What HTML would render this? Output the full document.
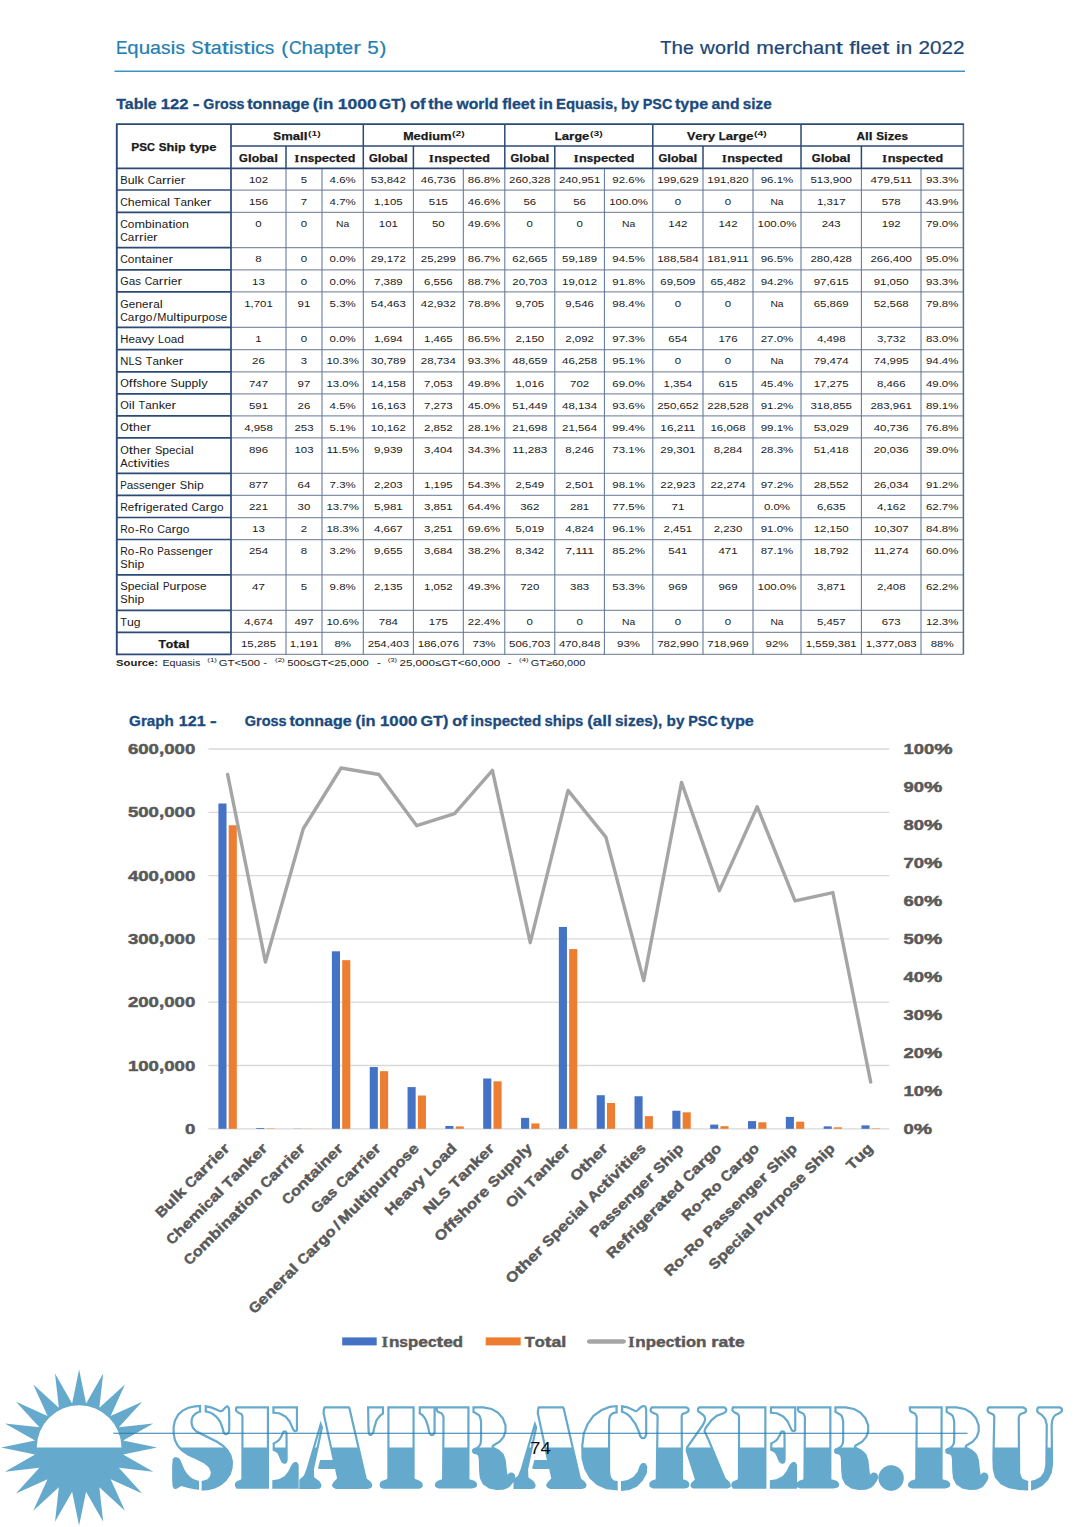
<!DOCTYPE html>
<html><head><meta charset="utf-8"><title>Equasis Statistics - Table 122 / Graph 121</title>
<style>
html,body{margin:0;padding:0;background:#fff;}
body{width:1080px;height:1527px;overflow:hidden;font-family:"Liberation Sans",sans-serif;}
svg{display:block;}
svg text{font-family:"Liberation Sans",sans-serif;}
</style></head>
<body>
<svg width="1080" height="1527" viewBox="0 0 1080 1527">
<rect width="1080" height="1527" fill="#fff"/>
<g font-size="18.0" fill="#2580b2" stroke="#2580b2" stroke-width="0.2"><text x="115.90" y="53.80" textLength="11.46" lengthAdjust="spacingAndGlyphs">E</text><text x="127.36" y="53.80" textLength="11.29" lengthAdjust="spacingAndGlyphs">q</text><text x="138.65" y="53.80" textLength="11.48" lengthAdjust="spacingAndGlyphs">u</text><text x="150.13" y="53.80" textLength="10.90" lengthAdjust="spacingAndGlyphs">a</text><text x="161.03" y="53.80" textLength="9.45" lengthAdjust="spacingAndGlyphs">s</text><text x="170.47" y="53.80" textLength="4.97" lengthAdjust="spacingAndGlyphs">i</text><text x="175.44" y="53.80" textLength="9.45" lengthAdjust="spacingAndGlyphs">s</text><text x="191.27" y="53.80" textLength="12.40" lengthAdjust="spacingAndGlyphs">S</text><text x="203.67" y="53.80" textLength="7.14" lengthAdjust="spacingAndGlyphs">t</text><text x="210.81" y="53.80" textLength="10.90" lengthAdjust="spacingAndGlyphs">a</text><text x="221.71" y="53.80" textLength="7.14" lengthAdjust="spacingAndGlyphs">t</text><text x="228.85" y="53.80" textLength="4.97" lengthAdjust="spacingAndGlyphs">i</text><text x="233.82" y="53.80" textLength="9.45" lengthAdjust="spacingAndGlyphs">s</text><text x="243.26" y="53.80" textLength="7.14" lengthAdjust="spacingAndGlyphs">t</text><text x="250.41" y="53.80" textLength="4.97" lengthAdjust="spacingAndGlyphs">i</text><text x="255.37" y="53.80" textLength="9.45" lengthAdjust="spacingAndGlyphs">c</text><text x="264.82" y="53.80" textLength="9.45" lengthAdjust="spacingAndGlyphs">s</text><text x="281.32" y="53.80" textLength="6.89" lengthAdjust="spacingAndGlyphs">(</text><text x="288.88" y="53.80" textLength="12.65" lengthAdjust="spacingAndGlyphs">C</text><text x="301.53" y="53.80" textLength="11.48" lengthAdjust="spacingAndGlyphs">h</text><text x="313.01" y="53.80" textLength="10.90" lengthAdjust="spacingAndGlyphs">a</text><text x="323.91" y="53.80" textLength="11.29" lengthAdjust="spacingAndGlyphs">p</text><text x="335.20" y="53.80" textLength="7.14" lengthAdjust="spacingAndGlyphs">t</text><text x="342.34" y="53.80" textLength="10.81" lengthAdjust="spacingAndGlyphs">e</text><text x="353.15" y="53.80" textLength="7.74" lengthAdjust="spacingAndGlyphs">r</text><text x="367.27" y="53.80" textLength="11.53" lengthAdjust="spacingAndGlyphs">5</text><text x="379.47" y="53.80" textLength="6.89" lengthAdjust="spacingAndGlyphs">)</text></g>
<g font-size="18.0" fill="#1c4677" stroke="#1c4677" stroke-width="0.2"><text x="660.27" y="53.80" textLength="11.16" lengthAdjust="spacingAndGlyphs">T</text><text x="671.44" y="53.80" textLength="11.47" lengthAdjust="spacingAndGlyphs">h</text><text x="682.91" y="53.80" textLength="10.80" lengthAdjust="spacingAndGlyphs">e</text><text x="700.08" y="53.80" textLength="14.82" lengthAdjust="spacingAndGlyphs">w</text><text x="714.91" y="53.80" textLength="11.00" lengthAdjust="spacingAndGlyphs">o</text><text x="725.91" y="53.80" textLength="7.74" lengthAdjust="spacingAndGlyphs">r</text><text x="733.64" y="53.80" textLength="4.96" lengthAdjust="spacingAndGlyphs">l</text><text x="738.61" y="53.80" textLength="11.29" lengthAdjust="spacingAndGlyphs">d</text><text x="756.27" y="53.80" textLength="17.63" lengthAdjust="spacingAndGlyphs">m</text><text x="773.91" y="53.80" textLength="10.80" lengthAdjust="spacingAndGlyphs">e</text><text x="784.70" y="53.80" textLength="7.74" lengthAdjust="spacingAndGlyphs">r</text><text x="792.44" y="53.80" textLength="9.44" lengthAdjust="spacingAndGlyphs">c</text><text x="801.88" y="53.80" textLength="11.47" lengthAdjust="spacingAndGlyphs">h</text><text x="813.35" y="53.80" textLength="10.89" lengthAdjust="spacingAndGlyphs">a</text><text x="824.24" y="53.80" textLength="11.47" lengthAdjust="spacingAndGlyphs">n</text><text x="835.71" y="53.80" textLength="7.14" lengthAdjust="spacingAndGlyphs">t</text><text x="849.23" y="53.80" textLength="6.38" lengthAdjust="spacingAndGlyphs">f</text><text x="855.61" y="53.80" textLength="4.96" lengthAdjust="spacingAndGlyphs">l</text><text x="860.57" y="53.80" textLength="10.80" lengthAdjust="spacingAndGlyphs">e</text><text x="871.37" y="53.80" textLength="10.80" lengthAdjust="spacingAndGlyphs">e</text><text x="882.17" y="53.80" textLength="7.14" lengthAdjust="spacingAndGlyphs">t</text><text x="895.69" y="53.80" textLength="4.96" lengthAdjust="spacingAndGlyphs">i</text><text x="900.65" y="53.80" textLength="11.47" lengthAdjust="spacingAndGlyphs">n</text><text x="918.50" y="53.80" textLength="11.52" lengthAdjust="spacingAndGlyphs">2</text><text x="930.03" y="53.80" textLength="11.52" lengthAdjust="spacingAndGlyphs">0</text><text x="941.55" y="53.80" textLength="11.52" lengthAdjust="spacingAndGlyphs">2</text><text x="953.08" y="53.80" textLength="11.52" lengthAdjust="spacingAndGlyphs">2</text></g>
<line x1="114.50" y1="71.20" x2="965.00" y2="71.20" stroke="#3b93c4" stroke-width="1.6"/>
<text x="116.30" y="108.70" font-size="15.1" font-weight="bold" fill="#1b4a7e" textLength="40.40" lengthAdjust="spacingAndGlyphs" stroke="#1b4a7e" stroke-width="0.3">Table</text>
<text x="160.70" y="108.70" font-size="15.1" font-weight="bold" fill="#1b4a7e" textLength="27.70" lengthAdjust="spacingAndGlyphs" stroke="#1b4a7e" stroke-width="0.3">122</text>
<text x="192.70" y="108.70" font-size="15.1" font-weight="bold" fill="#1b4a7e" textLength="6.80" lengthAdjust="spacingAndGlyphs" stroke="#1b4a7e" stroke-width="0.3">-</text>
<text x="203.30" y="108.70" font-size="15.1" font-weight="bold" fill="#1b4a7e" textLength="41.20" lengthAdjust="spacingAndGlyphs" stroke="#1b4a7e" stroke-width="0.3">Gross</text>
<text x="247.20" y="108.70" font-size="15.1" font-weight="bold" fill="#1b4a7e" textLength="62.30" lengthAdjust="spacingAndGlyphs" stroke="#1b4a7e" stroke-width="0.3">tonnage</text>
<text x="312.70" y="108.70" font-size="15.1" font-weight="bold" fill="#1b4a7e" textLength="20.70" lengthAdjust="spacingAndGlyphs" stroke="#1b4a7e" stroke-width="0.3">(in</text>
<text x="337.70" y="108.70" font-size="15.1" font-weight="bold" fill="#1b4a7e" textLength="39.00" lengthAdjust="spacingAndGlyphs" stroke="#1b4a7e" stroke-width="0.3">1000</text>
<text x="379.00" y="108.70" font-size="15.1" font-weight="bold" fill="#1b4a7e" textLength="26.90" lengthAdjust="spacingAndGlyphs" stroke="#1b4a7e" stroke-width="0.3">GT)</text>
<text x="410.00" y="108.70" font-size="15.1" font-weight="bold" fill="#1b4a7e" textLength="15.60" lengthAdjust="spacingAndGlyphs" stroke="#1b4a7e" stroke-width="0.3">of</text>
<text x="428.30" y="108.70" font-size="15.1" font-weight="bold" fill="#1b4a7e" textLength="24.50" lengthAdjust="spacingAndGlyphs" stroke="#1b4a7e" stroke-width="0.3">the</text>
<text x="456.60" y="108.70" font-size="15.1" font-weight="bold" fill="#1b4a7e" textLength="41.80" lengthAdjust="spacingAndGlyphs" stroke="#1b4a7e" stroke-width="0.3">world</text>
<text x="502.20" y="108.70" font-size="15.1" font-weight="bold" fill="#1b4a7e" textLength="32.80" lengthAdjust="spacingAndGlyphs" stroke="#1b4a7e" stroke-width="0.3">fleet</text>
<text x="538.80" y="108.70" font-size="15.1" font-weight="bold" fill="#1b4a7e" textLength="14.00" lengthAdjust="spacingAndGlyphs" stroke="#1b4a7e" stroke-width="0.3">in</text>
<text x="556.10" y="108.70" font-size="15.1" font-weight="bold" fill="#1b4a7e" textLength="61.20" lengthAdjust="spacingAndGlyphs" stroke="#1b4a7e" stroke-width="0.3">Equasis,</text>
<text x="621.10" y="108.70" font-size="15.1" font-weight="bold" fill="#1b4a7e" textLength="17.80" lengthAdjust="spacingAndGlyphs" stroke="#1b4a7e" stroke-width="0.3">by</text>
<text x="642.70" y="108.70" font-size="15.1" font-weight="bold" fill="#1b4a7e" textLength="29.60" lengthAdjust="spacingAndGlyphs" stroke="#1b4a7e" stroke-width="0.3">PSC</text>
<text x="675.00" y="108.70" font-size="15.1" font-weight="bold" fill="#1b4a7e" textLength="33.10" lengthAdjust="spacingAndGlyphs" stroke="#1b4a7e" stroke-width="0.3">type</text>
<text x="711.60" y="108.70" font-size="15.1" font-weight="bold" fill="#1b4a7e" textLength="27.90" lengthAdjust="spacingAndGlyphs" stroke="#1b4a7e" stroke-width="0.3">and</text>
<text x="742.70" y="108.70" font-size="15.1" font-weight="bold" fill="#1b4a7e" textLength="29.00" lengthAdjust="spacingAndGlyphs" stroke="#1b4a7e" stroke-width="0.3">size</text>
<line x1="231.00" y1="190.00" x2="963.40" y2="190.00" stroke="#8592a8" stroke-width="1.25"/>
<line x1="231.00" y1="212.30" x2="963.40" y2="212.30" stroke="#8592a8" stroke-width="1.25"/>
<line x1="231.00" y1="247.60" x2="963.40" y2="247.60" stroke="#8592a8" stroke-width="1.25"/>
<line x1="231.00" y1="269.80" x2="963.40" y2="269.80" stroke="#8592a8" stroke-width="1.25"/>
<line x1="231.00" y1="291.90" x2="963.40" y2="291.90" stroke="#8592a8" stroke-width="1.25"/>
<line x1="231.00" y1="327.30" x2="963.40" y2="327.30" stroke="#8592a8" stroke-width="1.25"/>
<line x1="231.00" y1="349.70" x2="963.40" y2="349.70" stroke="#8592a8" stroke-width="1.25"/>
<line x1="231.00" y1="371.80" x2="963.40" y2="371.80" stroke="#8592a8" stroke-width="1.25"/>
<line x1="231.00" y1="393.80" x2="963.40" y2="393.80" stroke="#8592a8" stroke-width="1.25"/>
<line x1="231.00" y1="415.80" x2="963.40" y2="415.80" stroke="#8592a8" stroke-width="1.25"/>
<line x1="231.00" y1="437.90" x2="963.40" y2="437.90" stroke="#8592a8" stroke-width="1.25"/>
<line x1="231.00" y1="473.30" x2="963.40" y2="473.30" stroke="#8592a8" stroke-width="1.25"/>
<line x1="231.00" y1="495.30" x2="963.40" y2="495.30" stroke="#8592a8" stroke-width="1.25"/>
<line x1="231.00" y1="517.50" x2="963.40" y2="517.50" stroke="#8592a8" stroke-width="1.25"/>
<line x1="231.00" y1="539.50" x2="963.40" y2="539.50" stroke="#8592a8" stroke-width="1.25"/>
<line x1="231.00" y1="574.80" x2="963.40" y2="574.80" stroke="#8592a8" stroke-width="1.25"/>
<line x1="231.00" y1="610.30" x2="963.40" y2="610.30" stroke="#8592a8" stroke-width="1.25"/>
<line x1="231.00" y1="632.40" x2="963.40" y2="632.40" stroke="#8592a8" stroke-width="1.25"/>
<line x1="231.00" y1="654.40" x2="963.40" y2="654.40" stroke="#8592a8" stroke-width="1.4"/>
<line x1="286.00" y1="168.30" x2="286.00" y2="654.40" stroke="#5f789b" stroke-width="1.05"/>
<line x1="322.00" y1="168.30" x2="322.00" y2="654.40" stroke="#5f789b" stroke-width="1.05"/>
<line x1="363.30" y1="168.30" x2="363.30" y2="654.40" stroke="#5f789b" stroke-width="1.05"/>
<line x1="413.40" y1="168.30" x2="413.40" y2="654.40" stroke="#5f789b" stroke-width="1.05"/>
<line x1="463.30" y1="168.30" x2="463.30" y2="654.40" stroke="#5f789b" stroke-width="1.05"/>
<line x1="504.80" y1="168.30" x2="504.80" y2="654.40" stroke="#5f789b" stroke-width="1.05"/>
<line x1="554.80" y1="168.30" x2="554.80" y2="654.40" stroke="#5f789b" stroke-width="1.05"/>
<line x1="604.40" y1="168.30" x2="604.40" y2="654.40" stroke="#5f789b" stroke-width="1.05"/>
<line x1="652.80" y1="168.30" x2="652.80" y2="654.40" stroke="#5f789b" stroke-width="1.05"/>
<line x1="703.00" y1="168.30" x2="703.00" y2="654.40" stroke="#5f789b" stroke-width="1.05"/>
<line x1="753.00" y1="168.30" x2="753.00" y2="654.40" stroke="#5f789b" stroke-width="1.05"/>
<line x1="801.00" y1="168.30" x2="801.00" y2="654.40" stroke="#5f789b" stroke-width="1.05"/>
<line x1="861.40" y1="168.30" x2="861.40" y2="654.40" stroke="#5f789b" stroke-width="1.05"/>
<line x1="921.00" y1="168.30" x2="921.00" y2="654.40" stroke="#5f789b" stroke-width="1.05"/>
<line x1="363.30" y1="124.20" x2="363.30" y2="168.30" stroke="#2c4a76" stroke-width="1.5"/>
<line x1="504.80" y1="124.20" x2="504.80" y2="168.30" stroke="#2c4a76" stroke-width="1.5"/>
<line x1="652.80" y1="124.20" x2="652.80" y2="168.30" stroke="#2c4a76" stroke-width="1.5"/>
<line x1="801.00" y1="124.20" x2="801.00" y2="168.30" stroke="#2c4a76" stroke-width="1.5"/>
<line x1="286.00" y1="146.00" x2="286.00" y2="168.30" stroke="#2c4a76" stroke-width="1.5"/>
<line x1="413.40" y1="146.00" x2="413.40" y2="168.30" stroke="#2c4a76" stroke-width="1.5"/>
<line x1="554.80" y1="146.00" x2="554.80" y2="168.30" stroke="#2c4a76" stroke-width="1.5"/>
<line x1="703.00" y1="146.00" x2="703.00" y2="168.30" stroke="#2c4a76" stroke-width="1.5"/>
<line x1="861.40" y1="146.00" x2="861.40" y2="168.30" stroke="#2c4a76" stroke-width="1.5"/>
<line x1="231.00" y1="146.00" x2="963.40" y2="146.00" stroke="#2c4a76" stroke-width="1.6"/>
<line x1="116.80" y1="168.30" x2="963.40" y2="168.30" stroke="#2c4a76" stroke-width="1.8"/>
<line x1="116.80" y1="190.00" x2="231.00" y2="190.00" stroke="#2c4a76" stroke-width="1.7"/>
<line x1="116.80" y1="212.30" x2="231.00" y2="212.30" stroke="#2c4a76" stroke-width="1.7"/>
<line x1="116.80" y1="247.60" x2="231.00" y2="247.60" stroke="#2c4a76" stroke-width="1.7"/>
<line x1="116.80" y1="269.80" x2="231.00" y2="269.80" stroke="#2c4a76" stroke-width="1.7"/>
<line x1="116.80" y1="291.90" x2="231.00" y2="291.90" stroke="#2c4a76" stroke-width="1.7"/>
<line x1="116.80" y1="327.30" x2="231.00" y2="327.30" stroke="#2c4a76" stroke-width="1.7"/>
<line x1="116.80" y1="349.70" x2="231.00" y2="349.70" stroke="#2c4a76" stroke-width="1.7"/>
<line x1="116.80" y1="371.80" x2="231.00" y2="371.80" stroke="#2c4a76" stroke-width="1.7"/>
<line x1="116.80" y1="393.80" x2="231.00" y2="393.80" stroke="#2c4a76" stroke-width="1.7"/>
<line x1="116.80" y1="415.80" x2="231.00" y2="415.80" stroke="#2c4a76" stroke-width="1.7"/>
<line x1="116.80" y1="437.90" x2="231.00" y2="437.90" stroke="#2c4a76" stroke-width="1.7"/>
<line x1="116.80" y1="473.30" x2="231.00" y2="473.30" stroke="#2c4a76" stroke-width="1.7"/>
<line x1="116.80" y1="495.30" x2="231.00" y2="495.30" stroke="#2c4a76" stroke-width="1.7"/>
<line x1="116.80" y1="517.50" x2="231.00" y2="517.50" stroke="#2c4a76" stroke-width="1.7"/>
<line x1="116.80" y1="539.50" x2="231.00" y2="539.50" stroke="#2c4a76" stroke-width="1.7"/>
<line x1="116.80" y1="574.80" x2="231.00" y2="574.80" stroke="#2c4a76" stroke-width="1.7"/>
<line x1="116.80" y1="610.30" x2="231.00" y2="610.30" stroke="#2c4a76" stroke-width="1.7"/>
<line x1="116.80" y1="632.40" x2="231.00" y2="632.40" stroke="#2c4a76" stroke-width="1.7"/>
<line x1="116.80" y1="654.40" x2="231.00" y2="654.40" stroke="#2c4a76" stroke-width="1.7"/>
<line x1="963.40" y1="124.20" x2="963.40" y2="654.40" stroke="#4d6a92" stroke-width="1.5"/>
<line x1="231.00" y1="124.20" x2="231.00" y2="654.40" stroke="#2c4a76" stroke-width="1.7"/>
<line x1="116.00" y1="124.20" x2="964.10" y2="124.20" stroke="#2c4a76" stroke-width="1.8"/>
<line x1="116.80" y1="124.20" x2="116.80" y2="655.30" stroke="#2c4a76" stroke-width="1.9"/>
<g font-size="10.9" fill="#1a1a1a" font-weight="bold" stroke="#1a1a1a" stroke-width="0.25"><text x="131.36" y="150.90" textLength="8.01" lengthAdjust="spacingAndGlyphs">P</text><text x="139.37" y="150.90" textLength="7.76" lengthAdjust="spacingAndGlyphs">S</text><text x="147.13" y="150.90" textLength="7.91" lengthAdjust="spacingAndGlyphs">C</text><text x="158.78" y="150.90" textLength="7.76" lengthAdjust="spacingAndGlyphs">S</text><text x="166.54" y="150.90" textLength="7.78" lengthAdjust="spacingAndGlyphs">h</text><text x="174.33" y="150.90" textLength="3.74" lengthAdjust="spacingAndGlyphs">i</text><text x="178.06" y="150.90" textLength="7.64" lengthAdjust="spacingAndGlyphs">p</text><text x="189.44" y="150.90" textLength="4.98" lengthAdjust="spacingAndGlyphs">t</text><text x="194.43" y="150.90" textLength="7.12" lengthAdjust="spacingAndGlyphs">y</text><text x="201.54" y="150.90" textLength="7.64" lengthAdjust="spacingAndGlyphs">p</text><text x="209.18" y="150.90" textLength="7.26" lengthAdjust="spacingAndGlyphs">e</text></g>
<g font-size="10.9" fill="#1a1a1a" font-weight="bold" stroke="#1a1a1a" stroke-width="0.25"><text x="273.39" y="139.80" textLength="7.76" lengthAdjust="spacingAndGlyphs">S</text><text x="281.15" y="139.80" textLength="11.56" lengthAdjust="spacingAndGlyphs">m</text><text x="292.71" y="139.80" textLength="7.30" lengthAdjust="spacingAndGlyphs">a</text><text x="300.01" y="139.80" textLength="3.74" lengthAdjust="spacingAndGlyphs">l</text><text x="303.75" y="139.80" textLength="3.74" lengthAdjust="spacingAndGlyphs">l</text></g>
<text x="308.09" y="136.00" font-size="6.5" font-weight="bold" fill="#1a1a1a" textLength="12.59" lengthAdjust="spacingAndGlyphs">(1)</text>
<g font-size="10.9" fill="#1a1a1a" font-weight="bold" stroke="#1a1a1a" stroke-width="0.25"><text x="239.10" y="161.60" textLength="8.86" lengthAdjust="spacingAndGlyphs">G</text><text x="247.97" y="161.60" textLength="3.74" lengthAdjust="spacingAndGlyphs">l</text><text x="251.71" y="161.60" textLength="7.51" lengthAdjust="spacingAndGlyphs">o</text><text x="259.22" y="161.60" textLength="7.64" lengthAdjust="spacingAndGlyphs">b</text><text x="266.86" y="161.60" textLength="7.30" lengthAdjust="spacingAndGlyphs">a</text><text x="274.16" y="161.60" textLength="3.74" lengthAdjust="spacingAndGlyphs">l</text></g>
<g font-size="10.9" fill="#1a1a1a" font-weight="bold" stroke="#1a1a1a" stroke-width="0.25"><text x="294.59" y="161.60" style="font-family:&quot;Liberation Serif&quot;,serif" textLength="4.65" lengthAdjust="spacingAndGlyphs">I</text><text x="299.90" y="161.60" textLength="7.78" lengthAdjust="spacingAndGlyphs">n</text><text x="307.68" y="161.60" textLength="6.48" lengthAdjust="spacingAndGlyphs">s</text><text x="314.16" y="161.60" textLength="7.64" lengthAdjust="spacingAndGlyphs">p</text><text x="321.80" y="161.60" textLength="7.26" lengthAdjust="spacingAndGlyphs">e</text><text x="329.06" y="161.60" textLength="6.43" lengthAdjust="spacingAndGlyphs">c</text><text x="335.49" y="161.60" textLength="4.98" lengthAdjust="spacingAndGlyphs">t</text><text x="340.47" y="161.60" textLength="7.26" lengthAdjust="spacingAndGlyphs">e</text><text x="347.73" y="161.60" textLength="7.64" lengthAdjust="spacingAndGlyphs">d</text></g>
<g font-size="10.9" fill="#1a1a1a" font-weight="bold" stroke="#1a1a1a" stroke-width="0.25"><text x="403.17" y="139.80" textLength="10.36" lengthAdjust="spacingAndGlyphs">M</text><text x="413.53" y="139.80" textLength="7.26" lengthAdjust="spacingAndGlyphs">e</text><text x="420.79" y="139.80" textLength="7.64" lengthAdjust="spacingAndGlyphs">d</text><text x="428.43" y="139.80" textLength="3.74" lengthAdjust="spacingAndGlyphs">i</text><text x="432.16" y="139.80" textLength="7.78" lengthAdjust="spacingAndGlyphs">u</text><text x="439.95" y="139.80" textLength="11.56" lengthAdjust="spacingAndGlyphs">m</text></g>
<text x="452.11" y="136.00" font-size="6.5" font-weight="bold" fill="#1a1a1a" textLength="12.59" lengthAdjust="spacingAndGlyphs">(2)</text>
<g font-size="10.9" fill="#1a1a1a" font-weight="bold" stroke="#1a1a1a" stroke-width="0.25"><text x="368.95" y="161.60" textLength="8.86" lengthAdjust="spacingAndGlyphs">G</text><text x="377.82" y="161.60" textLength="3.74" lengthAdjust="spacingAndGlyphs">l</text><text x="381.56" y="161.60" textLength="7.51" lengthAdjust="spacingAndGlyphs">o</text><text x="389.07" y="161.60" textLength="7.64" lengthAdjust="spacingAndGlyphs">b</text><text x="396.71" y="161.60" textLength="7.30" lengthAdjust="spacingAndGlyphs">a</text><text x="404.01" y="161.60" textLength="3.74" lengthAdjust="spacingAndGlyphs">l</text></g>
<g font-size="10.9" fill="#1a1a1a" font-weight="bold" stroke="#1a1a1a" stroke-width="0.25"><text x="429.04" y="161.60" style="font-family:&quot;Liberation Serif&quot;,serif" textLength="4.65" lengthAdjust="spacingAndGlyphs">I</text><text x="434.35" y="161.60" textLength="7.78" lengthAdjust="spacingAndGlyphs">n</text><text x="442.13" y="161.60" textLength="6.48" lengthAdjust="spacingAndGlyphs">s</text><text x="448.61" y="161.60" textLength="7.64" lengthAdjust="spacingAndGlyphs">p</text><text x="456.25" y="161.60" textLength="7.26" lengthAdjust="spacingAndGlyphs">e</text><text x="463.51" y="161.60" textLength="6.43" lengthAdjust="spacingAndGlyphs">c</text><text x="469.94" y="161.60" textLength="4.98" lengthAdjust="spacingAndGlyphs">t</text><text x="474.92" y="161.60" textLength="7.26" lengthAdjust="spacingAndGlyphs">e</text><text x="482.18" y="161.60" textLength="7.64" lengthAdjust="spacingAndGlyphs">d</text></g>
<g font-size="10.9" fill="#1a1a1a" font-weight="bold" stroke="#1a1a1a" stroke-width="0.25"><text x="554.79" y="139.80" textLength="6.96" lengthAdjust="spacingAndGlyphs">L</text><text x="561.75" y="139.80" textLength="7.30" lengthAdjust="spacingAndGlyphs">a</text><text x="569.06" y="139.80" textLength="5.43" lengthAdjust="spacingAndGlyphs">r</text><text x="574.49" y="139.80" textLength="7.64" lengthAdjust="spacingAndGlyphs">g</text><text x="582.13" y="139.80" textLength="7.26" lengthAdjust="spacingAndGlyphs">e</text></g>
<text x="589.99" y="136.00" font-size="6.5" font-weight="bold" fill="#1a1a1a" textLength="12.59" lengthAdjust="spacingAndGlyphs">(3)</text>
<g font-size="10.9" fill="#1a1a1a" font-weight="bold" stroke="#1a1a1a" stroke-width="0.25"><text x="510.40" y="161.60" textLength="8.86" lengthAdjust="spacingAndGlyphs">G</text><text x="519.27" y="161.60" textLength="3.74" lengthAdjust="spacingAndGlyphs">l</text><text x="523.01" y="161.60" textLength="7.51" lengthAdjust="spacingAndGlyphs">o</text><text x="530.52" y="161.60" textLength="7.64" lengthAdjust="spacingAndGlyphs">b</text><text x="538.16" y="161.60" textLength="7.30" lengthAdjust="spacingAndGlyphs">a</text><text x="545.46" y="161.60" textLength="3.74" lengthAdjust="spacingAndGlyphs">l</text></g>
<g font-size="10.9" fill="#1a1a1a" font-weight="bold" stroke="#1a1a1a" stroke-width="0.25"><text x="573.74" y="161.60" style="font-family:&quot;Liberation Serif&quot;,serif" textLength="4.65" lengthAdjust="spacingAndGlyphs">I</text><text x="579.05" y="161.60" textLength="7.78" lengthAdjust="spacingAndGlyphs">n</text><text x="586.83" y="161.60" textLength="6.48" lengthAdjust="spacingAndGlyphs">s</text><text x="593.31" y="161.60" textLength="7.64" lengthAdjust="spacingAndGlyphs">p</text><text x="600.95" y="161.60" textLength="7.26" lengthAdjust="spacingAndGlyphs">e</text><text x="608.21" y="161.60" textLength="6.43" lengthAdjust="spacingAndGlyphs">c</text><text x="614.64" y="161.60" textLength="4.98" lengthAdjust="spacingAndGlyphs">t</text><text x="619.62" y="161.60" textLength="7.26" lengthAdjust="spacingAndGlyphs">e</text><text x="626.88" y="161.60" textLength="7.64" lengthAdjust="spacingAndGlyphs">d</text></g>
<g font-size="10.9" fill="#1a1a1a" font-weight="bold" stroke="#1a1a1a" stroke-width="0.25"><text x="686.95" y="139.80" textLength="8.35" lengthAdjust="spacingAndGlyphs">V</text><text x="695.30" y="139.80" textLength="7.26" lengthAdjust="spacingAndGlyphs">e</text><text x="702.55" y="139.80" textLength="5.43" lengthAdjust="spacingAndGlyphs">r</text><text x="707.99" y="139.80" textLength="7.12" lengthAdjust="spacingAndGlyphs">y</text><text x="718.84" y="139.80" textLength="6.96" lengthAdjust="spacingAndGlyphs">L</text><text x="725.80" y="139.80" textLength="7.30" lengthAdjust="spacingAndGlyphs">a</text><text x="733.10" y="139.80" textLength="5.43" lengthAdjust="spacingAndGlyphs">r</text><text x="738.54" y="139.80" textLength="7.64" lengthAdjust="spacingAndGlyphs">g</text><text x="746.18" y="139.80" textLength="7.26" lengthAdjust="spacingAndGlyphs">e</text></g>
<text x="754.03" y="136.00" font-size="6.5" font-weight="bold" fill="#1a1a1a" textLength="12.59" lengthAdjust="spacingAndGlyphs">(4)</text>
<g font-size="10.9" fill="#1a1a1a" font-weight="bold" stroke="#1a1a1a" stroke-width="0.25"><text x="658.50" y="161.60" textLength="8.86" lengthAdjust="spacingAndGlyphs">G</text><text x="667.37" y="161.60" textLength="3.74" lengthAdjust="spacingAndGlyphs">l</text><text x="671.11" y="161.60" textLength="7.51" lengthAdjust="spacingAndGlyphs">o</text><text x="678.62" y="161.60" textLength="7.64" lengthAdjust="spacingAndGlyphs">b</text><text x="686.26" y="161.60" textLength="7.30" lengthAdjust="spacingAndGlyphs">a</text><text x="693.56" y="161.60" textLength="3.74" lengthAdjust="spacingAndGlyphs">l</text></g>
<g font-size="10.9" fill="#1a1a1a" font-weight="bold" stroke="#1a1a1a" stroke-width="0.25"><text x="721.94" y="161.60" style="font-family:&quot;Liberation Serif&quot;,serif" textLength="4.65" lengthAdjust="spacingAndGlyphs">I</text><text x="727.25" y="161.60" textLength="7.78" lengthAdjust="spacingAndGlyphs">n</text><text x="735.03" y="161.60" textLength="6.48" lengthAdjust="spacingAndGlyphs">s</text><text x="741.51" y="161.60" textLength="7.64" lengthAdjust="spacingAndGlyphs">p</text><text x="749.15" y="161.60" textLength="7.26" lengthAdjust="spacingAndGlyphs">e</text><text x="756.41" y="161.60" textLength="6.43" lengthAdjust="spacingAndGlyphs">c</text><text x="762.84" y="161.60" textLength="4.98" lengthAdjust="spacingAndGlyphs">t</text><text x="767.82" y="161.60" textLength="7.26" lengthAdjust="spacingAndGlyphs">e</text><text x="775.08" y="161.60" textLength="7.64" lengthAdjust="spacingAndGlyphs">d</text></g>
<g font-size="10.9" fill="#1a1a1a" font-weight="bold" stroke="#1a1a1a" stroke-width="0.25"><text x="856.47" y="139.80" textLength="8.48" lengthAdjust="spacingAndGlyphs">A</text><text x="864.95" y="139.80" textLength="3.74" lengthAdjust="spacingAndGlyphs">l</text><text x="868.69" y="139.80" textLength="3.74" lengthAdjust="spacingAndGlyphs">l</text><text x="876.17" y="139.80" textLength="7.76" lengthAdjust="spacingAndGlyphs">S</text><text x="883.93" y="139.80" textLength="3.74" lengthAdjust="spacingAndGlyphs">i</text><text x="887.67" y="139.80" textLength="6.53" lengthAdjust="spacingAndGlyphs">z</text><text x="894.19" y="139.80" textLength="7.26" lengthAdjust="spacingAndGlyphs">e</text><text x="901.45" y="139.80" textLength="6.48" lengthAdjust="spacingAndGlyphs">s</text></g>
<g font-size="10.9" fill="#1a1a1a" font-weight="bold" stroke="#1a1a1a" stroke-width="0.25"><text x="811.80" y="161.60" textLength="8.86" lengthAdjust="spacingAndGlyphs">G</text><text x="820.67" y="161.60" textLength="3.74" lengthAdjust="spacingAndGlyphs">l</text><text x="824.41" y="161.60" textLength="7.51" lengthAdjust="spacingAndGlyphs">o</text><text x="831.92" y="161.60" textLength="7.64" lengthAdjust="spacingAndGlyphs">b</text><text x="839.56" y="161.60" textLength="7.30" lengthAdjust="spacingAndGlyphs">a</text><text x="846.86" y="161.60" textLength="3.74" lengthAdjust="spacingAndGlyphs">l</text></g>
<g font-size="10.9" fill="#1a1a1a" font-weight="bold" stroke="#1a1a1a" stroke-width="0.25"><text x="882.34" y="161.60" style="font-family:&quot;Liberation Serif&quot;,serif" textLength="4.65" lengthAdjust="spacingAndGlyphs">I</text><text x="887.65" y="161.60" textLength="7.78" lengthAdjust="spacingAndGlyphs">n</text><text x="895.43" y="161.60" textLength="6.48" lengthAdjust="spacingAndGlyphs">s</text><text x="901.91" y="161.60" textLength="7.64" lengthAdjust="spacingAndGlyphs">p</text><text x="909.55" y="161.60" textLength="7.26" lengthAdjust="spacingAndGlyphs">e</text><text x="916.81" y="161.60" textLength="6.43" lengthAdjust="spacingAndGlyphs">c</text><text x="923.24" y="161.60" textLength="4.98" lengthAdjust="spacingAndGlyphs">t</text><text x="928.22" y="161.60" textLength="7.26" lengthAdjust="spacingAndGlyphs">e</text><text x="935.48" y="161.60" textLength="7.64" lengthAdjust="spacingAndGlyphs">d</text></g>
<g font-size="10.45" fill="#1a1a1a"><text x="120.30" y="183.90" textLength="7.45" lengthAdjust="spacingAndGlyphs">B</text><text x="127.75" y="183.90" textLength="6.87" lengthAdjust="spacingAndGlyphs">u</text><text x="134.62" y="183.90" textLength="2.98" lengthAdjust="spacingAndGlyphs">l</text><text x="137.60" y="183.90" textLength="6.43" lengthAdjust="spacingAndGlyphs">k</text><text x="147.85" y="183.90" textLength="7.58" lengthAdjust="spacingAndGlyphs">C</text><text x="155.43" y="183.90" textLength="6.53" lengthAdjust="spacingAndGlyphs">a</text><text x="161.96" y="183.90" textLength="4.64" lengthAdjust="spacingAndGlyphs">r</text><text x="166.60" y="183.90" textLength="4.64" lengthAdjust="spacingAndGlyphs">r</text><text x="171.23" y="183.90" textLength="2.98" lengthAdjust="spacingAndGlyphs">i</text><text x="174.21" y="183.90" textLength="6.47" lengthAdjust="spacingAndGlyphs">e</text><text x="180.68" y="183.90" textLength="4.64" lengthAdjust="spacingAndGlyphs">r</text></g>
<text x="258.50" y="183.00" font-size="9.85" text-anchor="middle" fill="#1a1a1a" textLength="19.10" lengthAdjust="spacingAndGlyphs">102</text>
<text x="304.00" y="183.00" font-size="9.85" text-anchor="middle" fill="#1a1a1a" textLength="6.37" lengthAdjust="spacingAndGlyphs">5</text>
<text x="342.65" y="183.00" font-size="9.85" text-anchor="middle" fill="#1a1a1a" textLength="26.10" lengthAdjust="spacingAndGlyphs">4.6%</text>
<text x="388.35" y="183.00" font-size="9.85" text-anchor="middle" fill="#1a1a1a" textLength="35.02" lengthAdjust="spacingAndGlyphs">53,842</text>
<text x="438.35" y="183.00" font-size="9.85" text-anchor="middle" fill="#1a1a1a" textLength="35.02" lengthAdjust="spacingAndGlyphs">46,736</text>
<text x="484.05" y="183.00" font-size="9.85" text-anchor="middle" fill="#1a1a1a" textLength="32.47" lengthAdjust="spacingAndGlyphs">86.8%</text>
<text x="529.80" y="183.00" font-size="9.85" text-anchor="middle" fill="#1a1a1a" textLength="41.39" lengthAdjust="spacingAndGlyphs">260,328</text>
<text x="579.60" y="183.00" font-size="9.85" text-anchor="middle" fill="#1a1a1a" textLength="41.39" lengthAdjust="spacingAndGlyphs">240,951</text>
<text x="628.60" y="183.00" font-size="9.85" text-anchor="middle" fill="#1a1a1a" textLength="32.47" lengthAdjust="spacingAndGlyphs">92.6%</text>
<text x="677.90" y="183.00" font-size="9.85" text-anchor="middle" fill="#1a1a1a" textLength="41.39" lengthAdjust="spacingAndGlyphs">199,629</text>
<text x="728.00" y="183.00" font-size="9.85" text-anchor="middle" fill="#1a1a1a" textLength="41.39" lengthAdjust="spacingAndGlyphs">191,820</text>
<text x="777.00" y="183.00" font-size="9.85" text-anchor="middle" fill="#1a1a1a" textLength="32.47" lengthAdjust="spacingAndGlyphs">96.1%</text>
<text x="831.20" y="183.00" font-size="9.85" text-anchor="middle" fill="#1a1a1a" textLength="41.39" lengthAdjust="spacingAndGlyphs">513,900</text>
<text x="891.20" y="183.00" font-size="9.85" text-anchor="middle" fill="#1a1a1a" textLength="41.39" lengthAdjust="spacingAndGlyphs">479,511</text>
<text x="942.20" y="183.00" font-size="9.85" text-anchor="middle" fill="#1a1a1a" textLength="32.47" lengthAdjust="spacingAndGlyphs">93.3%</text>
<g font-size="10.45" fill="#1a1a1a"><text x="120.30" y="205.60" textLength="7.58" lengthAdjust="spacingAndGlyphs">C</text><text x="127.88" y="205.60" textLength="6.87" lengthAdjust="spacingAndGlyphs">h</text><text x="134.75" y="205.60" textLength="6.47" lengthAdjust="spacingAndGlyphs">e</text><text x="141.23" y="205.60" textLength="10.57" lengthAdjust="spacingAndGlyphs">m</text><text x="151.79" y="205.60" textLength="2.98" lengthAdjust="spacingAndGlyphs">i</text><text x="154.77" y="205.60" textLength="5.66" lengthAdjust="spacingAndGlyphs">c</text><text x="160.43" y="205.60" textLength="6.53" lengthAdjust="spacingAndGlyphs">a</text><text x="166.95" y="205.60" textLength="2.98" lengthAdjust="spacingAndGlyphs">l</text><text x="173.75" y="205.60" textLength="6.69" lengthAdjust="spacingAndGlyphs">T</text><text x="180.44" y="205.60" textLength="6.53" lengthAdjust="spacingAndGlyphs">a</text><text x="186.97" y="205.60" textLength="6.87" lengthAdjust="spacingAndGlyphs">n</text><text x="193.84" y="205.60" textLength="6.43" lengthAdjust="spacingAndGlyphs">k</text><text x="200.27" y="205.60" textLength="6.47" lengthAdjust="spacingAndGlyphs">e</text><text x="206.75" y="205.60" textLength="4.64" lengthAdjust="spacingAndGlyphs">r</text></g>
<text x="258.50" y="204.70" font-size="9.85" text-anchor="middle" fill="#1a1a1a" textLength="19.10" lengthAdjust="spacingAndGlyphs">156</text>
<text x="304.00" y="204.70" font-size="9.85" text-anchor="middle" fill="#1a1a1a" textLength="6.37" lengthAdjust="spacingAndGlyphs">7</text>
<text x="342.65" y="204.70" font-size="9.85" text-anchor="middle" fill="#1a1a1a" textLength="26.10" lengthAdjust="spacingAndGlyphs">4.7%</text>
<text x="388.35" y="204.70" font-size="9.85" text-anchor="middle" fill="#1a1a1a" textLength="28.65" lengthAdjust="spacingAndGlyphs">1,105</text>
<text x="438.35" y="204.70" font-size="9.85" text-anchor="middle" fill="#1a1a1a" textLength="19.10" lengthAdjust="spacingAndGlyphs">515</text>
<text x="484.05" y="204.70" font-size="9.85" text-anchor="middle" fill="#1a1a1a" textLength="32.47" lengthAdjust="spacingAndGlyphs">46.6%</text>
<text x="529.80" y="204.70" font-size="9.85" text-anchor="middle" fill="#1a1a1a" textLength="12.74" lengthAdjust="spacingAndGlyphs">56</text>
<text x="579.60" y="204.70" font-size="9.85" text-anchor="middle" fill="#1a1a1a" textLength="12.74" lengthAdjust="spacingAndGlyphs">56</text>
<text x="628.60" y="204.70" font-size="9.85" text-anchor="middle" fill="#1a1a1a" textLength="38.83" lengthAdjust="spacingAndGlyphs">100.0%</text>
<text x="677.90" y="204.70" font-size="9.85" text-anchor="middle" fill="#1a1a1a" textLength="6.37" lengthAdjust="spacingAndGlyphs">0</text>
<text x="728.00" y="204.70" font-size="9.85" text-anchor="middle" fill="#1a1a1a" textLength="6.37" lengthAdjust="spacingAndGlyphs">0</text>
<text x="777.00" y="204.70" font-size="9.85" text-anchor="middle" fill="#1a1a1a" textLength="13.20" lengthAdjust="spacingAndGlyphs">Na</text>
<text x="831.20" y="204.70" font-size="9.85" text-anchor="middle" fill="#1a1a1a" textLength="28.65" lengthAdjust="spacingAndGlyphs">1,317</text>
<text x="891.20" y="204.70" font-size="9.85" text-anchor="middle" fill="#1a1a1a" textLength="19.10" lengthAdjust="spacingAndGlyphs">578</text>
<text x="942.20" y="204.70" font-size="9.85" text-anchor="middle" fill="#1a1a1a" textLength="32.47" lengthAdjust="spacingAndGlyphs">43.9%</text>
<g font-size="10.45" fill="#1a1a1a"><text x="120.30" y="227.90" textLength="7.58" lengthAdjust="spacingAndGlyphs">C</text><text x="127.88" y="227.90" textLength="6.59" lengthAdjust="spacingAndGlyphs">o</text><text x="134.47" y="227.90" textLength="10.57" lengthAdjust="spacingAndGlyphs">m</text><text x="145.04" y="227.90" textLength="6.77" lengthAdjust="spacingAndGlyphs">b</text><text x="151.80" y="227.90" textLength="2.98" lengthAdjust="spacingAndGlyphs">i</text><text x="154.78" y="227.90" textLength="6.87" lengthAdjust="spacingAndGlyphs">n</text><text x="161.65" y="227.90" textLength="6.53" lengthAdjust="spacingAndGlyphs">a</text><text x="168.18" y="227.90" textLength="4.28" lengthAdjust="spacingAndGlyphs">t</text><text x="172.46" y="227.90" textLength="2.98" lengthAdjust="spacingAndGlyphs">i</text><text x="175.44" y="227.90" textLength="6.59" lengthAdjust="spacingAndGlyphs">o</text><text x="182.03" y="227.90" textLength="6.87" lengthAdjust="spacingAndGlyphs">n</text></g>
<g font-size="10.45" fill="#1a1a1a"><text x="120.30" y="240.90" textLength="7.58" lengthAdjust="spacingAndGlyphs">C</text><text x="127.88" y="240.90" textLength="6.53" lengthAdjust="spacingAndGlyphs">a</text><text x="134.41" y="240.90" textLength="4.64" lengthAdjust="spacingAndGlyphs">r</text><text x="139.04" y="240.90" textLength="4.64" lengthAdjust="spacingAndGlyphs">r</text><text x="143.68" y="240.90" textLength="2.98" lengthAdjust="spacingAndGlyphs">i</text><text x="146.66" y="240.90" textLength="6.47" lengthAdjust="spacingAndGlyphs">e</text><text x="153.13" y="240.90" textLength="4.64" lengthAdjust="spacingAndGlyphs">r</text></g>
<text x="258.50" y="227.00" font-size="9.85" text-anchor="middle" fill="#1a1a1a" textLength="6.37" lengthAdjust="spacingAndGlyphs">0</text>
<text x="304.00" y="227.00" font-size="9.85" text-anchor="middle" fill="#1a1a1a" textLength="6.37" lengthAdjust="spacingAndGlyphs">0</text>
<text x="342.65" y="227.00" font-size="9.85" text-anchor="middle" fill="#1a1a1a" textLength="13.20" lengthAdjust="spacingAndGlyphs">Na</text>
<text x="388.35" y="227.00" font-size="9.85" text-anchor="middle" fill="#1a1a1a" textLength="19.10" lengthAdjust="spacingAndGlyphs">101</text>
<text x="438.35" y="227.00" font-size="9.85" text-anchor="middle" fill="#1a1a1a" textLength="12.74" lengthAdjust="spacingAndGlyphs">50</text>
<text x="484.05" y="227.00" font-size="9.85" text-anchor="middle" fill="#1a1a1a" textLength="32.47" lengthAdjust="spacingAndGlyphs">49.6%</text>
<text x="529.80" y="227.00" font-size="9.85" text-anchor="middle" fill="#1a1a1a" textLength="6.37" lengthAdjust="spacingAndGlyphs">0</text>
<text x="579.60" y="227.00" font-size="9.85" text-anchor="middle" fill="#1a1a1a" textLength="6.37" lengthAdjust="spacingAndGlyphs">0</text>
<text x="628.60" y="227.00" font-size="9.85" text-anchor="middle" fill="#1a1a1a" textLength="13.20" lengthAdjust="spacingAndGlyphs">Na</text>
<text x="677.90" y="227.00" font-size="9.85" text-anchor="middle" fill="#1a1a1a" textLength="19.10" lengthAdjust="spacingAndGlyphs">142</text>
<text x="728.00" y="227.00" font-size="9.85" text-anchor="middle" fill="#1a1a1a" textLength="19.10" lengthAdjust="spacingAndGlyphs">142</text>
<text x="777.00" y="227.00" font-size="9.85" text-anchor="middle" fill="#1a1a1a" textLength="38.83" lengthAdjust="spacingAndGlyphs">100.0%</text>
<text x="831.20" y="227.00" font-size="9.85" text-anchor="middle" fill="#1a1a1a" textLength="19.10" lengthAdjust="spacingAndGlyphs">243</text>
<text x="891.20" y="227.00" font-size="9.85" text-anchor="middle" fill="#1a1a1a" textLength="19.10" lengthAdjust="spacingAndGlyphs">192</text>
<text x="942.20" y="227.00" font-size="9.85" text-anchor="middle" fill="#1a1a1a" textLength="32.47" lengthAdjust="spacingAndGlyphs">79.0%</text>
<g font-size="10.45" fill="#1a1a1a"><text x="120.30" y="263.20" textLength="7.58" lengthAdjust="spacingAndGlyphs">C</text><text x="127.88" y="263.20" textLength="6.59" lengthAdjust="spacingAndGlyphs">o</text><text x="134.47" y="263.20" textLength="6.87" lengthAdjust="spacingAndGlyphs">n</text><text x="141.35" y="263.20" textLength="4.28" lengthAdjust="spacingAndGlyphs">t</text><text x="145.63" y="263.20" textLength="6.53" lengthAdjust="spacingAndGlyphs">a</text><text x="152.15" y="263.20" textLength="2.98" lengthAdjust="spacingAndGlyphs">i</text><text x="155.13" y="263.20" textLength="6.87" lengthAdjust="spacingAndGlyphs">n</text><text x="162.00" y="263.20" textLength="6.47" lengthAdjust="spacingAndGlyphs">e</text><text x="168.47" y="263.20" textLength="4.64" lengthAdjust="spacingAndGlyphs">r</text></g>
<text x="258.50" y="262.30" font-size="9.85" text-anchor="middle" fill="#1a1a1a" textLength="6.37" lengthAdjust="spacingAndGlyphs">8</text>
<text x="304.00" y="262.30" font-size="9.85" text-anchor="middle" fill="#1a1a1a" textLength="6.37" lengthAdjust="spacingAndGlyphs">0</text>
<text x="342.65" y="262.30" font-size="9.85" text-anchor="middle" fill="#1a1a1a" textLength="26.10" lengthAdjust="spacingAndGlyphs">0.0%</text>
<text x="388.35" y="262.30" font-size="9.85" text-anchor="middle" fill="#1a1a1a" textLength="35.02" lengthAdjust="spacingAndGlyphs">29,172</text>
<text x="438.35" y="262.30" font-size="9.85" text-anchor="middle" fill="#1a1a1a" textLength="35.02" lengthAdjust="spacingAndGlyphs">25,299</text>
<text x="484.05" y="262.30" font-size="9.85" text-anchor="middle" fill="#1a1a1a" textLength="32.47" lengthAdjust="spacingAndGlyphs">86.7%</text>
<text x="529.80" y="262.30" font-size="9.85" text-anchor="middle" fill="#1a1a1a" textLength="35.02" lengthAdjust="spacingAndGlyphs">62,665</text>
<text x="579.60" y="262.30" font-size="9.85" text-anchor="middle" fill="#1a1a1a" textLength="35.02" lengthAdjust="spacingAndGlyphs">59,189</text>
<text x="628.60" y="262.30" font-size="9.85" text-anchor="middle" fill="#1a1a1a" textLength="32.47" lengthAdjust="spacingAndGlyphs">94.5%</text>
<text x="677.90" y="262.30" font-size="9.85" text-anchor="middle" fill="#1a1a1a" textLength="41.39" lengthAdjust="spacingAndGlyphs">188,584</text>
<text x="728.00" y="262.30" font-size="9.85" text-anchor="middle" fill="#1a1a1a" textLength="41.39" lengthAdjust="spacingAndGlyphs">181,911</text>
<text x="777.00" y="262.30" font-size="9.85" text-anchor="middle" fill="#1a1a1a" textLength="32.47" lengthAdjust="spacingAndGlyphs">96.5%</text>
<text x="831.20" y="262.30" font-size="9.85" text-anchor="middle" fill="#1a1a1a" textLength="41.39" lengthAdjust="spacingAndGlyphs">280,428</text>
<text x="891.20" y="262.30" font-size="9.85" text-anchor="middle" fill="#1a1a1a" textLength="41.39" lengthAdjust="spacingAndGlyphs">266,400</text>
<text x="942.20" y="262.30" font-size="9.85" text-anchor="middle" fill="#1a1a1a" textLength="32.47" lengthAdjust="spacingAndGlyphs">95.0%</text>
<g font-size="10.45" fill="#1a1a1a"><text x="120.30" y="285.40" textLength="8.42" lengthAdjust="spacingAndGlyphs">G</text><text x="128.72" y="285.40" textLength="6.53" lengthAdjust="spacingAndGlyphs">a</text><text x="135.24" y="285.40" textLength="5.66" lengthAdjust="spacingAndGlyphs">s</text><text x="144.72" y="285.40" textLength="7.58" lengthAdjust="spacingAndGlyphs">C</text><text x="152.30" y="285.40" textLength="6.53" lengthAdjust="spacingAndGlyphs">a</text><text x="158.83" y="285.40" textLength="4.64" lengthAdjust="spacingAndGlyphs">r</text><text x="163.47" y="285.40" textLength="4.64" lengthAdjust="spacingAndGlyphs">r</text><text x="168.11" y="285.40" textLength="2.98" lengthAdjust="spacingAndGlyphs">i</text><text x="171.08" y="285.40" textLength="6.47" lengthAdjust="spacingAndGlyphs">e</text><text x="177.55" y="285.40" textLength="4.64" lengthAdjust="spacingAndGlyphs">r</text></g>
<text x="258.50" y="284.50" font-size="9.85" text-anchor="middle" fill="#1a1a1a" textLength="12.74" lengthAdjust="spacingAndGlyphs">13</text>
<text x="304.00" y="284.50" font-size="9.85" text-anchor="middle" fill="#1a1a1a" textLength="6.37" lengthAdjust="spacingAndGlyphs">0</text>
<text x="342.65" y="284.50" font-size="9.85" text-anchor="middle" fill="#1a1a1a" textLength="26.10" lengthAdjust="spacingAndGlyphs">0.0%</text>
<text x="388.35" y="284.50" font-size="9.85" text-anchor="middle" fill="#1a1a1a" textLength="28.65" lengthAdjust="spacingAndGlyphs">7,389</text>
<text x="438.35" y="284.50" font-size="9.85" text-anchor="middle" fill="#1a1a1a" textLength="28.65" lengthAdjust="spacingAndGlyphs">6,556</text>
<text x="484.05" y="284.50" font-size="9.85" text-anchor="middle" fill="#1a1a1a" textLength="32.47" lengthAdjust="spacingAndGlyphs">88.7%</text>
<text x="529.80" y="284.50" font-size="9.85" text-anchor="middle" fill="#1a1a1a" textLength="35.02" lengthAdjust="spacingAndGlyphs">20,703</text>
<text x="579.60" y="284.50" font-size="9.85" text-anchor="middle" fill="#1a1a1a" textLength="35.02" lengthAdjust="spacingAndGlyphs">19,012</text>
<text x="628.60" y="284.50" font-size="9.85" text-anchor="middle" fill="#1a1a1a" textLength="32.47" lengthAdjust="spacingAndGlyphs">91.8%</text>
<text x="677.90" y="284.50" font-size="9.85" text-anchor="middle" fill="#1a1a1a" textLength="35.02" lengthAdjust="spacingAndGlyphs">69,509</text>
<text x="728.00" y="284.50" font-size="9.85" text-anchor="middle" fill="#1a1a1a" textLength="35.02" lengthAdjust="spacingAndGlyphs">65,482</text>
<text x="777.00" y="284.50" font-size="9.85" text-anchor="middle" fill="#1a1a1a" textLength="32.47" lengthAdjust="spacingAndGlyphs">94.2%</text>
<text x="831.20" y="284.50" font-size="9.85" text-anchor="middle" fill="#1a1a1a" textLength="35.02" lengthAdjust="spacingAndGlyphs">97,615</text>
<text x="891.20" y="284.50" font-size="9.85" text-anchor="middle" fill="#1a1a1a" textLength="35.02" lengthAdjust="spacingAndGlyphs">91,050</text>
<text x="942.20" y="284.50" font-size="9.85" text-anchor="middle" fill="#1a1a1a" textLength="32.47" lengthAdjust="spacingAndGlyphs">93.3%</text>
<g font-size="10.45" fill="#1a1a1a"><text x="120.30" y="307.50" textLength="8.42" lengthAdjust="spacingAndGlyphs">G</text><text x="128.72" y="307.50" textLength="6.47" lengthAdjust="spacingAndGlyphs">e</text><text x="135.19" y="307.50" textLength="6.87" lengthAdjust="spacingAndGlyphs">n</text><text x="142.06" y="307.50" textLength="6.47" lengthAdjust="spacingAndGlyphs">e</text><text x="148.54" y="307.50" textLength="4.64" lengthAdjust="spacingAndGlyphs">r</text><text x="153.17" y="307.50" textLength="6.53" lengthAdjust="spacingAndGlyphs">a</text><text x="159.70" y="307.50" textLength="2.98" lengthAdjust="spacingAndGlyphs">l</text></g>
<g font-size="10.45" fill="#1a1a1a"><text x="120.30" y="320.50" textLength="7.58" lengthAdjust="spacingAndGlyphs">C</text><text x="127.88" y="320.50" textLength="6.53" lengthAdjust="spacingAndGlyphs">a</text><text x="134.41" y="320.50" textLength="4.64" lengthAdjust="spacingAndGlyphs">r</text><text x="139.04" y="320.50" textLength="6.77" lengthAdjust="spacingAndGlyphs">g</text><text x="145.81" y="320.50" textLength="6.59" lengthAdjust="spacingAndGlyphs">o</text><text x="153.20" y="320.50" textLength="3.34" lengthAdjust="spacingAndGlyphs">/</text><text x="157.33" y="320.50" textLength="9.15" lengthAdjust="spacingAndGlyphs">M</text><text x="166.49" y="320.50" textLength="6.87" lengthAdjust="spacingAndGlyphs">u</text><text x="173.36" y="320.50" textLength="2.98" lengthAdjust="spacingAndGlyphs">l</text><text x="176.34" y="320.50" textLength="4.28" lengthAdjust="spacingAndGlyphs">t</text><text x="180.62" y="320.50" textLength="2.98" lengthAdjust="spacingAndGlyphs">i</text><text x="183.59" y="320.50" textLength="6.77" lengthAdjust="spacingAndGlyphs">p</text><text x="190.36" y="320.50" textLength="6.87" lengthAdjust="spacingAndGlyphs">u</text><text x="197.23" y="320.50" textLength="4.64" lengthAdjust="spacingAndGlyphs">r</text><text x="201.87" y="320.50" textLength="6.77" lengthAdjust="spacingAndGlyphs">p</text><text x="208.64" y="320.50" textLength="6.59" lengthAdjust="spacingAndGlyphs">o</text><text x="215.23" y="320.50" textLength="5.66" lengthAdjust="spacingAndGlyphs">s</text><text x="220.89" y="320.50" textLength="6.47" lengthAdjust="spacingAndGlyphs">e</text></g>
<text x="258.50" y="306.60" font-size="9.85" text-anchor="middle" fill="#1a1a1a" textLength="28.65" lengthAdjust="spacingAndGlyphs">1,701</text>
<text x="304.00" y="306.60" font-size="9.85" text-anchor="middle" fill="#1a1a1a" textLength="12.74" lengthAdjust="spacingAndGlyphs">91</text>
<text x="342.65" y="306.60" font-size="9.85" text-anchor="middle" fill="#1a1a1a" textLength="26.10" lengthAdjust="spacingAndGlyphs">5.3%</text>
<text x="388.35" y="306.60" font-size="9.85" text-anchor="middle" fill="#1a1a1a" textLength="35.02" lengthAdjust="spacingAndGlyphs">54,463</text>
<text x="438.35" y="306.60" font-size="9.85" text-anchor="middle" fill="#1a1a1a" textLength="35.02" lengthAdjust="spacingAndGlyphs">42,932</text>
<text x="484.05" y="306.60" font-size="9.85" text-anchor="middle" fill="#1a1a1a" textLength="32.47" lengthAdjust="spacingAndGlyphs">78.8%</text>
<text x="529.80" y="306.60" font-size="9.85" text-anchor="middle" fill="#1a1a1a" textLength="28.65" lengthAdjust="spacingAndGlyphs">9,705</text>
<text x="579.60" y="306.60" font-size="9.85" text-anchor="middle" fill="#1a1a1a" textLength="28.65" lengthAdjust="spacingAndGlyphs">9,546</text>
<text x="628.60" y="306.60" font-size="9.85" text-anchor="middle" fill="#1a1a1a" textLength="32.47" lengthAdjust="spacingAndGlyphs">98.4%</text>
<text x="677.90" y="306.60" font-size="9.85" text-anchor="middle" fill="#1a1a1a" textLength="6.37" lengthAdjust="spacingAndGlyphs">0</text>
<text x="728.00" y="306.60" font-size="9.85" text-anchor="middle" fill="#1a1a1a" textLength="6.37" lengthAdjust="spacingAndGlyphs">0</text>
<text x="777.00" y="306.60" font-size="9.85" text-anchor="middle" fill="#1a1a1a" textLength="13.20" lengthAdjust="spacingAndGlyphs">Na</text>
<text x="831.20" y="306.60" font-size="9.85" text-anchor="middle" fill="#1a1a1a" textLength="35.02" lengthAdjust="spacingAndGlyphs">65,869</text>
<text x="891.20" y="306.60" font-size="9.85" text-anchor="middle" fill="#1a1a1a" textLength="35.02" lengthAdjust="spacingAndGlyphs">52,568</text>
<text x="942.20" y="306.60" font-size="9.85" text-anchor="middle" fill="#1a1a1a" textLength="32.47" lengthAdjust="spacingAndGlyphs">79.8%</text>
<g font-size="10.45" fill="#1a1a1a"><text x="120.30" y="342.90" textLength="8.16" lengthAdjust="spacingAndGlyphs">H</text><text x="128.46" y="342.90" textLength="6.47" lengthAdjust="spacingAndGlyphs">e</text><text x="134.93" y="342.90" textLength="6.53" lengthAdjust="spacingAndGlyphs">a</text><text x="141.46" y="342.90" textLength="6.43" lengthAdjust="spacingAndGlyphs">v</text><text x="147.88" y="342.90" textLength="6.43" lengthAdjust="spacingAndGlyphs">y</text><text x="158.14" y="342.90" textLength="6.05" lengthAdjust="spacingAndGlyphs">L</text><text x="164.19" y="342.90" textLength="6.59" lengthAdjust="spacingAndGlyphs">o</text><text x="170.78" y="342.90" textLength="6.53" lengthAdjust="spacingAndGlyphs">a</text><text x="177.30" y="342.90" textLength="6.77" lengthAdjust="spacingAndGlyphs">d</text></g>
<text x="258.50" y="342.00" font-size="9.85" text-anchor="middle" fill="#1a1a1a" textLength="6.37" lengthAdjust="spacingAndGlyphs">1</text>
<text x="304.00" y="342.00" font-size="9.85" text-anchor="middle" fill="#1a1a1a" textLength="6.37" lengthAdjust="spacingAndGlyphs">0</text>
<text x="342.65" y="342.00" font-size="9.85" text-anchor="middle" fill="#1a1a1a" textLength="26.10" lengthAdjust="spacingAndGlyphs">0.0%</text>
<text x="388.35" y="342.00" font-size="9.85" text-anchor="middle" fill="#1a1a1a" textLength="28.65" lengthAdjust="spacingAndGlyphs">1,694</text>
<text x="438.35" y="342.00" font-size="9.85" text-anchor="middle" fill="#1a1a1a" textLength="28.65" lengthAdjust="spacingAndGlyphs">1,465</text>
<text x="484.05" y="342.00" font-size="9.85" text-anchor="middle" fill="#1a1a1a" textLength="32.47" lengthAdjust="spacingAndGlyphs">86.5%</text>
<text x="529.80" y="342.00" font-size="9.85" text-anchor="middle" fill="#1a1a1a" textLength="28.65" lengthAdjust="spacingAndGlyphs">2,150</text>
<text x="579.60" y="342.00" font-size="9.85" text-anchor="middle" fill="#1a1a1a" textLength="28.65" lengthAdjust="spacingAndGlyphs">2,092</text>
<text x="628.60" y="342.00" font-size="9.85" text-anchor="middle" fill="#1a1a1a" textLength="32.47" lengthAdjust="spacingAndGlyphs">97.3%</text>
<text x="677.90" y="342.00" font-size="9.85" text-anchor="middle" fill="#1a1a1a" textLength="19.10" lengthAdjust="spacingAndGlyphs">654</text>
<text x="728.00" y="342.00" font-size="9.85" text-anchor="middle" fill="#1a1a1a" textLength="19.10" lengthAdjust="spacingAndGlyphs">176</text>
<text x="777.00" y="342.00" font-size="9.85" text-anchor="middle" fill="#1a1a1a" textLength="32.47" lengthAdjust="spacingAndGlyphs">27.0%</text>
<text x="831.20" y="342.00" font-size="9.85" text-anchor="middle" fill="#1a1a1a" textLength="28.65" lengthAdjust="spacingAndGlyphs">4,498</text>
<text x="891.20" y="342.00" font-size="9.85" text-anchor="middle" fill="#1a1a1a" textLength="28.65" lengthAdjust="spacingAndGlyphs">3,732</text>
<text x="942.20" y="342.00" font-size="9.85" text-anchor="middle" fill="#1a1a1a" textLength="32.47" lengthAdjust="spacingAndGlyphs">83.0%</text>
<g font-size="10.45" fill="#1a1a1a"><text x="120.30" y="365.30" textLength="8.12" lengthAdjust="spacingAndGlyphs">N</text><text x="128.42" y="365.30" textLength="6.05" lengthAdjust="spacingAndGlyphs">L</text><text x="134.47" y="365.30" textLength="7.43" lengthAdjust="spacingAndGlyphs">S</text><text x="145.72" y="365.30" textLength="6.69" lengthAdjust="spacingAndGlyphs">T</text><text x="152.41" y="365.30" textLength="6.53" lengthAdjust="spacingAndGlyphs">a</text><text x="158.94" y="365.30" textLength="6.87" lengthAdjust="spacingAndGlyphs">n</text><text x="165.81" y="365.30" textLength="6.43" lengthAdjust="spacingAndGlyphs">k</text><text x="172.24" y="365.30" textLength="6.47" lengthAdjust="spacingAndGlyphs">e</text><text x="178.72" y="365.30" textLength="4.64" lengthAdjust="spacingAndGlyphs">r</text></g>
<text x="258.50" y="364.40" font-size="9.85" text-anchor="middle" fill="#1a1a1a" textLength="12.74" lengthAdjust="spacingAndGlyphs">26</text>
<text x="304.00" y="364.40" font-size="9.85" text-anchor="middle" fill="#1a1a1a" textLength="6.37" lengthAdjust="spacingAndGlyphs">3</text>
<text x="342.65" y="364.40" font-size="9.85" text-anchor="middle" fill="#1a1a1a" textLength="32.47" lengthAdjust="spacingAndGlyphs">10.3%</text>
<text x="388.35" y="364.40" font-size="9.85" text-anchor="middle" fill="#1a1a1a" textLength="35.02" lengthAdjust="spacingAndGlyphs">30,789</text>
<text x="438.35" y="364.40" font-size="9.85" text-anchor="middle" fill="#1a1a1a" textLength="35.02" lengthAdjust="spacingAndGlyphs">28,734</text>
<text x="484.05" y="364.40" font-size="9.85" text-anchor="middle" fill="#1a1a1a" textLength="32.47" lengthAdjust="spacingAndGlyphs">93.3%</text>
<text x="529.80" y="364.40" font-size="9.85" text-anchor="middle" fill="#1a1a1a" textLength="35.02" lengthAdjust="spacingAndGlyphs">48,659</text>
<text x="579.60" y="364.40" font-size="9.85" text-anchor="middle" fill="#1a1a1a" textLength="35.02" lengthAdjust="spacingAndGlyphs">46,258</text>
<text x="628.60" y="364.40" font-size="9.85" text-anchor="middle" fill="#1a1a1a" textLength="32.47" lengthAdjust="spacingAndGlyphs">95.1%</text>
<text x="677.90" y="364.40" font-size="9.85" text-anchor="middle" fill="#1a1a1a" textLength="6.37" lengthAdjust="spacingAndGlyphs">0</text>
<text x="728.00" y="364.40" font-size="9.85" text-anchor="middle" fill="#1a1a1a" textLength="6.37" lengthAdjust="spacingAndGlyphs">0</text>
<text x="777.00" y="364.40" font-size="9.85" text-anchor="middle" fill="#1a1a1a" textLength="13.20" lengthAdjust="spacingAndGlyphs">Na</text>
<text x="831.20" y="364.40" font-size="9.85" text-anchor="middle" fill="#1a1a1a" textLength="35.02" lengthAdjust="spacingAndGlyphs">79,474</text>
<text x="891.20" y="364.40" font-size="9.85" text-anchor="middle" fill="#1a1a1a" textLength="35.02" lengthAdjust="spacingAndGlyphs">74,995</text>
<text x="942.20" y="364.40" font-size="9.85" text-anchor="middle" fill="#1a1a1a" textLength="32.47" lengthAdjust="spacingAndGlyphs">94.4%</text>
<g font-size="10.45" fill="#1a1a1a"><text x="120.30" y="387.40" textLength="8.55" lengthAdjust="spacingAndGlyphs">O</text><text x="128.85" y="387.40" textLength="3.82" lengthAdjust="spacingAndGlyphs">f</text><text x="132.67" y="387.40" textLength="3.82" lengthAdjust="spacingAndGlyphs">f</text><text x="136.49" y="387.40" textLength="5.66" lengthAdjust="spacingAndGlyphs">s</text><text x="142.15" y="387.40" textLength="6.87" lengthAdjust="spacingAndGlyphs">h</text><text x="149.02" y="387.40" textLength="6.59" lengthAdjust="spacingAndGlyphs">o</text><text x="155.62" y="387.40" textLength="4.64" lengthAdjust="spacingAndGlyphs">r</text><text x="160.25" y="387.40" textLength="6.47" lengthAdjust="spacingAndGlyphs">e</text><text x="170.55" y="387.40" textLength="7.43" lengthAdjust="spacingAndGlyphs">S</text><text x="177.98" y="387.40" textLength="6.87" lengthAdjust="spacingAndGlyphs">u</text><text x="184.85" y="387.40" textLength="6.77" lengthAdjust="spacingAndGlyphs">p</text><text x="191.62" y="387.40" textLength="6.77" lengthAdjust="spacingAndGlyphs">p</text><text x="198.38" y="387.40" textLength="2.98" lengthAdjust="spacingAndGlyphs">l</text><text x="201.36" y="387.40" textLength="6.43" lengthAdjust="spacingAndGlyphs">y</text></g>
<text x="258.50" y="386.50" font-size="9.85" text-anchor="middle" fill="#1a1a1a" textLength="19.10" lengthAdjust="spacingAndGlyphs">747</text>
<text x="304.00" y="386.50" font-size="9.85" text-anchor="middle" fill="#1a1a1a" textLength="12.74" lengthAdjust="spacingAndGlyphs">97</text>
<text x="342.65" y="386.50" font-size="9.85" text-anchor="middle" fill="#1a1a1a" textLength="32.47" lengthAdjust="spacingAndGlyphs">13.0%</text>
<text x="388.35" y="386.50" font-size="9.85" text-anchor="middle" fill="#1a1a1a" textLength="35.02" lengthAdjust="spacingAndGlyphs">14,158</text>
<text x="438.35" y="386.50" font-size="9.85" text-anchor="middle" fill="#1a1a1a" textLength="28.65" lengthAdjust="spacingAndGlyphs">7,053</text>
<text x="484.05" y="386.50" font-size="9.85" text-anchor="middle" fill="#1a1a1a" textLength="32.47" lengthAdjust="spacingAndGlyphs">49.8%</text>
<text x="529.80" y="386.50" font-size="9.85" text-anchor="middle" fill="#1a1a1a" textLength="28.65" lengthAdjust="spacingAndGlyphs">1,016</text>
<text x="579.60" y="386.50" font-size="9.85" text-anchor="middle" fill="#1a1a1a" textLength="19.10" lengthAdjust="spacingAndGlyphs">702</text>
<text x="628.60" y="386.50" font-size="9.85" text-anchor="middle" fill="#1a1a1a" textLength="32.47" lengthAdjust="spacingAndGlyphs">69.0%</text>
<text x="677.90" y="386.50" font-size="9.85" text-anchor="middle" fill="#1a1a1a" textLength="28.65" lengthAdjust="spacingAndGlyphs">1,354</text>
<text x="728.00" y="386.50" font-size="9.85" text-anchor="middle" fill="#1a1a1a" textLength="19.10" lengthAdjust="spacingAndGlyphs">615</text>
<text x="777.00" y="386.50" font-size="9.85" text-anchor="middle" fill="#1a1a1a" textLength="32.47" lengthAdjust="spacingAndGlyphs">45.4%</text>
<text x="831.20" y="386.50" font-size="9.85" text-anchor="middle" fill="#1a1a1a" textLength="35.02" lengthAdjust="spacingAndGlyphs">17,275</text>
<text x="891.20" y="386.50" font-size="9.85" text-anchor="middle" fill="#1a1a1a" textLength="28.65" lengthAdjust="spacingAndGlyphs">8,466</text>
<text x="942.20" y="386.50" font-size="9.85" text-anchor="middle" fill="#1a1a1a" textLength="32.47" lengthAdjust="spacingAndGlyphs">49.0%</text>
<g font-size="10.45" fill="#1a1a1a"><text x="120.30" y="409.40" textLength="8.55" lengthAdjust="spacingAndGlyphs">O</text><text x="128.85" y="409.40" textLength="2.98" lengthAdjust="spacingAndGlyphs">i</text><text x="131.82" y="409.40" textLength="2.98" lengthAdjust="spacingAndGlyphs">l</text><text x="138.62" y="409.40" textLength="6.69" lengthAdjust="spacingAndGlyphs">T</text><text x="145.31" y="409.40" textLength="6.53" lengthAdjust="spacingAndGlyphs">a</text><text x="151.84" y="409.40" textLength="6.87" lengthAdjust="spacingAndGlyphs">n</text><text x="158.71" y="409.40" textLength="6.43" lengthAdjust="spacingAndGlyphs">k</text><text x="165.14" y="409.40" textLength="6.47" lengthAdjust="spacingAndGlyphs">e</text><text x="171.61" y="409.40" textLength="4.64" lengthAdjust="spacingAndGlyphs">r</text></g>
<text x="258.50" y="408.50" font-size="9.85" text-anchor="middle" fill="#1a1a1a" textLength="19.10" lengthAdjust="spacingAndGlyphs">591</text>
<text x="304.00" y="408.50" font-size="9.85" text-anchor="middle" fill="#1a1a1a" textLength="12.74" lengthAdjust="spacingAndGlyphs">26</text>
<text x="342.65" y="408.50" font-size="9.85" text-anchor="middle" fill="#1a1a1a" textLength="26.10" lengthAdjust="spacingAndGlyphs">4.5%</text>
<text x="388.35" y="408.50" font-size="9.85" text-anchor="middle" fill="#1a1a1a" textLength="35.02" lengthAdjust="spacingAndGlyphs">16,163</text>
<text x="438.35" y="408.50" font-size="9.85" text-anchor="middle" fill="#1a1a1a" textLength="28.65" lengthAdjust="spacingAndGlyphs">7,273</text>
<text x="484.05" y="408.50" font-size="9.85" text-anchor="middle" fill="#1a1a1a" textLength="32.47" lengthAdjust="spacingAndGlyphs">45.0%</text>
<text x="529.80" y="408.50" font-size="9.85" text-anchor="middle" fill="#1a1a1a" textLength="35.02" lengthAdjust="spacingAndGlyphs">51,449</text>
<text x="579.60" y="408.50" font-size="9.85" text-anchor="middle" fill="#1a1a1a" textLength="35.02" lengthAdjust="spacingAndGlyphs">48,134</text>
<text x="628.60" y="408.50" font-size="9.85" text-anchor="middle" fill="#1a1a1a" textLength="32.47" lengthAdjust="spacingAndGlyphs">93.6%</text>
<text x="677.90" y="408.50" font-size="9.85" text-anchor="middle" fill="#1a1a1a" textLength="41.39" lengthAdjust="spacingAndGlyphs">250,652</text>
<text x="728.00" y="408.50" font-size="9.85" text-anchor="middle" fill="#1a1a1a" textLength="41.39" lengthAdjust="spacingAndGlyphs">228,528</text>
<text x="777.00" y="408.50" font-size="9.85" text-anchor="middle" fill="#1a1a1a" textLength="32.47" lengthAdjust="spacingAndGlyphs">91.2%</text>
<text x="831.20" y="408.50" font-size="9.85" text-anchor="middle" fill="#1a1a1a" textLength="41.39" lengthAdjust="spacingAndGlyphs">318,855</text>
<text x="891.20" y="408.50" font-size="9.85" text-anchor="middle" fill="#1a1a1a" textLength="41.39" lengthAdjust="spacingAndGlyphs">283,961</text>
<text x="942.20" y="408.50" font-size="9.85" text-anchor="middle" fill="#1a1a1a" textLength="32.47" lengthAdjust="spacingAndGlyphs">89.1%</text>
<g font-size="10.45" fill="#1a1a1a"><text x="120.30" y="431.40" textLength="8.55" lengthAdjust="spacingAndGlyphs">O</text><text x="128.85" y="431.40" textLength="4.28" lengthAdjust="spacingAndGlyphs">t</text><text x="133.13" y="431.40" textLength="6.87" lengthAdjust="spacingAndGlyphs">h</text><text x="140.00" y="431.40" textLength="6.47" lengthAdjust="spacingAndGlyphs">e</text><text x="146.47" y="431.40" textLength="4.64" lengthAdjust="spacingAndGlyphs">r</text></g>
<text x="258.50" y="430.50" font-size="9.85" text-anchor="middle" fill="#1a1a1a" textLength="28.65" lengthAdjust="spacingAndGlyphs">4,958</text>
<text x="304.00" y="430.50" font-size="9.85" text-anchor="middle" fill="#1a1a1a" textLength="19.10" lengthAdjust="spacingAndGlyphs">253</text>
<text x="342.65" y="430.50" font-size="9.85" text-anchor="middle" fill="#1a1a1a" textLength="26.10" lengthAdjust="spacingAndGlyphs">5.1%</text>
<text x="388.35" y="430.50" font-size="9.85" text-anchor="middle" fill="#1a1a1a" textLength="35.02" lengthAdjust="spacingAndGlyphs">10,162</text>
<text x="438.35" y="430.50" font-size="9.85" text-anchor="middle" fill="#1a1a1a" textLength="28.65" lengthAdjust="spacingAndGlyphs">2,852</text>
<text x="484.05" y="430.50" font-size="9.85" text-anchor="middle" fill="#1a1a1a" textLength="32.47" lengthAdjust="spacingAndGlyphs">28.1%</text>
<text x="529.80" y="430.50" font-size="9.85" text-anchor="middle" fill="#1a1a1a" textLength="35.02" lengthAdjust="spacingAndGlyphs">21,698</text>
<text x="579.60" y="430.50" font-size="9.85" text-anchor="middle" fill="#1a1a1a" textLength="35.02" lengthAdjust="spacingAndGlyphs">21,564</text>
<text x="628.60" y="430.50" font-size="9.85" text-anchor="middle" fill="#1a1a1a" textLength="32.47" lengthAdjust="spacingAndGlyphs">99.4%</text>
<text x="677.90" y="430.50" font-size="9.85" text-anchor="middle" fill="#1a1a1a" textLength="35.02" lengthAdjust="spacingAndGlyphs">16,211</text>
<text x="728.00" y="430.50" font-size="9.85" text-anchor="middle" fill="#1a1a1a" textLength="35.02" lengthAdjust="spacingAndGlyphs">16,068</text>
<text x="777.00" y="430.50" font-size="9.85" text-anchor="middle" fill="#1a1a1a" textLength="32.47" lengthAdjust="spacingAndGlyphs">99.1%</text>
<text x="831.20" y="430.50" font-size="9.85" text-anchor="middle" fill="#1a1a1a" textLength="35.02" lengthAdjust="spacingAndGlyphs">53,029</text>
<text x="891.20" y="430.50" font-size="9.85" text-anchor="middle" fill="#1a1a1a" textLength="35.02" lengthAdjust="spacingAndGlyphs">40,736</text>
<text x="942.20" y="430.50" font-size="9.85" text-anchor="middle" fill="#1a1a1a" textLength="32.47" lengthAdjust="spacingAndGlyphs">76.8%</text>
<g font-size="10.45" fill="#1a1a1a"><text x="120.30" y="453.50" textLength="8.55" lengthAdjust="spacingAndGlyphs">O</text><text x="128.85" y="453.50" textLength="4.28" lengthAdjust="spacingAndGlyphs">t</text><text x="133.13" y="453.50" textLength="6.87" lengthAdjust="spacingAndGlyphs">h</text><text x="140.00" y="453.50" textLength="6.47" lengthAdjust="spacingAndGlyphs">e</text><text x="146.47" y="453.50" textLength="4.64" lengthAdjust="spacingAndGlyphs">r</text><text x="154.93" y="453.50" textLength="7.43" lengthAdjust="spacingAndGlyphs">S</text><text x="162.36" y="453.50" textLength="6.77" lengthAdjust="spacingAndGlyphs">p</text><text x="169.13" y="453.50" textLength="6.47" lengthAdjust="spacingAndGlyphs">e</text><text x="175.60" y="453.50" textLength="5.66" lengthAdjust="spacingAndGlyphs">c</text><text x="181.26" y="453.50" textLength="2.98" lengthAdjust="spacingAndGlyphs">i</text><text x="184.23" y="453.50" textLength="6.53" lengthAdjust="spacingAndGlyphs">a</text><text x="190.76" y="453.50" textLength="2.98" lengthAdjust="spacingAndGlyphs">l</text></g>
<g font-size="10.45" fill="#1a1a1a"><text x="120.30" y="466.50" textLength="7.43" lengthAdjust="spacingAndGlyphs">A</text><text x="127.73" y="466.50" textLength="5.66" lengthAdjust="spacingAndGlyphs">c</text><text x="133.39" y="466.50" textLength="4.28" lengthAdjust="spacingAndGlyphs">t</text><text x="137.67" y="466.50" textLength="2.98" lengthAdjust="spacingAndGlyphs">i</text><text x="140.64" y="466.50" textLength="6.43" lengthAdjust="spacingAndGlyphs">v</text><text x="147.07" y="466.50" textLength="2.98" lengthAdjust="spacingAndGlyphs">i</text><text x="150.05" y="466.50" textLength="4.28" lengthAdjust="spacingAndGlyphs">t</text><text x="154.32" y="466.50" textLength="2.98" lengthAdjust="spacingAndGlyphs">i</text><text x="157.30" y="466.50" textLength="6.47" lengthAdjust="spacingAndGlyphs">e</text><text x="163.77" y="466.50" textLength="5.66" lengthAdjust="spacingAndGlyphs">s</text></g>
<text x="258.50" y="452.60" font-size="9.85" text-anchor="middle" fill="#1a1a1a" textLength="19.10" lengthAdjust="spacingAndGlyphs">896</text>
<text x="304.00" y="452.60" font-size="9.85" text-anchor="middle" fill="#1a1a1a" textLength="19.10" lengthAdjust="spacingAndGlyphs">103</text>
<text x="342.65" y="452.60" font-size="9.85" text-anchor="middle" fill="#1a1a1a" textLength="32.47" lengthAdjust="spacingAndGlyphs">11.5%</text>
<text x="388.35" y="452.60" font-size="9.85" text-anchor="middle" fill="#1a1a1a" textLength="28.65" lengthAdjust="spacingAndGlyphs">9,939</text>
<text x="438.35" y="452.60" font-size="9.85" text-anchor="middle" fill="#1a1a1a" textLength="28.65" lengthAdjust="spacingAndGlyphs">3,404</text>
<text x="484.05" y="452.60" font-size="9.85" text-anchor="middle" fill="#1a1a1a" textLength="32.47" lengthAdjust="spacingAndGlyphs">34.3%</text>
<text x="529.80" y="452.60" font-size="9.85" text-anchor="middle" fill="#1a1a1a" textLength="35.02" lengthAdjust="spacingAndGlyphs">11,283</text>
<text x="579.60" y="452.60" font-size="9.85" text-anchor="middle" fill="#1a1a1a" textLength="28.65" lengthAdjust="spacingAndGlyphs">8,246</text>
<text x="628.60" y="452.60" font-size="9.85" text-anchor="middle" fill="#1a1a1a" textLength="32.47" lengthAdjust="spacingAndGlyphs">73.1%</text>
<text x="677.90" y="452.60" font-size="9.85" text-anchor="middle" fill="#1a1a1a" textLength="35.02" lengthAdjust="spacingAndGlyphs">29,301</text>
<text x="728.00" y="452.60" font-size="9.85" text-anchor="middle" fill="#1a1a1a" textLength="28.65" lengthAdjust="spacingAndGlyphs">8,284</text>
<text x="777.00" y="452.60" font-size="9.85" text-anchor="middle" fill="#1a1a1a" textLength="32.47" lengthAdjust="spacingAndGlyphs">28.3%</text>
<text x="831.20" y="452.60" font-size="9.85" text-anchor="middle" fill="#1a1a1a" textLength="35.02" lengthAdjust="spacingAndGlyphs">51,418</text>
<text x="891.20" y="452.60" font-size="9.85" text-anchor="middle" fill="#1a1a1a" textLength="35.02" lengthAdjust="spacingAndGlyphs">20,036</text>
<text x="942.20" y="452.60" font-size="9.85" text-anchor="middle" fill="#1a1a1a" textLength="32.47" lengthAdjust="spacingAndGlyphs">39.0%</text>
<g font-size="10.45" fill="#1a1a1a"><text x="120.30" y="488.90" textLength="6.55" lengthAdjust="spacingAndGlyphs">P</text><text x="126.85" y="488.90" textLength="6.53" lengthAdjust="spacingAndGlyphs">a</text><text x="133.38" y="488.90" textLength="5.66" lengthAdjust="spacingAndGlyphs">s</text><text x="139.03" y="488.90" textLength="5.66" lengthAdjust="spacingAndGlyphs">s</text><text x="144.69" y="488.90" textLength="6.47" lengthAdjust="spacingAndGlyphs">e</text><text x="151.16" y="488.90" textLength="6.87" lengthAdjust="spacingAndGlyphs">n</text><text x="158.04" y="488.90" textLength="6.77" lengthAdjust="spacingAndGlyphs">g</text><text x="164.80" y="488.90" textLength="6.47" lengthAdjust="spacingAndGlyphs">e</text><text x="171.28" y="488.90" textLength="4.64" lengthAdjust="spacingAndGlyphs">r</text><text x="179.74" y="488.90" textLength="7.43" lengthAdjust="spacingAndGlyphs">S</text><text x="187.17" y="488.90" textLength="6.87" lengthAdjust="spacingAndGlyphs">h</text><text x="194.04" y="488.90" textLength="2.98" lengthAdjust="spacingAndGlyphs">i</text><text x="197.02" y="488.90" textLength="6.77" lengthAdjust="spacingAndGlyphs">p</text></g>
<text x="258.50" y="488.00" font-size="9.85" text-anchor="middle" fill="#1a1a1a" textLength="19.10" lengthAdjust="spacingAndGlyphs">877</text>
<text x="304.00" y="488.00" font-size="9.85" text-anchor="middle" fill="#1a1a1a" textLength="12.74" lengthAdjust="spacingAndGlyphs">64</text>
<text x="342.65" y="488.00" font-size="9.85" text-anchor="middle" fill="#1a1a1a" textLength="26.10" lengthAdjust="spacingAndGlyphs">7.3%</text>
<text x="388.35" y="488.00" font-size="9.85" text-anchor="middle" fill="#1a1a1a" textLength="28.65" lengthAdjust="spacingAndGlyphs">2,203</text>
<text x="438.35" y="488.00" font-size="9.85" text-anchor="middle" fill="#1a1a1a" textLength="28.65" lengthAdjust="spacingAndGlyphs">1,195</text>
<text x="484.05" y="488.00" font-size="9.85" text-anchor="middle" fill="#1a1a1a" textLength="32.47" lengthAdjust="spacingAndGlyphs">54.3%</text>
<text x="529.80" y="488.00" font-size="9.85" text-anchor="middle" fill="#1a1a1a" textLength="28.65" lengthAdjust="spacingAndGlyphs">2,549</text>
<text x="579.60" y="488.00" font-size="9.85" text-anchor="middle" fill="#1a1a1a" textLength="28.65" lengthAdjust="spacingAndGlyphs">2,501</text>
<text x="628.60" y="488.00" font-size="9.85" text-anchor="middle" fill="#1a1a1a" textLength="32.47" lengthAdjust="spacingAndGlyphs">98.1%</text>
<text x="677.90" y="488.00" font-size="9.85" text-anchor="middle" fill="#1a1a1a" textLength="35.02" lengthAdjust="spacingAndGlyphs">22,923</text>
<text x="728.00" y="488.00" font-size="9.85" text-anchor="middle" fill="#1a1a1a" textLength="35.02" lengthAdjust="spacingAndGlyphs">22,274</text>
<text x="777.00" y="488.00" font-size="9.85" text-anchor="middle" fill="#1a1a1a" textLength="32.47" lengthAdjust="spacingAndGlyphs">97.2%</text>
<text x="831.20" y="488.00" font-size="9.85" text-anchor="middle" fill="#1a1a1a" textLength="35.02" lengthAdjust="spacingAndGlyphs">28,552</text>
<text x="891.20" y="488.00" font-size="9.85" text-anchor="middle" fill="#1a1a1a" textLength="35.02" lengthAdjust="spacingAndGlyphs">26,034</text>
<text x="942.20" y="488.00" font-size="9.85" text-anchor="middle" fill="#1a1a1a" textLength="32.47" lengthAdjust="spacingAndGlyphs">91.2%</text>
<g font-size="10.45" fill="#1a1a1a"><text x="120.30" y="510.90" textLength="7.55" lengthAdjust="spacingAndGlyphs">R</text><text x="127.85" y="510.90" textLength="6.47" lengthAdjust="spacingAndGlyphs">e</text><text x="134.32" y="510.90" textLength="3.82" lengthAdjust="spacingAndGlyphs">f</text><text x="138.14" y="510.90" textLength="4.64" lengthAdjust="spacingAndGlyphs">r</text><text x="142.78" y="510.90" textLength="2.98" lengthAdjust="spacingAndGlyphs">i</text><text x="145.76" y="510.90" textLength="6.77" lengthAdjust="spacingAndGlyphs">g</text><text x="152.52" y="510.90" textLength="6.47" lengthAdjust="spacingAndGlyphs">e</text><text x="158.99" y="510.90" textLength="4.64" lengthAdjust="spacingAndGlyphs">r</text><text x="163.63" y="510.90" textLength="6.53" lengthAdjust="spacingAndGlyphs">a</text><text x="170.16" y="510.90" textLength="4.28" lengthAdjust="spacingAndGlyphs">t</text><text x="174.44" y="510.90" textLength="6.47" lengthAdjust="spacingAndGlyphs">e</text><text x="180.91" y="510.90" textLength="6.77" lengthAdjust="spacingAndGlyphs">d</text><text x="191.50" y="510.90" textLength="7.58" lengthAdjust="spacingAndGlyphs">C</text><text x="199.08" y="510.90" textLength="6.53" lengthAdjust="spacingAndGlyphs">a</text><text x="205.61" y="510.90" textLength="4.64" lengthAdjust="spacingAndGlyphs">r</text><text x="210.24" y="510.90" textLength="6.77" lengthAdjust="spacingAndGlyphs">g</text><text x="217.01" y="510.90" textLength="6.59" lengthAdjust="spacingAndGlyphs">o</text></g>
<text x="258.50" y="510.00" font-size="9.85" text-anchor="middle" fill="#1a1a1a" textLength="19.10" lengthAdjust="spacingAndGlyphs">221</text>
<text x="304.00" y="510.00" font-size="9.85" text-anchor="middle" fill="#1a1a1a" textLength="12.74" lengthAdjust="spacingAndGlyphs">30</text>
<text x="342.65" y="510.00" font-size="9.85" text-anchor="middle" fill="#1a1a1a" textLength="32.47" lengthAdjust="spacingAndGlyphs">13.7%</text>
<text x="388.35" y="510.00" font-size="9.85" text-anchor="middle" fill="#1a1a1a" textLength="28.65" lengthAdjust="spacingAndGlyphs">5,981</text>
<text x="438.35" y="510.00" font-size="9.85" text-anchor="middle" fill="#1a1a1a" textLength="28.65" lengthAdjust="spacingAndGlyphs">3,851</text>
<text x="484.05" y="510.00" font-size="9.85" text-anchor="middle" fill="#1a1a1a" textLength="32.47" lengthAdjust="spacingAndGlyphs">64.4%</text>
<text x="529.80" y="510.00" font-size="9.85" text-anchor="middle" fill="#1a1a1a" textLength="19.10" lengthAdjust="spacingAndGlyphs">362</text>
<text x="579.60" y="510.00" font-size="9.85" text-anchor="middle" fill="#1a1a1a" textLength="19.10" lengthAdjust="spacingAndGlyphs">281</text>
<text x="628.60" y="510.00" font-size="9.85" text-anchor="middle" fill="#1a1a1a" textLength="32.47" lengthAdjust="spacingAndGlyphs">77.5%</text>
<text x="677.90" y="510.00" font-size="9.85" text-anchor="middle" fill="#1a1a1a" textLength="12.74" lengthAdjust="spacingAndGlyphs">71</text>
<text x="777.00" y="510.00" font-size="9.85" text-anchor="middle" fill="#1a1a1a" textLength="26.10" lengthAdjust="spacingAndGlyphs">0.0%</text>
<text x="831.20" y="510.00" font-size="9.85" text-anchor="middle" fill="#1a1a1a" textLength="28.65" lengthAdjust="spacingAndGlyphs">6,635</text>
<text x="891.20" y="510.00" font-size="9.85" text-anchor="middle" fill="#1a1a1a" textLength="28.65" lengthAdjust="spacingAndGlyphs">4,162</text>
<text x="942.20" y="510.00" font-size="9.85" text-anchor="middle" fill="#1a1a1a" textLength="32.47" lengthAdjust="spacingAndGlyphs">62.7%</text>
<g font-size="10.45" fill="#1a1a1a"><text x="120.30" y="533.10" textLength="7.55" lengthAdjust="spacingAndGlyphs">R</text><text x="127.85" y="533.10" textLength="6.59" lengthAdjust="spacingAndGlyphs">o</text><text x="134.90" y="533.10" textLength="4.00" lengthAdjust="spacingAndGlyphs">-</text><text x="139.37" y="533.10" textLength="7.55" lengthAdjust="spacingAndGlyphs">R</text><text x="146.92" y="533.10" textLength="6.59" lengthAdjust="spacingAndGlyphs">o</text><text x="157.33" y="533.10" textLength="7.58" lengthAdjust="spacingAndGlyphs">C</text><text x="164.91" y="533.10" textLength="6.53" lengthAdjust="spacingAndGlyphs">a</text><text x="171.44" y="533.10" textLength="4.64" lengthAdjust="spacingAndGlyphs">r</text><text x="176.08" y="533.10" textLength="6.77" lengthAdjust="spacingAndGlyphs">g</text><text x="182.84" y="533.10" textLength="6.59" lengthAdjust="spacingAndGlyphs">o</text></g>
<text x="258.50" y="532.20" font-size="9.85" text-anchor="middle" fill="#1a1a1a" textLength="12.74" lengthAdjust="spacingAndGlyphs">13</text>
<text x="304.00" y="532.20" font-size="9.85" text-anchor="middle" fill="#1a1a1a" textLength="6.37" lengthAdjust="spacingAndGlyphs">2</text>
<text x="342.65" y="532.20" font-size="9.85" text-anchor="middle" fill="#1a1a1a" textLength="32.47" lengthAdjust="spacingAndGlyphs">18.3%</text>
<text x="388.35" y="532.20" font-size="9.85" text-anchor="middle" fill="#1a1a1a" textLength="28.65" lengthAdjust="spacingAndGlyphs">4,667</text>
<text x="438.35" y="532.20" font-size="9.85" text-anchor="middle" fill="#1a1a1a" textLength="28.65" lengthAdjust="spacingAndGlyphs">3,251</text>
<text x="484.05" y="532.20" font-size="9.85" text-anchor="middle" fill="#1a1a1a" textLength="32.47" lengthAdjust="spacingAndGlyphs">69.6%</text>
<text x="529.80" y="532.20" font-size="9.85" text-anchor="middle" fill="#1a1a1a" textLength="28.65" lengthAdjust="spacingAndGlyphs">5,019</text>
<text x="579.60" y="532.20" font-size="9.85" text-anchor="middle" fill="#1a1a1a" textLength="28.65" lengthAdjust="spacingAndGlyphs">4,824</text>
<text x="628.60" y="532.20" font-size="9.85" text-anchor="middle" fill="#1a1a1a" textLength="32.47" lengthAdjust="spacingAndGlyphs">96.1%</text>
<text x="677.90" y="532.20" font-size="9.85" text-anchor="middle" fill="#1a1a1a" textLength="28.65" lengthAdjust="spacingAndGlyphs">2,451</text>
<text x="728.00" y="532.20" font-size="9.85" text-anchor="middle" fill="#1a1a1a" textLength="28.65" lengthAdjust="spacingAndGlyphs">2,230</text>
<text x="777.00" y="532.20" font-size="9.85" text-anchor="middle" fill="#1a1a1a" textLength="32.47" lengthAdjust="spacingAndGlyphs">91.0%</text>
<text x="831.20" y="532.20" font-size="9.85" text-anchor="middle" fill="#1a1a1a" textLength="35.02" lengthAdjust="spacingAndGlyphs">12,150</text>
<text x="891.20" y="532.20" font-size="9.85" text-anchor="middle" fill="#1a1a1a" textLength="35.02" lengthAdjust="spacingAndGlyphs">10,307</text>
<text x="942.20" y="532.20" font-size="9.85" text-anchor="middle" fill="#1a1a1a" textLength="32.47" lengthAdjust="spacingAndGlyphs">84.8%</text>
<g font-size="10.45" fill="#1a1a1a"><text x="120.30" y="555.10" textLength="7.55" lengthAdjust="spacingAndGlyphs">R</text><text x="127.85" y="555.10" textLength="6.59" lengthAdjust="spacingAndGlyphs">o</text><text x="134.90" y="555.10" textLength="4.00" lengthAdjust="spacingAndGlyphs">-</text><text x="139.37" y="555.10" textLength="7.55" lengthAdjust="spacingAndGlyphs">R</text><text x="146.92" y="555.10" textLength="6.59" lengthAdjust="spacingAndGlyphs">o</text><text x="157.33" y="555.10" textLength="6.55" lengthAdjust="spacingAndGlyphs">P</text><text x="163.88" y="555.10" textLength="6.53" lengthAdjust="spacingAndGlyphs">a</text><text x="170.41" y="555.10" textLength="5.66" lengthAdjust="spacingAndGlyphs">s</text><text x="176.07" y="555.10" textLength="5.66" lengthAdjust="spacingAndGlyphs">s</text><text x="181.72" y="555.10" textLength="6.47" lengthAdjust="spacingAndGlyphs">e</text><text x="188.20" y="555.10" textLength="6.87" lengthAdjust="spacingAndGlyphs">n</text><text x="195.07" y="555.10" textLength="6.77" lengthAdjust="spacingAndGlyphs">g</text><text x="201.84" y="555.10" textLength="6.47" lengthAdjust="spacingAndGlyphs">e</text><text x="208.31" y="555.10" textLength="4.64" lengthAdjust="spacingAndGlyphs">r</text></g>
<g font-size="10.45" fill="#1a1a1a"><text x="120.30" y="568.10" textLength="7.43" lengthAdjust="spacingAndGlyphs">S</text><text x="127.73" y="568.10" textLength="6.87" lengthAdjust="spacingAndGlyphs">h</text><text x="134.60" y="568.10" textLength="2.98" lengthAdjust="spacingAndGlyphs">i</text><text x="137.58" y="568.10" textLength="6.77" lengthAdjust="spacingAndGlyphs">p</text></g>
<text x="258.50" y="554.20" font-size="9.85" text-anchor="middle" fill="#1a1a1a" textLength="19.10" lengthAdjust="spacingAndGlyphs">254</text>
<text x="304.00" y="554.20" font-size="9.85" text-anchor="middle" fill="#1a1a1a" textLength="6.37" lengthAdjust="spacingAndGlyphs">8</text>
<text x="342.65" y="554.20" font-size="9.85" text-anchor="middle" fill="#1a1a1a" textLength="26.10" lengthAdjust="spacingAndGlyphs">3.2%</text>
<text x="388.35" y="554.20" font-size="9.85" text-anchor="middle" fill="#1a1a1a" textLength="28.65" lengthAdjust="spacingAndGlyphs">9,655</text>
<text x="438.35" y="554.20" font-size="9.85" text-anchor="middle" fill="#1a1a1a" textLength="28.65" lengthAdjust="spacingAndGlyphs">3,684</text>
<text x="484.05" y="554.20" font-size="9.85" text-anchor="middle" fill="#1a1a1a" textLength="32.47" lengthAdjust="spacingAndGlyphs">38.2%</text>
<text x="529.80" y="554.20" font-size="9.85" text-anchor="middle" fill="#1a1a1a" textLength="28.65" lengthAdjust="spacingAndGlyphs">8,342</text>
<text x="579.60" y="554.20" font-size="9.85" text-anchor="middle" fill="#1a1a1a" textLength="28.65" lengthAdjust="spacingAndGlyphs">7,111</text>
<text x="628.60" y="554.20" font-size="9.85" text-anchor="middle" fill="#1a1a1a" textLength="32.47" lengthAdjust="spacingAndGlyphs">85.2%</text>
<text x="677.90" y="554.20" font-size="9.85" text-anchor="middle" fill="#1a1a1a" textLength="19.10" lengthAdjust="spacingAndGlyphs">541</text>
<text x="728.00" y="554.20" font-size="9.85" text-anchor="middle" fill="#1a1a1a" textLength="19.10" lengthAdjust="spacingAndGlyphs">471</text>
<text x="777.00" y="554.20" font-size="9.85" text-anchor="middle" fill="#1a1a1a" textLength="32.47" lengthAdjust="spacingAndGlyphs">87.1%</text>
<text x="831.20" y="554.20" font-size="9.85" text-anchor="middle" fill="#1a1a1a" textLength="35.02" lengthAdjust="spacingAndGlyphs">18,792</text>
<text x="891.20" y="554.20" font-size="9.85" text-anchor="middle" fill="#1a1a1a" textLength="35.02" lengthAdjust="spacingAndGlyphs">11,274</text>
<text x="942.20" y="554.20" font-size="9.85" text-anchor="middle" fill="#1a1a1a" textLength="32.47" lengthAdjust="spacingAndGlyphs">60.0%</text>
<g font-size="10.45" fill="#1a1a1a"><text x="120.30" y="590.40" textLength="7.43" lengthAdjust="spacingAndGlyphs">S</text><text x="127.73" y="590.40" textLength="6.77" lengthAdjust="spacingAndGlyphs">p</text><text x="134.49" y="590.40" textLength="6.47" lengthAdjust="spacingAndGlyphs">e</text><text x="140.97" y="590.40" textLength="5.66" lengthAdjust="spacingAndGlyphs">c</text><text x="146.62" y="590.40" textLength="2.98" lengthAdjust="spacingAndGlyphs">i</text><text x="149.60" y="590.40" textLength="6.53" lengthAdjust="spacingAndGlyphs">a</text><text x="156.13" y="590.40" textLength="2.98" lengthAdjust="spacingAndGlyphs">l</text><text x="162.93" y="590.40" textLength="6.55" lengthAdjust="spacingAndGlyphs">P</text><text x="169.47" y="590.40" textLength="6.87" lengthAdjust="spacingAndGlyphs">u</text><text x="176.35" y="590.40" textLength="4.64" lengthAdjust="spacingAndGlyphs">r</text><text x="180.99" y="590.40" textLength="6.77" lengthAdjust="spacingAndGlyphs">p</text><text x="187.75" y="590.40" textLength="6.59" lengthAdjust="spacingAndGlyphs">o</text><text x="194.34" y="590.40" textLength="5.66" lengthAdjust="spacingAndGlyphs">s</text><text x="200.00" y="590.40" textLength="6.47" lengthAdjust="spacingAndGlyphs">e</text></g>
<g font-size="10.45" fill="#1a1a1a"><text x="120.30" y="603.40" textLength="7.43" lengthAdjust="spacingAndGlyphs">S</text><text x="127.73" y="603.40" textLength="6.87" lengthAdjust="spacingAndGlyphs">h</text><text x="134.60" y="603.40" textLength="2.98" lengthAdjust="spacingAndGlyphs">i</text><text x="137.58" y="603.40" textLength="6.77" lengthAdjust="spacingAndGlyphs">p</text></g>
<text x="258.50" y="589.50" font-size="9.85" text-anchor="middle" fill="#1a1a1a" textLength="12.74" lengthAdjust="spacingAndGlyphs">47</text>
<text x="304.00" y="589.50" font-size="9.85" text-anchor="middle" fill="#1a1a1a" textLength="6.37" lengthAdjust="spacingAndGlyphs">5</text>
<text x="342.65" y="589.50" font-size="9.85" text-anchor="middle" fill="#1a1a1a" textLength="26.10" lengthAdjust="spacingAndGlyphs">9.8%</text>
<text x="388.35" y="589.50" font-size="9.85" text-anchor="middle" fill="#1a1a1a" textLength="28.65" lengthAdjust="spacingAndGlyphs">2,135</text>
<text x="438.35" y="589.50" font-size="9.85" text-anchor="middle" fill="#1a1a1a" textLength="28.65" lengthAdjust="spacingAndGlyphs">1,052</text>
<text x="484.05" y="589.50" font-size="9.85" text-anchor="middle" fill="#1a1a1a" textLength="32.47" lengthAdjust="spacingAndGlyphs">49.3%</text>
<text x="529.80" y="589.50" font-size="9.85" text-anchor="middle" fill="#1a1a1a" textLength="19.10" lengthAdjust="spacingAndGlyphs">720</text>
<text x="579.60" y="589.50" font-size="9.85" text-anchor="middle" fill="#1a1a1a" textLength="19.10" lengthAdjust="spacingAndGlyphs">383</text>
<text x="628.60" y="589.50" font-size="9.85" text-anchor="middle" fill="#1a1a1a" textLength="32.47" lengthAdjust="spacingAndGlyphs">53.3%</text>
<text x="677.90" y="589.50" font-size="9.85" text-anchor="middle" fill="#1a1a1a" textLength="19.10" lengthAdjust="spacingAndGlyphs">969</text>
<text x="728.00" y="589.50" font-size="9.85" text-anchor="middle" fill="#1a1a1a" textLength="19.10" lengthAdjust="spacingAndGlyphs">969</text>
<text x="777.00" y="589.50" font-size="9.85" text-anchor="middle" fill="#1a1a1a" textLength="38.83" lengthAdjust="spacingAndGlyphs">100.0%</text>
<text x="831.20" y="589.50" font-size="9.85" text-anchor="middle" fill="#1a1a1a" textLength="28.65" lengthAdjust="spacingAndGlyphs">3,871</text>
<text x="891.20" y="589.50" font-size="9.85" text-anchor="middle" fill="#1a1a1a" textLength="28.65" lengthAdjust="spacingAndGlyphs">2,408</text>
<text x="942.20" y="589.50" font-size="9.85" text-anchor="middle" fill="#1a1a1a" textLength="32.47" lengthAdjust="spacingAndGlyphs">62.2%</text>
<g font-size="10.45" fill="#1a1a1a"><text x="120.30" y="625.90" textLength="6.69" lengthAdjust="spacingAndGlyphs">T</text><text x="126.99" y="625.90" textLength="6.87" lengthAdjust="spacingAndGlyphs">u</text><text x="133.86" y="625.90" textLength="6.77" lengthAdjust="spacingAndGlyphs">g</text></g>
<text x="258.50" y="625.00" font-size="9.85" text-anchor="middle" fill="#1a1a1a" textLength="28.65" lengthAdjust="spacingAndGlyphs">4,674</text>
<text x="304.00" y="625.00" font-size="9.85" text-anchor="middle" fill="#1a1a1a" textLength="19.10" lengthAdjust="spacingAndGlyphs">497</text>
<text x="342.65" y="625.00" font-size="9.85" text-anchor="middle" fill="#1a1a1a" textLength="32.47" lengthAdjust="spacingAndGlyphs">10.6%</text>
<text x="388.35" y="625.00" font-size="9.85" text-anchor="middle" fill="#1a1a1a" textLength="19.10" lengthAdjust="spacingAndGlyphs">784</text>
<text x="438.35" y="625.00" font-size="9.85" text-anchor="middle" fill="#1a1a1a" textLength="19.10" lengthAdjust="spacingAndGlyphs">175</text>
<text x="484.05" y="625.00" font-size="9.85" text-anchor="middle" fill="#1a1a1a" textLength="32.47" lengthAdjust="spacingAndGlyphs">22.4%</text>
<text x="529.80" y="625.00" font-size="9.85" text-anchor="middle" fill="#1a1a1a" textLength="6.37" lengthAdjust="spacingAndGlyphs">0</text>
<text x="579.60" y="625.00" font-size="9.85" text-anchor="middle" fill="#1a1a1a" textLength="6.37" lengthAdjust="spacingAndGlyphs">0</text>
<text x="628.60" y="625.00" font-size="9.85" text-anchor="middle" fill="#1a1a1a" textLength="13.20" lengthAdjust="spacingAndGlyphs">Na</text>
<text x="677.90" y="625.00" font-size="9.85" text-anchor="middle" fill="#1a1a1a" textLength="6.37" lengthAdjust="spacingAndGlyphs">0</text>
<text x="728.00" y="625.00" font-size="9.85" text-anchor="middle" fill="#1a1a1a" textLength="6.37" lengthAdjust="spacingAndGlyphs">0</text>
<text x="777.00" y="625.00" font-size="9.85" text-anchor="middle" fill="#1a1a1a" textLength="13.20" lengthAdjust="spacingAndGlyphs">Na</text>
<text x="831.20" y="625.00" font-size="9.85" text-anchor="middle" fill="#1a1a1a" textLength="28.65" lengthAdjust="spacingAndGlyphs">5,457</text>
<text x="891.20" y="625.00" font-size="9.85" text-anchor="middle" fill="#1a1a1a" textLength="19.10" lengthAdjust="spacingAndGlyphs">673</text>
<text x="942.20" y="625.00" font-size="9.85" text-anchor="middle" fill="#1a1a1a" textLength="32.47" lengthAdjust="spacingAndGlyphs">12.3%</text>
<g font-size="10.9" fill="#1a1a1a" font-weight="bold" stroke="#1a1a1a" stroke-width="0.25"><text x="158.41" y="648.00" textLength="7.45" lengthAdjust="spacingAndGlyphs">T</text><text x="165.86" y="648.00" textLength="7.51" lengthAdjust="spacingAndGlyphs">o</text><text x="173.37" y="648.00" textLength="4.98" lengthAdjust="spacingAndGlyphs">t</text><text x="178.35" y="648.00" textLength="7.30" lengthAdjust="spacingAndGlyphs">a</text><text x="185.66" y="648.00" textLength="3.74" lengthAdjust="spacingAndGlyphs">l</text></g>
<text x="258.50" y="647.10" font-size="9.85" text-anchor="middle" fill="#1a1a1a" textLength="35.02" lengthAdjust="spacingAndGlyphs">15,285</text>
<text x="304.00" y="647.10" font-size="9.85" text-anchor="middle" fill="#1a1a1a" textLength="28.65" lengthAdjust="spacingAndGlyphs">1,191</text>
<text x="342.65" y="647.10" font-size="9.85" text-anchor="middle" fill="#1a1a1a" textLength="16.55" lengthAdjust="spacingAndGlyphs">8%</text>
<text x="388.35" y="647.10" font-size="9.85" text-anchor="middle" fill="#1a1a1a" textLength="41.39" lengthAdjust="spacingAndGlyphs">254,403</text>
<text x="438.35" y="647.10" font-size="9.85" text-anchor="middle" fill="#1a1a1a" textLength="41.39" lengthAdjust="spacingAndGlyphs">186,076</text>
<text x="484.05" y="647.10" font-size="9.85" text-anchor="middle" fill="#1a1a1a" textLength="22.92" lengthAdjust="spacingAndGlyphs">73%</text>
<text x="529.80" y="647.10" font-size="9.85" text-anchor="middle" fill="#1a1a1a" textLength="41.39" lengthAdjust="spacingAndGlyphs">506,703</text>
<text x="579.60" y="647.10" font-size="9.85" text-anchor="middle" fill="#1a1a1a" textLength="41.39" lengthAdjust="spacingAndGlyphs">470,848</text>
<text x="628.60" y="647.10" font-size="9.85" text-anchor="middle" fill="#1a1a1a" textLength="22.92" lengthAdjust="spacingAndGlyphs">93%</text>
<text x="677.90" y="647.10" font-size="9.85" text-anchor="middle" fill="#1a1a1a" textLength="41.39" lengthAdjust="spacingAndGlyphs">782,990</text>
<text x="728.00" y="647.10" font-size="9.85" text-anchor="middle" fill="#1a1a1a" textLength="41.39" lengthAdjust="spacingAndGlyphs">718,969</text>
<text x="777.00" y="647.10" font-size="9.85" text-anchor="middle" fill="#1a1a1a" textLength="22.92" lengthAdjust="spacingAndGlyphs">92%</text>
<text x="831.20" y="647.10" font-size="9.85" text-anchor="middle" fill="#1a1a1a" textLength="50.94" lengthAdjust="spacingAndGlyphs">1,559,381</text>
<text x="891.20" y="647.10" font-size="9.85" text-anchor="middle" fill="#1a1a1a" textLength="50.94" lengthAdjust="spacingAndGlyphs">1,377,083</text>
<text x="942.20" y="647.10" font-size="9.85" text-anchor="middle" fill="#1a1a1a" textLength="22.92" lengthAdjust="spacingAndGlyphs">88%</text>
<text x="116.10" y="665.60" font-size="9.3" font-weight="bold" fill="#1a1a1a" textLength="42.00" lengthAdjust="spacingAndGlyphs">Source:</text>
<text x="162.40" y="665.60" font-size="9.3" fill="#1a1a1a" textLength="37.90" lengthAdjust="spacingAndGlyphs">Equasis</text>
<text x="207.30" y="662.00" font-size="6" fill="#1a1a1a" textLength="9.60" lengthAdjust="spacingAndGlyphs">(1)</text>
<text x="218.80" y="665.60" font-size="9.3" fill="#1a1a1a" textLength="48.10" lengthAdjust="spacingAndGlyphs">GT&lt;500 -</text>
<text x="275.00" y="662.00" font-size="6" fill="#1a1a1a" textLength="9.70" lengthAdjust="spacingAndGlyphs">(2)</text>
<text x="287.30" y="665.60" font-size="9.3" fill="#1a1a1a" textLength="81.40" lengthAdjust="spacingAndGlyphs">500≤GT&lt;25,000</text>
<text x="376.70" y="665.60" font-size="9.3" fill="#1a1a1a" textLength="4.30" lengthAdjust="spacingAndGlyphs">-</text>
<text x="387.70" y="662.00" font-size="6" fill="#1a1a1a" textLength="9.50" lengthAdjust="spacingAndGlyphs">(3)</text>
<text x="399.40" y="665.60" font-size="9.3" fill="#1a1a1a" textLength="100.80" lengthAdjust="spacingAndGlyphs">25,000≤GT&lt;60,000</text>
<text x="507.50" y="665.60" font-size="9.3" fill="#1a1a1a" textLength="4.30" lengthAdjust="spacingAndGlyphs">-</text>
<text x="519.10" y="662.00" font-size="6" fill="#1a1a1a" textLength="9.40" lengthAdjust="spacingAndGlyphs">(4)</text>
<text x="530.70" y="665.60" font-size="9.3" fill="#1a1a1a" textLength="54.70" lengthAdjust="spacingAndGlyphs">GT≥60,000</text>
<text x="129.10" y="725.90" font-size="14.9" font-weight="bold" fill="#1b4a7e" textLength="44.80" lengthAdjust="spacingAndGlyphs" stroke="#1b4a7e" stroke-width="0.3">Graph</text>
<text x="178.80" y="725.90" font-size="14.9" font-weight="bold" fill="#1b4a7e" textLength="26.80" lengthAdjust="spacingAndGlyphs" stroke="#1b4a7e" stroke-width="0.3">121</text>
<text x="210.00" y="725.90" font-size="14.9" font-weight="bold" fill="#1b4a7e" textLength="6.70" lengthAdjust="spacingAndGlyphs" stroke="#1b4a7e" stroke-width="0.3">-</text>
<text x="244.70" y="725.90" font-size="14.9" font-weight="bold" fill="#1b4a7e" textLength="42.00" lengthAdjust="spacingAndGlyphs" stroke="#1b4a7e" stroke-width="0.3">Gross</text>
<text x="289.40" y="725.90" font-size="14.9" font-weight="bold" fill="#1b4a7e" textLength="62.30" lengthAdjust="spacingAndGlyphs" stroke="#1b4a7e" stroke-width="0.3">tonnage</text>
<text x="355.50" y="725.90" font-size="14.9" font-weight="bold" fill="#1b4a7e" textLength="20.10" lengthAdjust="spacingAndGlyphs" stroke="#1b4a7e" stroke-width="0.3">(in</text>
<text x="380.00" y="725.90" font-size="14.9" font-weight="bold" fill="#1b4a7e" textLength="37.30" lengthAdjust="spacingAndGlyphs" stroke="#1b4a7e" stroke-width="0.3">1000</text>
<text x="420.50" y="725.90" font-size="14.9" font-weight="bold" fill="#1b4a7e" textLength="27.90" lengthAdjust="spacingAndGlyphs" stroke="#1b4a7e" stroke-width="0.3">GT)</text>
<text x="452.20" y="725.90" font-size="14.9" font-weight="bold" fill="#1b4a7e" textLength="15.10" lengthAdjust="spacingAndGlyphs" stroke="#1b4a7e" stroke-width="0.3">of</text>
<text x="470.50" y="725.90" font-size="14.9" font-weight="bold" fill="#1b4a7e" textLength="70.70" lengthAdjust="spacingAndGlyphs" stroke="#1b4a7e" stroke-width="0.3">inspected</text>
<text x="544.40" y="725.90" font-size="14.9" font-weight="bold" fill="#1b4a7e" textLength="39.00" lengthAdjust="spacingAndGlyphs" stroke="#1b4a7e" stroke-width="0.3">ships</text>
<text x="587.20" y="725.90" font-size="14.9" font-weight="bold" fill="#1b4a7e" textLength="24.50" lengthAdjust="spacingAndGlyphs" stroke="#1b4a7e" stroke-width="0.3">(all</text>
<text x="615.00" y="725.90" font-size="14.9" font-weight="bold" fill="#1b4a7e" textLength="47.30" lengthAdjust="spacingAndGlyphs" stroke="#1b4a7e" stroke-width="0.3">sizes),</text>
<text x="666.60" y="725.90" font-size="14.9" font-weight="bold" fill="#1b4a7e" textLength="17.90" lengthAdjust="spacingAndGlyphs" stroke="#1b4a7e" stroke-width="0.3">by</text>
<text x="688.30" y="725.90" font-size="14.9" font-weight="bold" fill="#1b4a7e" textLength="29.50" lengthAdjust="spacingAndGlyphs" stroke="#1b4a7e" stroke-width="0.3">PSC</text>
<text x="720.50" y="725.90" font-size="14.9" font-weight="bold" fill="#1b4a7e" textLength="33.40" lengthAdjust="spacingAndGlyphs" stroke="#1b4a7e" stroke-width="0.3">type</text>
<line x1="208.40" y1="749.00" x2="889.30" y2="749.00" stroke="#d9d9d9" stroke-width="1.3"/>
<line x1="208.40" y1="812.30" x2="889.30" y2="812.30" stroke="#d9d9d9" stroke-width="1.3"/>
<line x1="208.40" y1="875.60" x2="889.30" y2="875.60" stroke="#d9d9d9" stroke-width="1.3"/>
<line x1="208.40" y1="938.90" x2="889.30" y2="938.90" stroke="#d9d9d9" stroke-width="1.3"/>
<line x1="208.40" y1="1002.20" x2="889.30" y2="1002.20" stroke="#d9d9d9" stroke-width="1.3"/>
<line x1="208.40" y1="1065.50" x2="889.30" y2="1065.50" stroke="#d9d9d9" stroke-width="1.3"/>
<line x1="208.40" y1="1128.80" x2="889.30" y2="1128.80" stroke="#d9d9d9" stroke-width="1.3"/>
<g font-size="14.2" fill="#595959" font-weight="bold" stroke="#595959" stroke-width="0.45"><text x="127.95" y="754.00" textLength="10.35" lengthAdjust="spacingAndGlyphs">6</text><text x="138.29" y="754.00" textLength="10.35" lengthAdjust="spacingAndGlyphs">0</text><text x="148.64" y="754.00" textLength="10.35" lengthAdjust="spacingAndGlyphs">0</text><text x="158.98" y="754.00" textLength="5.28" lengthAdjust="spacingAndGlyphs">,</text><text x="164.26" y="754.00" textLength="10.35" lengthAdjust="spacingAndGlyphs">0</text><text x="174.61" y="754.00" textLength="10.35" lengthAdjust="spacingAndGlyphs">0</text><text x="184.95" y="754.00" textLength="10.35" lengthAdjust="spacingAndGlyphs">0</text></g>
<g font-size="14.2" fill="#595959" font-weight="bold" stroke="#595959" stroke-width="0.45"><text x="127.95" y="817.30" textLength="10.35" lengthAdjust="spacingAndGlyphs">5</text><text x="138.29" y="817.30" textLength="10.35" lengthAdjust="spacingAndGlyphs">0</text><text x="148.64" y="817.30" textLength="10.35" lengthAdjust="spacingAndGlyphs">0</text><text x="158.98" y="817.30" textLength="5.28" lengthAdjust="spacingAndGlyphs">,</text><text x="164.26" y="817.30" textLength="10.35" lengthAdjust="spacingAndGlyphs">0</text><text x="174.61" y="817.30" textLength="10.35" lengthAdjust="spacingAndGlyphs">0</text><text x="184.95" y="817.30" textLength="10.35" lengthAdjust="spacingAndGlyphs">0</text></g>
<g font-size="14.2" fill="#595959" font-weight="bold" stroke="#595959" stroke-width="0.45"><text x="127.95" y="880.60" textLength="10.35" lengthAdjust="spacingAndGlyphs">4</text><text x="138.29" y="880.60" textLength="10.35" lengthAdjust="spacingAndGlyphs">0</text><text x="148.64" y="880.60" textLength="10.35" lengthAdjust="spacingAndGlyphs">0</text><text x="158.98" y="880.60" textLength="5.28" lengthAdjust="spacingAndGlyphs">,</text><text x="164.26" y="880.60" textLength="10.35" lengthAdjust="spacingAndGlyphs">0</text><text x="174.61" y="880.60" textLength="10.35" lengthAdjust="spacingAndGlyphs">0</text><text x="184.95" y="880.60" textLength="10.35" lengthAdjust="spacingAndGlyphs">0</text></g>
<g font-size="14.2" fill="#595959" font-weight="bold" stroke="#595959" stroke-width="0.45"><text x="127.95" y="943.90" textLength="10.35" lengthAdjust="spacingAndGlyphs">3</text><text x="138.29" y="943.90" textLength="10.35" lengthAdjust="spacingAndGlyphs">0</text><text x="148.64" y="943.90" textLength="10.35" lengthAdjust="spacingAndGlyphs">0</text><text x="158.98" y="943.90" textLength="5.28" lengthAdjust="spacingAndGlyphs">,</text><text x="164.26" y="943.90" textLength="10.35" lengthAdjust="spacingAndGlyphs">0</text><text x="174.61" y="943.90" textLength="10.35" lengthAdjust="spacingAndGlyphs">0</text><text x="184.95" y="943.90" textLength="10.35" lengthAdjust="spacingAndGlyphs">0</text></g>
<g font-size="14.2" fill="#595959" font-weight="bold" stroke="#595959" stroke-width="0.45"><text x="127.95" y="1007.20" textLength="10.35" lengthAdjust="spacingAndGlyphs">2</text><text x="138.29" y="1007.20" textLength="10.35" lengthAdjust="spacingAndGlyphs">0</text><text x="148.64" y="1007.20" textLength="10.35" lengthAdjust="spacingAndGlyphs">0</text><text x="158.98" y="1007.20" textLength="5.28" lengthAdjust="spacingAndGlyphs">,</text><text x="164.26" y="1007.20" textLength="10.35" lengthAdjust="spacingAndGlyphs">0</text><text x="174.61" y="1007.20" textLength="10.35" lengthAdjust="spacingAndGlyphs">0</text><text x="184.95" y="1007.20" textLength="10.35" lengthAdjust="spacingAndGlyphs">0</text></g>
<g font-size="14.2" fill="#595959" font-weight="bold" stroke="#595959" stroke-width="0.45"><text x="127.95" y="1070.50" textLength="10.35" lengthAdjust="spacingAndGlyphs">1</text><text x="138.29" y="1070.50" textLength="10.35" lengthAdjust="spacingAndGlyphs">0</text><text x="148.64" y="1070.50" textLength="10.35" lengthAdjust="spacingAndGlyphs">0</text><text x="158.98" y="1070.50" textLength="5.28" lengthAdjust="spacingAndGlyphs">,</text><text x="164.26" y="1070.50" textLength="10.35" lengthAdjust="spacingAndGlyphs">0</text><text x="174.61" y="1070.50" textLength="10.35" lengthAdjust="spacingAndGlyphs">0</text><text x="184.95" y="1070.50" textLength="10.35" lengthAdjust="spacingAndGlyphs">0</text></g>
<g font-size="14.2" fill="#595959" font-weight="bold" stroke="#595959" stroke-width="0.45"><text x="184.95" y="1133.80" textLength="10.35" lengthAdjust="spacingAndGlyphs">0</text></g>
<g font-size="14.2" fill="#595959" font-weight="bold" stroke="#595959" stroke-width="0.45"><text x="903.60" y="754.00" textLength="10.24" lengthAdjust="spacingAndGlyphs">1</text><text x="913.84" y="754.00" textLength="10.24" lengthAdjust="spacingAndGlyphs">0</text><text x="924.08" y="754.00" textLength="10.24" lengthAdjust="spacingAndGlyphs">0</text><text x="934.32" y="754.00" textLength="18.32" lengthAdjust="spacingAndGlyphs">%</text></g>
<g font-size="14.2" fill="#595959" font-weight="bold" stroke="#595959" stroke-width="0.45"><text x="903.60" y="791.98" textLength="10.24" lengthAdjust="spacingAndGlyphs">9</text><text x="913.84" y="791.98" textLength="10.24" lengthAdjust="spacingAndGlyphs">0</text><text x="924.08" y="791.98" textLength="18.32" lengthAdjust="spacingAndGlyphs">%</text></g>
<g font-size="14.2" fill="#595959" font-weight="bold" stroke="#595959" stroke-width="0.45"><text x="903.60" y="829.96" textLength="10.24" lengthAdjust="spacingAndGlyphs">8</text><text x="913.84" y="829.96" textLength="10.24" lengthAdjust="spacingAndGlyphs">0</text><text x="924.08" y="829.96" textLength="18.32" lengthAdjust="spacingAndGlyphs">%</text></g>
<g font-size="14.2" fill="#595959" font-weight="bold" stroke="#595959" stroke-width="0.45"><text x="903.60" y="867.94" textLength="10.24" lengthAdjust="spacingAndGlyphs">7</text><text x="913.84" y="867.94" textLength="10.24" lengthAdjust="spacingAndGlyphs">0</text><text x="924.08" y="867.94" textLength="18.32" lengthAdjust="spacingAndGlyphs">%</text></g>
<g font-size="14.2" fill="#595959" font-weight="bold" stroke="#595959" stroke-width="0.45"><text x="903.60" y="905.92" textLength="10.24" lengthAdjust="spacingAndGlyphs">6</text><text x="913.84" y="905.92" textLength="10.24" lengthAdjust="spacingAndGlyphs">0</text><text x="924.08" y="905.92" textLength="18.32" lengthAdjust="spacingAndGlyphs">%</text></g>
<g font-size="14.2" fill="#595959" font-weight="bold" stroke="#595959" stroke-width="0.45"><text x="903.60" y="943.90" textLength="10.24" lengthAdjust="spacingAndGlyphs">5</text><text x="913.84" y="943.90" textLength="10.24" lengthAdjust="spacingAndGlyphs">0</text><text x="924.08" y="943.90" textLength="18.32" lengthAdjust="spacingAndGlyphs">%</text></g>
<g font-size="14.2" fill="#595959" font-weight="bold" stroke="#595959" stroke-width="0.45"><text x="903.60" y="981.88" textLength="10.24" lengthAdjust="spacingAndGlyphs">4</text><text x="913.84" y="981.88" textLength="10.24" lengthAdjust="spacingAndGlyphs">0</text><text x="924.08" y="981.88" textLength="18.32" lengthAdjust="spacingAndGlyphs">%</text></g>
<g font-size="14.2" fill="#595959" font-weight="bold" stroke="#595959" stroke-width="0.45"><text x="903.60" y="1019.86" textLength="10.24" lengthAdjust="spacingAndGlyphs">3</text><text x="913.84" y="1019.86" textLength="10.24" lengthAdjust="spacingAndGlyphs">0</text><text x="924.08" y="1019.86" textLength="18.32" lengthAdjust="spacingAndGlyphs">%</text></g>
<g font-size="14.2" fill="#595959" font-weight="bold" stroke="#595959" stroke-width="0.45"><text x="903.60" y="1057.84" textLength="10.24" lengthAdjust="spacingAndGlyphs">2</text><text x="913.84" y="1057.84" textLength="10.24" lengthAdjust="spacingAndGlyphs">0</text><text x="924.08" y="1057.84" textLength="18.32" lengthAdjust="spacingAndGlyphs">%</text></g>
<g font-size="14.2" fill="#595959" font-weight="bold" stroke="#595959" stroke-width="0.45"><text x="903.60" y="1095.82" textLength="10.24" lengthAdjust="spacingAndGlyphs">1</text><text x="913.84" y="1095.82" textLength="10.24" lengthAdjust="spacingAndGlyphs">0</text><text x="924.08" y="1095.82" textLength="18.32" lengthAdjust="spacingAndGlyphs">%</text></g>
<g font-size="14.2" fill="#595959" font-weight="bold" stroke="#595959" stroke-width="0.45"><text x="903.60" y="1133.80" textLength="10.24" lengthAdjust="spacingAndGlyphs">0</text><text x="913.84" y="1133.80" textLength="18.32" lengthAdjust="spacingAndGlyphs">%</text></g>
<rect x="218.41" y="803.50" width="8.10" height="325.30" fill="#4472c4"/>
<rect x="228.71" y="825.27" width="8.10" height="303.53" fill="#ed7d31"/>
<rect x="256.24" y="1127.97" width="8.10" height="0.83" fill="#4472c4"/>
<rect x="266.54" y="1128.43" width="8.10" height="0.37" fill="#ed7d31"/>
<rect x="294.07" y="1128.65" width="8.10" height="0.15" fill="#4472c4"/>
<rect x="304.37" y="1128.68" width="8.10" height="0.12" fill="#ed7d31"/>
<rect x="331.90" y="951.29" width="8.10" height="177.51" fill="#4472c4"/>
<rect x="342.20" y="960.17" width="8.10" height="168.63" fill="#ed7d31"/>
<rect x="369.73" y="1067.01" width="8.10" height="61.79" fill="#4472c4"/>
<rect x="380.03" y="1071.17" width="8.10" height="57.63" fill="#ed7d31"/>
<rect x="407.55" y="1087.10" width="8.10" height="41.70" fill="#4472c4"/>
<rect x="417.85" y="1095.52" width="8.10" height="33.28" fill="#ed7d31"/>
<rect x="445.38" y="1125.95" width="8.10" height="2.85" fill="#4472c4"/>
<rect x="455.68" y="1126.44" width="8.10" height="2.36" fill="#ed7d31"/>
<rect x="483.21" y="1078.49" width="8.10" height="50.31" fill="#4472c4"/>
<rect x="493.51" y="1081.33" width="8.10" height="47.47" fill="#ed7d31"/>
<rect x="521.04" y="1117.86" width="8.10" height="10.94" fill="#4472c4"/>
<rect x="531.34" y="1123.44" width="8.10" height="5.36" fill="#ed7d31"/>
<rect x="558.86" y="926.96" width="8.10" height="201.84" fill="#4472c4"/>
<rect x="569.16" y="949.05" width="8.10" height="179.75" fill="#ed7d31"/>
<rect x="596.69" y="1095.23" width="8.10" height="33.57" fill="#4472c4"/>
<rect x="606.99" y="1103.01" width="8.10" height="25.79" fill="#ed7d31"/>
<rect x="634.52" y="1096.25" width="8.10" height="32.55" fill="#4472c4"/>
<rect x="644.82" y="1116.12" width="8.10" height="12.68" fill="#ed7d31"/>
<rect x="672.35" y="1110.73" width="8.10" height="18.07" fill="#4472c4"/>
<rect x="682.65" y="1112.32" width="8.10" height="16.48" fill="#ed7d31"/>
<rect x="710.17" y="1124.60" width="8.10" height="4.20" fill="#4472c4"/>
<rect x="720.47" y="1126.17" width="8.10" height="2.63" fill="#ed7d31"/>
<rect x="748.00" y="1121.11" width="8.10" height="7.69" fill="#4472c4"/>
<rect x="758.30" y="1122.28" width="8.10" height="6.52" fill="#ed7d31"/>
<rect x="785.83" y="1116.90" width="8.10" height="11.90" fill="#4472c4"/>
<rect x="796.13" y="1121.66" width="8.10" height="7.14" fill="#ed7d31"/>
<rect x="823.66" y="1126.35" width="8.10" height="2.45" fill="#4472c4"/>
<rect x="833.96" y="1127.28" width="8.10" height="1.52" fill="#ed7d31"/>
<rect x="861.49" y="1125.35" width="8.10" height="3.45" fill="#4472c4"/>
<rect x="871.79" y="1128.37" width="8.10" height="0.43" fill="#ed7d31"/>
<polyline points="227.61,774.45 265.44,962.07 303.27,828.76 341.10,767.99 378.93,774.45 416.75,825.72 454.58,813.57 492.41,770.27 530.24,942.70 568.06,790.40 605.89,837.11 643.72,980.68 681.55,782.42 719.37,890.67 757.20,806.73 795.03,900.92 832.86,892.56 870.69,1082.08" fill="none" stroke="#a5a5a5" stroke-width="3.4" stroke-linejoin="round" stroke-linecap="round"/>
<g font-size="14.3" fill="#595959" font-weight="bold" stroke="#595959" stroke-width="0.45" transform="rotate(-45 230.61 1149.20)"><text x="132.53" y="1149.20" textLength="11.13" lengthAdjust="spacingAndGlyphs">B</text><text x="143.66" y="1149.20" textLength="10.40" lengthAdjust="spacingAndGlyphs">u</text><text x="154.05" y="1149.20" textLength="4.99" lengthAdjust="spacingAndGlyphs">l</text><text x="159.04" y="1149.20" textLength="9.80" lengthAdjust="spacingAndGlyphs">k</text><text x="173.83" y="1149.20" textLength="10.57" lengthAdjust="spacingAndGlyphs">C</text><text x="184.40" y="1149.20" textLength="9.75" lengthAdjust="spacingAndGlyphs">a</text><text x="194.16" y="1149.20" textLength="7.26" lengthAdjust="spacingAndGlyphs">r</text><text x="201.41" y="1149.20" textLength="7.26" lengthAdjust="spacingAndGlyphs">r</text><text x="208.67" y="1149.20" textLength="4.99" lengthAdjust="spacingAndGlyphs">i</text><text x="213.66" y="1149.20" textLength="9.69" lengthAdjust="spacingAndGlyphs">e</text><text x="223.36" y="1149.20" textLength="7.26" lengthAdjust="spacingAndGlyphs">r</text></g>
<g font-size="14.3" fill="#595959" font-weight="bold" stroke="#595959" stroke-width="0.45" transform="rotate(-45 268.44 1149.20)"><text x="132.17" y="1149.20" textLength="10.57" lengthAdjust="spacingAndGlyphs">C</text><text x="142.74" y="1149.20" textLength="10.40" lengthAdjust="spacingAndGlyphs">h</text><text x="153.13" y="1149.20" textLength="9.69" lengthAdjust="spacingAndGlyphs">e</text><text x="162.83" y="1149.20" textLength="15.45" lengthAdjust="spacingAndGlyphs">m</text><text x="178.27" y="1149.20" textLength="4.99" lengthAdjust="spacingAndGlyphs">i</text><text x="183.27" y="1149.20" textLength="8.58" lengthAdjust="spacingAndGlyphs">c</text><text x="191.85" y="1149.20" textLength="9.75" lengthAdjust="spacingAndGlyphs">a</text><text x="201.60" y="1149.20" textLength="4.99" lengthAdjust="spacingAndGlyphs">l</text><text x="211.59" y="1149.20" textLength="9.96" lengthAdjust="spacingAndGlyphs">T</text><text x="221.55" y="1149.20" textLength="9.75" lengthAdjust="spacingAndGlyphs">a</text><text x="231.30" y="1149.20" textLength="10.40" lengthAdjust="spacingAndGlyphs">n</text><text x="241.69" y="1149.20" textLength="9.80" lengthAdjust="spacingAndGlyphs">k</text><text x="251.49" y="1149.20" textLength="9.69" lengthAdjust="spacingAndGlyphs">e</text><text x="261.19" y="1149.20" textLength="7.26" lengthAdjust="spacingAndGlyphs">r</text></g>
<g font-size="14.3" fill="#595959" font-weight="bold" stroke="#595959" stroke-width="0.45" transform="rotate(-45 306.27 1149.20)"><text x="141.03" y="1149.20" textLength="10.57" lengthAdjust="spacingAndGlyphs">C</text><text x="151.60" y="1149.20" textLength="10.03" lengthAdjust="spacingAndGlyphs">o</text><text x="161.63" y="1149.20" textLength="15.45" lengthAdjust="spacingAndGlyphs">m</text><text x="177.07" y="1149.20" textLength="10.21" lengthAdjust="spacingAndGlyphs">b</text><text x="187.28" y="1149.20" textLength="4.99" lengthAdjust="spacingAndGlyphs">i</text><text x="192.27" y="1149.20" textLength="10.40" lengthAdjust="spacingAndGlyphs">n</text><text x="202.67" y="1149.20" textLength="9.75" lengthAdjust="spacingAndGlyphs">a</text><text x="212.42" y="1149.20" textLength="6.66" lengthAdjust="spacingAndGlyphs">t</text><text x="219.08" y="1149.20" textLength="4.99" lengthAdjust="spacingAndGlyphs">i</text><text x="224.07" y="1149.20" textLength="10.03" lengthAdjust="spacingAndGlyphs">o</text><text x="234.10" y="1149.20" textLength="10.40" lengthAdjust="spacingAndGlyphs">n</text><text x="249.49" y="1149.20" textLength="10.57" lengthAdjust="spacingAndGlyphs">C</text><text x="260.06" y="1149.20" textLength="9.75" lengthAdjust="spacingAndGlyphs">a</text><text x="269.81" y="1149.20" textLength="7.26" lengthAdjust="spacingAndGlyphs">r</text><text x="277.07" y="1149.20" textLength="7.26" lengthAdjust="spacingAndGlyphs">r</text><text x="284.33" y="1149.20" textLength="4.99" lengthAdjust="spacingAndGlyphs">i</text><text x="289.32" y="1149.20" textLength="9.69" lengthAdjust="spacingAndGlyphs">e</text><text x="299.01" y="1149.20" textLength="7.26" lengthAdjust="spacingAndGlyphs">r</text></g>
<g font-size="14.3" fill="#595959" font-weight="bold" stroke="#595959" stroke-width="0.45" transform="rotate(-45 344.10 1149.20)"><text x="264.35" y="1149.20" textLength="10.57" lengthAdjust="spacingAndGlyphs">C</text><text x="274.92" y="1149.20" textLength="10.03" lengthAdjust="spacingAndGlyphs">o</text><text x="284.95" y="1149.20" textLength="10.40" lengthAdjust="spacingAndGlyphs">n</text><text x="295.35" y="1149.20" textLength="6.66" lengthAdjust="spacingAndGlyphs">t</text><text x="302.01" y="1149.20" textLength="9.75" lengthAdjust="spacingAndGlyphs">a</text><text x="311.76" y="1149.20" textLength="4.99" lengthAdjust="spacingAndGlyphs">i</text><text x="316.75" y="1149.20" textLength="10.40" lengthAdjust="spacingAndGlyphs">n</text><text x="327.15" y="1149.20" textLength="9.69" lengthAdjust="spacingAndGlyphs">e</text><text x="336.84" y="1149.20" textLength="7.26" lengthAdjust="spacingAndGlyphs">r</text></g>
<g font-size="14.3" fill="#595959" font-weight="bold" stroke="#595959" stroke-width="0.45" transform="rotate(-45 381.93 1149.20)"><text x="289.90" y="1149.20" textLength="11.84" lengthAdjust="spacingAndGlyphs">G</text><text x="301.74" y="1149.20" textLength="9.75" lengthAdjust="spacingAndGlyphs">a</text><text x="311.49" y="1149.20" textLength="8.66" lengthAdjust="spacingAndGlyphs">s</text><text x="325.15" y="1149.20" textLength="10.57" lengthAdjust="spacingAndGlyphs">C</text><text x="335.72" y="1149.20" textLength="9.75" lengthAdjust="spacingAndGlyphs">a</text><text x="345.47" y="1149.20" textLength="7.26" lengthAdjust="spacingAndGlyphs">r</text><text x="352.72" y="1149.20" textLength="7.26" lengthAdjust="spacingAndGlyphs">r</text><text x="359.98" y="1149.20" textLength="4.99" lengthAdjust="spacingAndGlyphs">i</text><text x="364.97" y="1149.20" textLength="9.69" lengthAdjust="spacingAndGlyphs">e</text><text x="374.67" y="1149.20" textLength="7.26" lengthAdjust="spacingAndGlyphs">r</text></g>
<g font-size="14.3" fill="#595959" font-weight="bold" stroke="#595959" stroke-width="0.45" transform="rotate(-45 419.75 1149.20)"><text x="185.93" y="1149.20" textLength="11.84" lengthAdjust="spacingAndGlyphs">G</text><text x="197.77" y="1149.20" textLength="9.69" lengthAdjust="spacingAndGlyphs">e</text><text x="207.47" y="1149.20" textLength="10.40" lengthAdjust="spacingAndGlyphs">n</text><text x="217.86" y="1149.20" textLength="9.69" lengthAdjust="spacingAndGlyphs">e</text><text x="227.56" y="1149.20" textLength="7.26" lengthAdjust="spacingAndGlyphs">r</text><text x="234.81" y="1149.20" textLength="9.75" lengthAdjust="spacingAndGlyphs">a</text><text x="244.57" y="1149.20" textLength="4.99" lengthAdjust="spacingAndGlyphs">l</text><text x="254.55" y="1149.20" textLength="10.57" lengthAdjust="spacingAndGlyphs">C</text><text x="265.12" y="1149.20" textLength="9.75" lengthAdjust="spacingAndGlyphs">a</text><text x="274.88" y="1149.20" textLength="7.26" lengthAdjust="spacingAndGlyphs">r</text><text x="282.13" y="1149.20" textLength="10.21" lengthAdjust="spacingAndGlyphs">g</text><text x="292.34" y="1149.20" textLength="10.03" lengthAdjust="spacingAndGlyphs">o</text><text x="305.11" y="1149.20" textLength="4.57" lengthAdjust="spacingAndGlyphs">/</text><text x="312.43" y="1149.20" textLength="13.84" lengthAdjust="spacingAndGlyphs">M</text><text x="326.27" y="1149.20" textLength="10.40" lengthAdjust="spacingAndGlyphs">u</text><text x="336.66" y="1149.20" textLength="4.99" lengthAdjust="spacingAndGlyphs">l</text><text x="341.66" y="1149.20" textLength="6.66" lengthAdjust="spacingAndGlyphs">t</text><text x="348.31" y="1149.20" textLength="4.99" lengthAdjust="spacingAndGlyphs">i</text><text x="353.31" y="1149.20" textLength="10.21" lengthAdjust="spacingAndGlyphs">p</text><text x="363.51" y="1149.20" textLength="10.40" lengthAdjust="spacingAndGlyphs">u</text><text x="373.91" y="1149.20" textLength="7.26" lengthAdjust="spacingAndGlyphs">r</text><text x="381.16" y="1149.20" textLength="10.21" lengthAdjust="spacingAndGlyphs">p</text><text x="391.37" y="1149.20" textLength="10.03" lengthAdjust="spacingAndGlyphs">o</text><text x="401.40" y="1149.20" textLength="8.66" lengthAdjust="spacingAndGlyphs">s</text><text x="410.06" y="1149.20" textLength="9.69" lengthAdjust="spacingAndGlyphs">e</text></g>
<g font-size="14.3" fill="#595959" font-weight="bold" stroke="#595959" stroke-width="0.45" transform="rotate(-45 457.58 1149.20)"><text x="362.64" y="1149.20" textLength="12.22" lengthAdjust="spacingAndGlyphs">H</text><text x="374.86" y="1149.20" textLength="9.69" lengthAdjust="spacingAndGlyphs">e</text><text x="384.55" y="1149.20" textLength="9.75" lengthAdjust="spacingAndGlyphs">a</text><text x="394.30" y="1149.20" textLength="9.49" lengthAdjust="spacingAndGlyphs">v</text><text x="403.79" y="1149.20" textLength="9.50" lengthAdjust="spacingAndGlyphs">y</text><text x="418.29" y="1149.20" textLength="9.30" lengthAdjust="spacingAndGlyphs">L</text><text x="427.59" y="1149.20" textLength="10.03" lengthAdjust="spacingAndGlyphs">o</text><text x="437.62" y="1149.20" textLength="9.75" lengthAdjust="spacingAndGlyphs">a</text><text x="447.38" y="1149.20" textLength="10.21" lengthAdjust="spacingAndGlyphs">d</text></g>
<g font-size="14.3" fill="#595959" font-weight="bold" stroke="#595959" stroke-width="0.45" transform="rotate(-45 495.41 1149.20)"><text x="401.53" y="1149.20" textLength="12.37" lengthAdjust="spacingAndGlyphs">N</text><text x="413.90" y="1149.20" textLength="9.30" lengthAdjust="spacingAndGlyphs">L</text><text x="423.20" y="1149.20" textLength="10.37" lengthAdjust="spacingAndGlyphs">S</text><text x="438.56" y="1149.20" textLength="9.96" lengthAdjust="spacingAndGlyphs">T</text><text x="448.51" y="1149.20" textLength="9.75" lengthAdjust="spacingAndGlyphs">a</text><text x="458.27" y="1149.20" textLength="10.40" lengthAdjust="spacingAndGlyphs">n</text><text x="468.66" y="1149.20" textLength="9.80" lengthAdjust="spacingAndGlyphs">k</text><text x="478.46" y="1149.20" textLength="9.69" lengthAdjust="spacingAndGlyphs">e</text><text x="488.15" y="1149.20" textLength="7.26" lengthAdjust="spacingAndGlyphs">r</text></g>
<g font-size="14.3" fill="#595959" font-weight="bold" stroke="#595959" stroke-width="0.45" transform="rotate(-45 533.24 1149.20)"><text x="401.81" y="1149.20" textLength="12.41" lengthAdjust="spacingAndGlyphs">O</text><text x="414.22" y="1149.20" textLength="6.16" lengthAdjust="spacingAndGlyphs">f</text><text x="420.38" y="1149.20" textLength="6.16" lengthAdjust="spacingAndGlyphs">f</text><text x="426.54" y="1149.20" textLength="8.66" lengthAdjust="spacingAndGlyphs">s</text><text x="435.20" y="1149.20" textLength="10.40" lengthAdjust="spacingAndGlyphs">h</text><text x="445.59" y="1149.20" textLength="10.03" lengthAdjust="spacingAndGlyphs">o</text><text x="455.62" y="1149.20" textLength="7.26" lengthAdjust="spacingAndGlyphs">r</text><text x="462.88" y="1149.20" textLength="9.69" lengthAdjust="spacingAndGlyphs">e</text><text x="477.57" y="1149.20" textLength="10.37" lengthAdjust="spacingAndGlyphs">S</text><text x="487.93" y="1149.20" textLength="10.40" lengthAdjust="spacingAndGlyphs">u</text><text x="498.33" y="1149.20" textLength="10.21" lengthAdjust="spacingAndGlyphs">p</text><text x="508.53" y="1149.20" textLength="10.21" lengthAdjust="spacingAndGlyphs">p</text><text x="518.74" y="1149.20" textLength="4.99" lengthAdjust="spacingAndGlyphs">l</text><text x="523.73" y="1149.20" textLength="9.50" lengthAdjust="spacingAndGlyphs">y</text></g>
<g font-size="14.3" fill="#595959" font-weight="bold" stroke="#595959" stroke-width="0.45" transform="rotate(-45 571.06 1149.20)"><text x="486.82" y="1149.20" textLength="12.41" lengthAdjust="spacingAndGlyphs">O</text><text x="499.23" y="1149.20" textLength="4.99" lengthAdjust="spacingAndGlyphs">i</text><text x="504.23" y="1149.20" textLength="4.99" lengthAdjust="spacingAndGlyphs">l</text><text x="514.21" y="1149.20" textLength="9.96" lengthAdjust="spacingAndGlyphs">T</text><text x="524.17" y="1149.20" textLength="9.75" lengthAdjust="spacingAndGlyphs">a</text><text x="533.92" y="1149.20" textLength="10.40" lengthAdjust="spacingAndGlyphs">n</text><text x="544.32" y="1149.20" textLength="9.80" lengthAdjust="spacingAndGlyphs">k</text><text x="554.11" y="1149.20" textLength="9.69" lengthAdjust="spacingAndGlyphs">e</text><text x="563.81" y="1149.20" textLength="7.26" lengthAdjust="spacingAndGlyphs">r</text></g>
<g font-size="14.3" fill="#595959" font-weight="bold" stroke="#595959" stroke-width="0.45" transform="rotate(-45 608.89 1149.20)"><text x="562.48" y="1149.20" textLength="12.41" lengthAdjust="spacingAndGlyphs">O</text><text x="574.89" y="1149.20" textLength="6.66" lengthAdjust="spacingAndGlyphs">t</text><text x="581.55" y="1149.20" textLength="10.40" lengthAdjust="spacingAndGlyphs">h</text><text x="591.94" y="1149.20" textLength="9.69" lengthAdjust="spacingAndGlyphs">e</text><text x="601.64" y="1149.20" textLength="7.26" lengthAdjust="spacingAndGlyphs">r</text></g>
<g font-size="14.3" fill="#595959" font-weight="bold" stroke="#595959" stroke-width="0.45" transform="rotate(-45 646.72 1149.20)"><text x="455.68" y="1149.20" textLength="12.41" lengthAdjust="spacingAndGlyphs">O</text><text x="468.09" y="1149.20" textLength="6.66" lengthAdjust="spacingAndGlyphs">t</text><text x="474.75" y="1149.20" textLength="10.40" lengthAdjust="spacingAndGlyphs">h</text><text x="485.14" y="1149.20" textLength="9.69" lengthAdjust="spacingAndGlyphs">e</text><text x="494.84" y="1149.20" textLength="7.26" lengthAdjust="spacingAndGlyphs">r</text><text x="507.09" y="1149.20" textLength="10.37" lengthAdjust="spacingAndGlyphs">S</text><text x="517.45" y="1149.20" textLength="10.21" lengthAdjust="spacingAndGlyphs">p</text><text x="527.66" y="1149.20" textLength="9.69" lengthAdjust="spacingAndGlyphs">e</text><text x="537.35" y="1149.20" textLength="8.58" lengthAdjust="spacingAndGlyphs">c</text><text x="545.94" y="1149.20" textLength="4.99" lengthAdjust="spacingAndGlyphs">i</text><text x="550.93" y="1149.20" textLength="9.75" lengthAdjust="spacingAndGlyphs">a</text><text x="560.68" y="1149.20" textLength="4.99" lengthAdjust="spacingAndGlyphs">l</text><text x="570.67" y="1149.20" textLength="11.33" lengthAdjust="spacingAndGlyphs">A</text><text x="582.00" y="1149.20" textLength="8.58" lengthAdjust="spacingAndGlyphs">c</text><text x="590.58" y="1149.20" textLength="6.66" lengthAdjust="spacingAndGlyphs">t</text><text x="597.24" y="1149.20" textLength="4.99" lengthAdjust="spacingAndGlyphs">i</text><text x="602.23" y="1149.20" textLength="9.49" lengthAdjust="spacingAndGlyphs">v</text><text x="611.72" y="1149.20" textLength="4.99" lengthAdjust="spacingAndGlyphs">i</text><text x="616.72" y="1149.20" textLength="6.66" lengthAdjust="spacingAndGlyphs">t</text><text x="623.37" y="1149.20" textLength="4.99" lengthAdjust="spacingAndGlyphs">i</text><text x="628.37" y="1149.20" textLength="9.69" lengthAdjust="spacingAndGlyphs">e</text><text x="638.06" y="1149.20" textLength="8.66" lengthAdjust="spacingAndGlyphs">s</text></g>
<g font-size="14.3" fill="#595959" font-weight="bold" stroke="#595959" stroke-width="0.45" transform="rotate(-45 684.55 1149.20)"><text x="558.58" y="1149.20" textLength="10.70" lengthAdjust="spacingAndGlyphs">P</text><text x="569.28" y="1149.20" textLength="9.75" lengthAdjust="spacingAndGlyphs">a</text><text x="579.03" y="1149.20" textLength="8.66" lengthAdjust="spacingAndGlyphs">s</text><text x="587.69" y="1149.20" textLength="8.66" lengthAdjust="spacingAndGlyphs">s</text><text x="596.35" y="1149.20" textLength="9.69" lengthAdjust="spacingAndGlyphs">e</text><text x="606.04" y="1149.20" textLength="10.40" lengthAdjust="spacingAndGlyphs">n</text><text x="616.44" y="1149.20" textLength="10.21" lengthAdjust="spacingAndGlyphs">g</text><text x="626.64" y="1149.20" textLength="9.69" lengthAdjust="spacingAndGlyphs">e</text><text x="636.34" y="1149.20" textLength="7.26" lengthAdjust="spacingAndGlyphs">r</text><text x="648.59" y="1149.20" textLength="10.37" lengthAdjust="spacingAndGlyphs">S</text><text x="658.95" y="1149.20" textLength="10.40" lengthAdjust="spacingAndGlyphs">h</text><text x="669.35" y="1149.20" textLength="4.99" lengthAdjust="spacingAndGlyphs">i</text><text x="674.34" y="1149.20" textLength="10.21" lengthAdjust="spacingAndGlyphs">p</text></g>
<g font-size="14.3" fill="#595959" font-weight="bold" stroke="#595959" stroke-width="0.45" transform="rotate(-45 722.37 1149.20)"><text x="566.58" y="1149.20" textLength="11.42" lengthAdjust="spacingAndGlyphs">R</text><text x="578.00" y="1149.20" textLength="9.69" lengthAdjust="spacingAndGlyphs">e</text><text x="587.69" y="1149.20" textLength="6.16" lengthAdjust="spacingAndGlyphs">f</text><text x="593.85" y="1149.20" textLength="7.26" lengthAdjust="spacingAndGlyphs">r</text><text x="601.11" y="1149.20" textLength="4.99" lengthAdjust="spacingAndGlyphs">i</text><text x="606.10" y="1149.20" textLength="10.21" lengthAdjust="spacingAndGlyphs">g</text><text x="616.31" y="1149.20" textLength="9.69" lengthAdjust="spacingAndGlyphs">e</text><text x="626.00" y="1149.20" textLength="7.26" lengthAdjust="spacingAndGlyphs">r</text><text x="633.26" y="1149.20" textLength="9.75" lengthAdjust="spacingAndGlyphs">a</text><text x="643.01" y="1149.20" textLength="6.66" lengthAdjust="spacingAndGlyphs">t</text><text x="649.67" y="1149.20" textLength="9.69" lengthAdjust="spacingAndGlyphs">e</text><text x="659.36" y="1149.20" textLength="10.21" lengthAdjust="spacingAndGlyphs">d</text><text x="674.56" y="1149.20" textLength="10.57" lengthAdjust="spacingAndGlyphs">C</text><text x="685.13" y="1149.20" textLength="9.75" lengthAdjust="spacingAndGlyphs">a</text><text x="694.88" y="1149.20" textLength="7.26" lengthAdjust="spacingAndGlyphs">r</text><text x="702.14" y="1149.20" textLength="10.21" lengthAdjust="spacingAndGlyphs">g</text><text x="712.34" y="1149.20" textLength="10.03" lengthAdjust="spacingAndGlyphs">o</text></g>
<g font-size="14.3" fill="#595959" font-weight="bold" stroke="#595959" stroke-width="0.45" transform="rotate(-45 760.20 1149.20)"><text x="657.49" y="1149.20" textLength="11.42" lengthAdjust="spacingAndGlyphs">R</text><text x="668.91" y="1149.20" textLength="10.03" lengthAdjust="spacingAndGlyphs">o</text><text x="679.71" y="1149.20" textLength="5.48" lengthAdjust="spacingAndGlyphs">-</text><text x="685.95" y="1149.20" textLength="11.42" lengthAdjust="spacingAndGlyphs">R</text><text x="697.36" y="1149.20" textLength="10.03" lengthAdjust="spacingAndGlyphs">o</text><text x="712.39" y="1149.20" textLength="10.57" lengthAdjust="spacingAndGlyphs">C</text><text x="722.96" y="1149.20" textLength="9.75" lengthAdjust="spacingAndGlyphs">a</text><text x="732.71" y="1149.20" textLength="7.26" lengthAdjust="spacingAndGlyphs">r</text><text x="739.97" y="1149.20" textLength="10.21" lengthAdjust="spacingAndGlyphs">g</text><text x="750.17" y="1149.20" textLength="10.03" lengthAdjust="spacingAndGlyphs">o</text></g>
<g font-size="14.3" fill="#595959" font-weight="bold" stroke="#595959" stroke-width="0.45" transform="rotate(-45 798.03 1149.20)"><text x="617.17" y="1149.20" textLength="11.42" lengthAdjust="spacingAndGlyphs">R</text><text x="628.58" y="1149.20" textLength="10.03" lengthAdjust="spacingAndGlyphs">o</text><text x="639.38" y="1149.20" textLength="5.48" lengthAdjust="spacingAndGlyphs">-</text><text x="645.62" y="1149.20" textLength="11.42" lengthAdjust="spacingAndGlyphs">R</text><text x="657.04" y="1149.20" textLength="10.03" lengthAdjust="spacingAndGlyphs">o</text><text x="672.06" y="1149.20" textLength="10.70" lengthAdjust="spacingAndGlyphs">P</text><text x="682.76" y="1149.20" textLength="9.75" lengthAdjust="spacingAndGlyphs">a</text><text x="692.52" y="1149.20" textLength="8.66" lengthAdjust="spacingAndGlyphs">s</text><text x="701.17" y="1149.20" textLength="8.66" lengthAdjust="spacingAndGlyphs">s</text><text x="709.83" y="1149.20" textLength="9.69" lengthAdjust="spacingAndGlyphs">e</text><text x="719.53" y="1149.20" textLength="10.40" lengthAdjust="spacingAndGlyphs">n</text><text x="729.92" y="1149.20" textLength="10.21" lengthAdjust="spacingAndGlyphs">g</text><text x="740.13" y="1149.20" textLength="9.69" lengthAdjust="spacingAndGlyphs">e</text><text x="749.82" y="1149.20" textLength="7.26" lengthAdjust="spacingAndGlyphs">r</text><text x="762.07" y="1149.20" textLength="10.37" lengthAdjust="spacingAndGlyphs">S</text><text x="772.44" y="1149.20" textLength="10.40" lengthAdjust="spacingAndGlyphs">h</text><text x="782.83" y="1149.20" textLength="4.99" lengthAdjust="spacingAndGlyphs">i</text><text x="787.83" y="1149.20" textLength="10.21" lengthAdjust="spacingAndGlyphs">p</text></g>
<g font-size="14.3" fill="#595959" font-weight="bold" stroke="#595959" stroke-width="0.45" transform="rotate(-45 835.86 1149.20)"><text x="664.38" y="1149.20" textLength="10.37" lengthAdjust="spacingAndGlyphs">S</text><text x="674.75" y="1149.20" textLength="10.21" lengthAdjust="spacingAndGlyphs">p</text><text x="684.95" y="1149.20" textLength="9.69" lengthAdjust="spacingAndGlyphs">e</text><text x="694.65" y="1149.20" textLength="8.58" lengthAdjust="spacingAndGlyphs">c</text><text x="703.23" y="1149.20" textLength="4.99" lengthAdjust="spacingAndGlyphs">i</text><text x="708.23" y="1149.20" textLength="9.75" lengthAdjust="spacingAndGlyphs">a</text><text x="717.98" y="1149.20" textLength="4.99" lengthAdjust="spacingAndGlyphs">l</text><text x="727.96" y="1149.20" textLength="10.70" lengthAdjust="spacingAndGlyphs">P</text><text x="738.67" y="1149.20" textLength="10.40" lengthAdjust="spacingAndGlyphs">u</text><text x="749.06" y="1149.20" textLength="7.26" lengthAdjust="spacingAndGlyphs">r</text><text x="756.32" y="1149.20" textLength="10.21" lengthAdjust="spacingAndGlyphs">p</text><text x="766.52" y="1149.20" textLength="10.03" lengthAdjust="spacingAndGlyphs">o</text><text x="776.55" y="1149.20" textLength="8.66" lengthAdjust="spacingAndGlyphs">s</text><text x="785.21" y="1149.20" textLength="9.69" lengthAdjust="spacingAndGlyphs">e</text><text x="799.90" y="1149.20" textLength="10.37" lengthAdjust="spacingAndGlyphs">S</text><text x="810.26" y="1149.20" textLength="10.40" lengthAdjust="spacingAndGlyphs">h</text><text x="820.66" y="1149.20" textLength="4.99" lengthAdjust="spacingAndGlyphs">i</text><text x="825.65" y="1149.20" textLength="10.21" lengthAdjust="spacingAndGlyphs">p</text></g>
<g font-size="14.3" fill="#595959" font-weight="bold" stroke="#595959" stroke-width="0.45" transform="rotate(-45 873.69 1149.20)"><text x="843.13" y="1149.20" textLength="9.96" lengthAdjust="spacingAndGlyphs">T</text><text x="853.09" y="1149.20" textLength="10.40" lengthAdjust="spacingAndGlyphs">u</text><text x="863.48" y="1149.20" textLength="10.21" lengthAdjust="spacingAndGlyphs">g</text></g>
<rect x="342.20" y="1337.40" width="34.50" height="8.00" fill="#4472c4"/>
<g font-size="14.4" fill="#595959" font-weight="bold" stroke="#595959" stroke-width="0.45"><text x="381.88" y="1346.60" style="font-family:&quot;Liberation Serif&quot;,serif" textLength="6.22" lengthAdjust="spacingAndGlyphs">I</text><text x="388.97" y="1346.60" textLength="10.40" lengthAdjust="spacingAndGlyphs">n</text><text x="399.37" y="1346.60" textLength="8.66" lengthAdjust="spacingAndGlyphs">s</text><text x="408.02" y="1346.60" textLength="10.21" lengthAdjust="spacingAndGlyphs">p</text><text x="418.23" y="1346.60" textLength="9.69" lengthAdjust="spacingAndGlyphs">e</text><text x="427.92" y="1346.60" textLength="8.58" lengthAdjust="spacingAndGlyphs">c</text><text x="436.51" y="1346.60" textLength="6.66" lengthAdjust="spacingAndGlyphs">t</text><text x="443.17" y="1346.60" textLength="9.69" lengthAdjust="spacingAndGlyphs">e</text><text x="452.86" y="1346.60" textLength="10.21" lengthAdjust="spacingAndGlyphs">d</text></g>
<rect x="485.70" y="1337.40" width="35.00" height="8.00" fill="#ed7d31"/>
<g font-size="14.4" fill="#595959" font-weight="bold" stroke="#595959" stroke-width="0.45"><text x="524.80" y="1346.60" textLength="9.96" lengthAdjust="spacingAndGlyphs">T</text><text x="534.76" y="1346.60" textLength="10.03" lengthAdjust="spacingAndGlyphs">o</text><text x="544.79" y="1346.60" textLength="6.66" lengthAdjust="spacingAndGlyphs">t</text><text x="551.45" y="1346.60" textLength="9.75" lengthAdjust="spacingAndGlyphs">a</text><text x="561.20" y="1346.60" textLength="4.99" lengthAdjust="spacingAndGlyphs">l</text></g>
<line x1="588.80" y1="1341.50" x2="624.00" y2="1341.50" stroke="#a5a5a5" stroke-width="3.8"/>
<line x1="588.8" y1="1341.5" x2="624" y2="1341.5" stroke="#a5a5a5" stroke-width="3.8" stroke-linecap="round"/>
<g font-size="14.4" fill="#595959" font-weight="bold" stroke="#595959" stroke-width="0.45"><text x="628.28" y="1346.60" style="font-family:&quot;Liberation Serif&quot;,serif" textLength="6.22" lengthAdjust="spacingAndGlyphs">I</text><text x="635.37" y="1346.60" textLength="10.40" lengthAdjust="spacingAndGlyphs">n</text><text x="645.77" y="1346.60" textLength="10.21" lengthAdjust="spacingAndGlyphs">p</text><text x="655.97" y="1346.60" textLength="9.69" lengthAdjust="spacingAndGlyphs">e</text><text x="665.67" y="1346.60" textLength="8.58" lengthAdjust="spacingAndGlyphs">c</text><text x="674.25" y="1346.60" textLength="6.66" lengthAdjust="spacingAndGlyphs">t</text><text x="680.91" y="1346.60" textLength="4.99" lengthAdjust="spacingAndGlyphs">i</text><text x="685.90" y="1346.60" textLength="10.03" lengthAdjust="spacingAndGlyphs">o</text><text x="695.93" y="1346.60" textLength="10.40" lengthAdjust="spacingAndGlyphs">n</text><text x="711.32" y="1346.60" textLength="7.26" lengthAdjust="spacingAndGlyphs">r</text><text x="718.58" y="1346.60" textLength="9.75" lengthAdjust="spacingAndGlyphs">a</text><text x="728.33" y="1346.60" textLength="6.66" lengthAdjust="spacingAndGlyphs">t</text><text x="734.99" y="1346.60" textLength="9.69" lengthAdjust="spacingAndGlyphs">e</text></g>
<defs>
<clipPath id="wmtop"><rect x="0" y="1380" width="1080" height="67.60"/></clipPath>
</defs>
<path d="M157.10,1447.60 L123.15,1440.62 L153.28,1423.50 L118.84,1427.35 L142.20,1401.75 L110.64,1416.06 L124.95,1384.50 L99.35,1407.86 L103.20,1373.42 L86.08,1403.55 L79.10,1369.60 L72.12,1403.55 L55.00,1373.42 L58.85,1407.86 L33.25,1384.50 L47.56,1416.06 L16.00,1401.75 L39.36,1427.35 L4.92,1423.50 L35.05,1440.62 L1.10,1447.60 L35.05,1454.58 L4.92,1471.70 L39.36,1467.85 L16.00,1493.45 L47.56,1479.14 L33.25,1510.70 L58.85,1487.34 L55.00,1521.78 L72.12,1491.65 L79.10,1525.60 L86.08,1491.65 L103.20,1521.78 L99.35,1487.34 L124.95,1510.70 L110.64,1479.14 L142.20,1493.45 L118.84,1467.85 L153.28,1471.70 L123.15,1454.58 Z" fill="#65a9cc"/>
<path d="M36.70,1447.60 A42.4,42.4 0 0 1 121.50,1447.60 Z" fill="#fff"/>
<path d="M201.13,1404.80 L201.24,1405.12 L201.13,1406.30 L201.13,1411.17 L201.25,1412.50 L200.91,1412.79 L199.82,1412.87 L198.08,1413.49 L196.65,1414.21 L196.00,1414.67 L194.22,1416.49 L193.33,1418.00 L193.04,1418.85 L192.69,1420.74 L192.64,1421.71 L192.77,1423.62 L193.23,1425.56 L194.00,1427.33 L195.28,1428.89 L197.70,1430.96 L198.67,1431.34 L217.11,1440.54 L223.53,1444.84 L228.00,1449.33 L231.22,1454.42 L231.48,1455.13 L233.01,1461.60 L232.67,1468.00 L230.77,1474.43 L226.49,1480.85 L221.33,1485.33 L214.90,1488.57 L208.00,1490.33 L203.16,1490.59 L202.07,1490.75 L201.67,1490.67 L201.56,1490.43 L201.67,1489.17 L201.67,1482.50 L201.37,1481.21 L202.32,1480.75 L205.41,1480.04 L206.33,1479.67 L207.87,1478.67 L208.57,1478.07 L209.67,1476.67 L210.38,1474.92 L210.70,1472.96 L210.67,1472.00 L210.44,1471.01 L209.55,1468.93 L208.40,1466.92 L207.53,1466.36 L203.81,1463.21 L195.80,1459.24 L187.52,1455.44 L180.67,1450.67 L176.67,1446.00 L173.76,1440.25 L172.52,1433.07 L172.53,1426.67 L173.92,1420.25 L177.07,1414.40 L177.51,1413.80 L182.00,1409.67 L188.00,1406.67 L194.67,1405.20 L199.64,1404.89 L200.74,1404.72 Z  M204.67,1405.00 L205.04,1404.97 L206.14,1405.29 L211.33,1406.33 L218.00,1409.00 L219.91,1409.89 L220.64,1410.07 L221.33,1410.00 L222.02,1409.58 L224.67,1406.67 L226.29,1405.44 L226.67,1405.33 L227.50,1405.36 L228.31,1405.71 L228.67,1406.00 L229.59,1407.59 L230.11,1409.18 L230.34,1416.88 L230.36,1426.05 L230.27,1429.87 L230.00,1432.00 L229.38,1433.37 L228.51,1434.33 L227.40,1434.93 L225.97,1435.17 L225.27,1435.14 L224.17,1434.74 L223.35,1433.90 L222.37,1431.89 L221.63,1429.01 L220.65,1425.88 L219.33,1422.67 L217.49,1419.76 L215.15,1417.17 L212.29,1414.92 L210.36,1413.85 L206.67,1412.67 L204.90,1412.45 L204.67,1412.33 L204.52,1411.95 L204.67,1410.83 L204.67,1406.50 L204.56,1405.33 Z  M172.67,1459.33 L173.27,1458.46 L174.15,1457.59 L174.67,1457.33 L175.26,1457.22 L176.67,1457.28 L178.00,1457.67 L178.54,1457.98 L179.50,1458.85 L180.73,1460.74 L184.38,1469.55 L186.49,1472.71 L188.00,1474.67 L190.32,1477.03 L192.00,1478.33 L193.93,1479.32 L196.67,1480.33 L198.72,1480.83 L199.15,1481.18 L199.00,1482.50 L199.00,1488.17 L199.28,1489.55 L198.36,1489.72 L194.23,1489.28 L188.26,1488.06 L182.77,1486.43 L181.70,1485.92 L180.79,1486.26 L178.00,1488.00 L175.90,1488.89 L175.25,1489.03 L174.67,1489.00 L174.15,1488.73 L173.68,1488.27 L172.53,1486.35 L172.55,1485.17 L172.12,1479.82 L172.13,1466.84 L172.56,1460.83 L172.50,1459.83 Z  M235.96,1406.32 L269.05,1406.32 L269.01,1488.74 L236.64,1488.70 L235.92,1487.82 L235.21,1486.62 L235.00,1486.00 L234.88,1484.65 L235.09,1483.26 L235.33,1482.67 L236.22,1481.74 L237.41,1481.00 L238.62,1480.38 L240.57,1479.67 L241.00,1479.33 L241.24,1478.87 L241.34,1478.33 L241.34,1417.28 L241.16,1415.93 L240.67,1415.00 L240.15,1414.64 L237.33,1413.33 L235.70,1411.81 L235.00,1410.67 L234.87,1409.41 L235.08,1408.17 L235.44,1406.95 Z  M272.30,1406.31 L298.03,1406.31 L298.03,1430.67 L297.74,1431.00 L296.94,1431.70 L296.00,1432.13 L294.95,1432.15 L294.38,1432.04 L293.33,1431.47 L292.42,1430.18 L291.14,1427.62 L288.67,1422.00 L285.03,1417.70 L284.45,1417.19 L278.67,1414.33 L273.83,1413.82 L272.73,1413.82 L272.33,1413.67 L272.23,1413.30 L272.33,1412.17 Z  M272.67,1442.67 L274.71,1441.68 L275.97,1440.92 L277.35,1439.94 L278.67,1438.67 L280.39,1435.84 L281.66,1433.26 L282.34,1431.42 L282.67,1431.00 L283.67,1430.45 L284.82,1430.28 L286.26,1430.66 L287.05,1431.39 L287.33,1432.00 L287.51,1432.89 L287.64,1435.30 L287.69,1459.97 L286.99,1462.53 L286.67,1463.00 L286.24,1463.32 L285.15,1463.68 L284.00,1463.67 L282.90,1463.31 L281.82,1462.56 L280.89,1461.25 L278.57,1455.59 L277.33,1453.33 L276.83,1452.78 L275.72,1451.94 L274.19,1451.13 L272.93,1450.83 L272.54,1450.48 L272.67,1449.17 L272.67,1444.17 L272.47,1443.09 Z  M272.30,1488.69 L272.33,1481.83 L272.23,1480.66 L272.33,1480.33 L272.73,1480.16 L273.81,1480.10 L278.67,1479.33 L284.46,1476.16 L284.85,1475.82 L288.39,1471.14 L290.77,1466.32 L291.86,1464.54 L292.91,1463.21 L294.00,1462.33 L295.24,1461.99 L296.48,1462.11 L297.00,1462.33 L297.45,1462.71 L298.18,1463.89 L298.69,1465.02 L298.70,1488.69 Z  M299.34,1489.07 L299.23,1488.72 L299.33,1487.50 L299.27,1480.20 L299.61,1479.61 L303.92,1475.42 L306.40,1469.22 L320.60,1420.76 L323.10,1427.46 L313.90,1469.40 L314.23,1477.13 L314.33,1477.50 L314.67,1477.85 L318.13,1480.35 L318.86,1480.74 L319.33,1481.25 L320.26,1482.56 L321.20,1484.23 L321.42,1485.00 L321.30,1486.49 L320.66,1487.84 L320.17,1488.33 L319.48,1488.65 L318.58,1488.82 L315.81,1489.03 Z  M318.97,1469.05 L318.30,1468.43 L318.07,1467.71 L319.78,1461.45 L319.98,1460.30 L320.27,1459.91 L332.69,1460.06 L322.48,1413.31 L322.83,1409.17 L323.19,1407.77 L323.66,1406.63 L323.90,1406.21 L349.34,1406.22 L349.90,1406.96 L350.57,1408.27 L366.83,1478.81 L369.53,1480.68 L370.17,1481.25 L371.72,1483.21 L372.25,1484.58 L372.25,1485.29 L371.84,1486.75 L371.00,1487.92 L370.37,1488.29 L369.57,1488.56 L367.25,1489.01 L336.00,1489.02 L333.18,1487.56 L332.67,1487.08 L332.34,1486.58 L332.04,1485.44 L332.25,1484.17 L332.64,1483.44 L333.92,1481.84 L336.79,1478.68 L337.09,1478.08 L336.69,1476.87 L335.31,1470.47 L335.16,1469.24 L334.97,1468.93 Z  M367.01,1406.31 L367.02,1406.02 L367.03,1406.28 Z M367.01,1406.33 L384.00,1406.27 L384.10,1406.49 L384.00,1412.50 L384.21,1413.68 L383.55,1414.43 L381.39,1415.99 L380.67,1416.67 L379.19,1418.54 L377.33,1421.33 L376.99,1422.03 L376.90,1422.77 L375.33,1428.00 L374.39,1432.37 L374.00,1433.33 L373.50,1434.09 L372.23,1435.30 L371.00,1436.00 L370.47,1436.11 L369.47,1435.90 L368.67,1435.33 L368.13,1434.35 L367.59,1432.32 L367.33,1426.65 Z  M383.32,1488.68 L381.44,1488.07 L380.81,1487.75 L380.33,1487.33 L379.79,1486.11 L379.61,1484.66 L379.67,1484.00 L380.09,1482.82 L380.43,1482.27 L381.33,1481.33 L382.58,1480.70 L385.91,1479.47 L387.35,1478.73 L387.30,1406.31 L414.67,1406.26 L414.65,1478.73 L418.00,1480.00 L420.61,1481.49 L422.00,1482.67 L422.39,1483.31 L422.75,1484.71 L422.67,1486.00 L422.47,1486.56 L421.74,1487.59 L421.24,1488.01 L420.67,1488.33 L419.09,1488.63 Z  M418.67,1406.33 L435.69,1406.30 L435.70,1432.66 L435.06,1433.89 L434.16,1435.21 L433.67,1435.67 L433.12,1435.95 L431.87,1436.21 L430.67,1436.00 L429.59,1435.09 L428.66,1433.84 L428.09,1432.77 L428.04,1431.86 L427.00,1426.67 L425.16,1421.42 L424.91,1420.41 L422.99,1417.58 L421.67,1416.00 L421.02,1415.46 L419.07,1414.34 L418.47,1413.72 L418.67,1412.50 L418.67,1407.83 L418.56,1406.67 Z  M435.70,1406.21 L469.55,1406.23 L469.47,1479.23 L473.58,1480.42 L474.50,1480.83 L475.21,1481.33 L476.36,1482.49 L477.00,1483.75 L477.07,1485.15 L476.60,1486.53 L476.17,1487.08 L475.50,1487.51 L474.61,1487.86 L472.00,1488.52 L438.66,1488.52 L436.53,1487.60 L435.83,1487.16 L435.33,1486.67 L434.90,1485.40 L434.97,1483.97 L435.17,1483.33 L435.96,1482.23 L437.83,1480.83 L442.03,1479.23 L442.43,1417.45 L441.94,1415.76 L441.17,1414.58 L440.47,1414.12 L437.69,1412.93 L437.00,1412.50 L436.23,1411.59 L435.87,1410.59 L435.65,1409.27 L435.58,1407.54 Z  M472.42,1406.25 L472.58,1406.14 L473.92,1406.25 L483.48,1406.23 L492.00,1407.92 L498.67,1411.67 L503.41,1417.14 L503.78,1417.71 L506.58,1425.00 L506.62,1431.41 L506.45,1432.16 L504.50,1437.50 L500.52,1442.32 L499.98,1442.76 L493.85,1446.44 L493.67,1446.67 L493.91,1446.92 L499.09,1449.65 L502.13,1452.53 L503.99,1454.60 L504.17,1455.58 L505.80,1460.23 L506.56,1468.10 L507.22,1473.10 L507.21,1474.54 L507.42,1474.58 L507.82,1474.35 L509.68,1472.79 L510.33,1472.50 L511.72,1472.50 L513.10,1472.96 L513.67,1473.33 L514.57,1474.49 L515.19,1475.96 L515.35,1477.32 L515.07,1478.61 L514.12,1480.79 L512.58,1483.37 L510.81,1485.62 L509.45,1486.93 L508.67,1487.50 L506.62,1488.52 L503.19,1489.73 L502.17,1489.67 L496.42,1490.01 L488.89,1488.42 L488.27,1488.10 L482.83,1484.17 L480.00,1478.58 L479.83,1477.89 L479.07,1470.66 L478.76,1458.68 L478.21,1456.30 L477.90,1455.59 L477.42,1455.00 L476.65,1454.60 L473.54,1453.80 L472.83,1453.33 L472.40,1452.63 L472.13,1451.77 L472.02,1450.83 L472.11,1449.93 L472.42,1449.17 L473.05,1448.57 L476.14,1447.19 L477.00,1446.67 L478.25,1445.51 L478.75,1444.89 L479.50,1443.33 L479.84,1440.97 L479.94,1437.21 L479.98,1421.92 L479.38,1418.65 L478.67,1416.67 L478.13,1415.99 L477.46,1415.45 L472.81,1412.81 L472.23,1412.22 L472.42,1411.00 L472.42,1407.75 L472.31,1406.66 Z  M513.54,1489.07 L513.43,1488.72 L513.53,1487.50 L513.47,1480.20 L513.81,1479.61 L518.12,1475.42 L520.60,1469.22 L534.80,1420.76 L537.30,1427.46 L528.10,1469.40 L528.43,1477.13 L528.53,1477.50 L528.87,1477.85 L532.33,1480.35 L533.06,1480.74 L533.53,1481.25 L534.46,1482.56 L535.40,1484.23 L535.62,1485.00 L535.50,1486.49 L534.86,1487.84 L534.37,1488.33 L533.68,1488.65 L532.78,1488.82 L530.01,1489.03 Z  M533.17,1469.05 L532.50,1468.43 L532.27,1467.71 L533.98,1461.45 L534.18,1460.30 L534.47,1459.91 L546.89,1460.06 L536.68,1413.31 L537.03,1409.17 L537.39,1407.77 L537.86,1406.63 L538.10,1406.21 L563.54,1406.22 L564.10,1406.96 L564.77,1408.27 L581.03,1478.81 L583.73,1480.68 L584.37,1481.25 L585.92,1483.21 L586.45,1484.58 L586.45,1485.29 L586.04,1486.75 L585.20,1487.92 L584.57,1488.29 L583.77,1488.56 L581.45,1489.01 L550.20,1489.02 L547.38,1487.56 L546.87,1487.08 L546.54,1486.58 L546.24,1485.44 L546.45,1484.17 L546.84,1483.44 L548.12,1481.84 L550.99,1478.68 L551.29,1478.08 L550.89,1476.87 L549.51,1470.47 L549.36,1469.24 L549.17,1468.93 Z  M610.16,1471.69 L610.71,1475.72 L611.37,1477.47 L612.30,1478.90 L613.50,1480.00 L614.29,1480.38 L617.07,1481.02 L617.93,1481.46 L617.67,1482.75 L617.67,1488.92 L617.77,1490.16 L617.58,1490.50 L616.18,1490.26 L606.24,1489.23 L605.69,1489.06 L596.83,1485.00 L589.33,1478.33 L584.26,1468.99 L581.46,1458.60 L581.18,1445.62 L582.72,1433.14 L586.74,1423.51 L592.52,1415.15 L600.72,1409.33 L601.35,1409.00 L609.33,1405.83 L617.53,1404.92 L617.76,1405.13 L617.77,1405.30 L617.67,1406.50 L617.67,1411.83 L617.93,1413.14 L617.07,1413.52 L614.29,1413.90 L613.50,1414.17 L612.30,1414.97 L611.37,1416.03 L610.71,1417.44 L610.16,1420.80 Z  M621.00,1405.00 L621.38,1404.96 L622.47,1405.28 L627.88,1406.32 L634.63,1409.38 L635.67,1410.13 L636.54,1409.63 L639.33,1407.08 L640.67,1406.05 L642.00,1405.22 L642.67,1405.00 L643.37,1404.94 L644.82,1405.18 L646.00,1405.83 L646.40,1406.37 L646.71,1407.07 L647.27,1409.18 L647.28,1434.98 L646.19,1437.38 L645.70,1438.18 L645.17,1438.75 L644.57,1439.09 L643.88,1439.30 L642.47,1439.32 L641.27,1438.89 L640.23,1437.99 L639.33,1436.67 L638.93,1435.77 L637.50,1431.21 L634.45,1424.38 L630.23,1418.70 L629.82,1417.99 L626.99,1415.48 L625.17,1414.17 L624.27,1413.72 L621.57,1412.80 L620.73,1412.24 L621.00,1411.00 L621.00,1406.50 L620.89,1405.33 Z  M621.00,1481.25 L621.38,1481.07 L622.47,1480.97 L627.67,1480.00 L633.50,1476.67 L636.71,1472.82 L637.45,1472.12 L639.33,1466.67 L640.73,1464.35 L641.83,1463.33 L643.17,1462.93 L644.57,1463.07 L645.17,1463.33 L645.70,1463.82 L646.19,1464.51 L647.37,1467.05 L647.16,1468.16 L646.91,1472.85 L646.76,1473.55 L642.67,1480.83 L636.83,1486.67 L629.33,1490.00 L621.14,1490.92 L620.89,1490.60 L621.00,1489.33 L621.00,1482.75 L620.89,1481.52 Z  M651.47,1406.22 L686.52,1406.23 L688.39,1407.31 L689.42,1408.33 L689.65,1408.94 L689.77,1410.36 L689.42,1411.67 L689.03,1412.18 L687.84,1413.04 L686.50,1413.75 L683.65,1414.68 L683.17,1415.00 L682.89,1415.44 L682.75,1416.51 L683.14,1479.23 L686.57,1480.39 L687.33,1480.83 L687.94,1481.39 L688.92,1482.75 L689.42,1484.17 L689.26,1485.61 L688.60,1486.98 L688.17,1487.50 L687.60,1487.87 L686.90,1488.12 L684.84,1488.51 L653.16,1488.52 L651.04,1487.60 L650.34,1487.16 L649.83,1486.67 L649.52,1486.08 L649.26,1484.68 L649.42,1483.33 L649.64,1482.77 L650.40,1481.73 L651.50,1480.83 L652.27,1480.44 L655.69,1479.23 L656.51,1416.61 L656.22,1415.64 L655.67,1415.00 L652.33,1413.75 L650.63,1412.60 L649.83,1411.67 L649.50,1410.54 L649.48,1409.93 L649.67,1408.75 L650.27,1407.60 Z  M685.65,1450.84 L685.84,1448.51 L686.21,1446.70 L686.94,1445.85 L701.44,1425.12 L703.16,1422.06 L704.00,1420.00 L704.09,1419.22 L703.84,1417.89 L703.17,1416.67 L702.65,1416.04 L699.83,1413.75 L698.14,1412.81 L697.33,1412.08 L696.90,1410.83 L696.81,1409.39 L696.92,1408.75 L697.60,1407.57 L699.00,1406.21 L724.83,1406.21 L725.32,1406.64 L726.53,1407.83 L727.03,1408.51 L727.33,1409.17 L727.36,1410.53 L727.17,1411.24 L726.50,1412.50 L725.25,1413.50 L722.79,1414.78 L717.33,1416.67 L712.52,1420.65 L707.53,1427.17 L706.21,1429.54 L705.61,1431.15 L706.29,1432.20 L709.82,1439.96 L725.65,1478.35 L729.16,1481.62 L729.83,1482.50 L730.28,1483.37 L730.79,1485.17 L730.82,1485.98 L730.67,1486.67 L730.24,1487.21 L729.55,1487.66 L727.34,1488.52 L693.15,1488.52 L691.50,1487.60 L691.00,1487.16 L690.67,1486.67 L690.51,1486.10 L690.54,1484.77 L690.74,1484.05 L691.08,1483.33 L691.69,1482.57 L694.89,1479.57 Z  M732.37,1406.32 L766.47,1406.32 L766.43,1488.74 L733.07,1488.70 L732.33,1487.82 L731.60,1486.62 L731.38,1486.00 L731.26,1484.65 L731.47,1483.26 L731.73,1482.67 L732.63,1481.74 L733.86,1481.00 L735.11,1480.38 L737.12,1479.67 L737.57,1479.33 L737.82,1478.87 L737.91,1478.33 L737.91,1417.28 L737.73,1415.93 L737.22,1415.00 L736.69,1414.64 L734.45,1413.72 L733.79,1413.33 L732.11,1411.81 L731.38,1410.67 L731.25,1409.41 L731.47,1408.17 L731.84,1406.95 Z  M769.83,1406.31 L796.35,1406.31 L796.35,1430.67 L796.05,1431.00 L795.23,1431.70 L794.25,1432.13 L793.17,1432.15 L792.59,1432.04 L791.51,1431.47 L790.56,1430.18 L789.24,1427.62 L786.70,1422.00 L782.94,1417.69 L782.36,1417.19 L776.39,1414.33 L771.35,1413.82 L770.25,1413.81 L769.86,1413.67 L769.75,1413.30 L769.86,1412.17 Z  M770.20,1442.67 L772.32,1441.68 L773.61,1440.92 L775.03,1439.94 L776.39,1438.67 L778.17,1435.84 L779.48,1433.26 L780.17,1431.42 L780.51,1431.00 L781.54,1430.45 L782.73,1430.28 L784.22,1430.66 L785.03,1431.39 L785.32,1432.00 L785.51,1432.89 L785.63,1435.30 L785.68,1459.97 L784.97,1462.53 L784.63,1463.00 L784.19,1463.32 L783.07,1463.68 L781.89,1463.67 L780.75,1463.31 L779.64,1462.56 L778.68,1461.25 L776.28,1455.59 L775.01,1453.33 L774.50,1452.78 L773.35,1451.94 L771.78,1451.13 L770.47,1450.83 L770.07,1450.48 L770.20,1449.17 L770.20,1444.17 L770.01,1443.09 Z  M769.83,1488.69 L769.86,1481.83 L769.75,1480.66 L769.86,1480.33 L770.25,1480.17 L771.34,1480.11 L776.39,1479.33 L782.37,1476.15 L782.90,1475.64 L786.42,1471.14 L788.87,1466.32 L789.99,1464.54 L791.07,1463.21 L792.19,1462.33 L793.47,1461.99 L794.75,1462.11 L795.28,1462.33 L795.74,1462.71 L796.50,1463.89 L797.03,1465.02 L797.04,1488.69 Z  M796.95,1406.21 L831.47,1406.23 L831.40,1479.23 L835.59,1480.42 L836.52,1480.83 L837.25,1481.33 L838.42,1482.49 L839.08,1483.75 L839.14,1485.15 L838.67,1486.53 L838.23,1487.08 L837.55,1487.51 L836.64,1487.86 L833.97,1488.52 L799.97,1488.52 L797.79,1487.60 L797.08,1487.16 L796.58,1486.67 L796.14,1485.40 L796.20,1483.97 L796.40,1483.33 L797.21,1482.23 L799.12,1480.83 L803.40,1479.23 L803.81,1417.45 L803.31,1415.76 L802.53,1414.58 L801.82,1414.12 L798.98,1412.93 L798.27,1412.50 L797.49,1411.59 L797.13,1410.59 L796.89,1409.27 L796.83,1407.54 Z  M834.40,1406.25 L834.56,1406.14 L835.90,1406.25 L845.69,1406.23 L854.38,1407.92 L861.17,1411.67 L866.01,1417.15 L866.39,1417.71 L869.25,1425.00 L869.28,1431.41 L869.11,1432.16 L867.12,1437.50 L863.07,1442.32 L862.53,1442.75 L856.26,1446.44 L856.08,1446.67 L856.31,1446.91 L861.61,1449.65 L864.70,1452.53 L866.61,1454.60 L866.79,1455.58 L868.45,1460.23 L869.22,1468.10 L869.90,1473.10 L869.89,1474.54 L870.10,1474.58 L870.51,1474.35 L872.41,1472.79 L873.08,1472.50 L874.49,1472.50 L875.90,1472.96 L876.47,1473.33 L877.40,1474.49 L878.03,1475.96 L878.20,1477.32 L877.91,1478.61 L876.94,1480.79 L875.37,1483.37 L873.56,1485.62 L872.18,1486.93 L871.38,1487.50 L869.28,1488.52 L865.80,1489.73 L864.78,1489.66 L858.87,1490.01 L851.20,1488.42 L850.58,1488.10 L845.02,1484.17 L842.14,1478.58 L841.96,1477.89 L841.19,1470.66 L840.87,1458.68 L840.31,1456.30 L839.99,1455.59 L839.50,1455.00 L838.71,1454.60 L835.54,1453.80 L834.83,1453.33 L834.39,1452.63 L834.10,1451.77 L834.00,1450.83 L834.09,1449.93 L834.40,1449.17 L835.04,1448.57 L838.19,1447.19 L839.08,1446.67 L840.35,1445.51 L840.86,1444.89 L841.62,1443.33 L841.97,1440.97 L842.07,1437.21 L842.11,1421.92 L841.50,1418.65 L840.78,1416.67 L840.22,1415.99 L839.55,1415.45 L834.80,1412.81 L834.21,1412.22 L834.40,1411.00 L834.40,1407.75 L834.29,1406.66 Z  M908.85,1406.21 L942.70,1406.23 L942.62,1479.23 L946.73,1480.42 L947.65,1480.83 L948.36,1481.33 L949.51,1482.49 L950.15,1483.75 L950.22,1485.15 L949.75,1486.53 L949.32,1487.08 L948.65,1487.51 L947.76,1487.86 L945.15,1488.52 L911.81,1488.52 L909.68,1487.60 L908.98,1487.16 L908.48,1486.67 L908.05,1485.40 L908.12,1483.97 L908.32,1483.33 L909.11,1482.23 L910.98,1480.83 L915.18,1479.23 L915.58,1417.45 L915.09,1415.76 L914.32,1414.58 L913.62,1414.12 L910.84,1412.93 L910.15,1412.50 L909.38,1411.59 L909.02,1410.59 L908.80,1409.27 L908.73,1407.54 Z  M945.57,1406.25 L945.73,1406.14 L947.07,1406.25 L956.63,1406.23 L965.15,1407.92 L971.82,1411.67 L976.56,1417.14 L976.93,1417.71 L979.73,1425.00 L979.77,1431.41 L979.60,1432.16 L977.65,1437.50 L973.67,1442.32 L973.13,1442.76 L967.00,1446.44 L966.82,1446.67 L967.06,1446.92 L972.24,1449.65 L975.28,1452.53 L977.14,1454.60 L977.32,1455.58 L978.95,1460.23 L979.71,1468.10 L980.37,1473.10 L980.36,1474.54 L980.57,1474.58 L980.97,1474.35 L982.83,1472.79 L983.48,1472.50 L984.87,1472.50 L986.25,1472.96 L986.82,1473.33 L987.72,1474.49 L988.34,1475.96 L988.50,1477.32 L988.22,1478.61 L987.27,1480.79 L985.73,1483.37 L983.96,1485.62 L982.60,1486.93 L981.82,1487.50 L979.77,1488.52 L976.34,1489.73 L975.32,1489.67 L969.57,1490.01 L962.04,1488.42 L961.42,1488.10 L955.98,1484.17 L953.15,1478.58 L952.98,1477.89 L952.22,1470.66 L951.91,1458.68 L951.36,1456.30 L951.05,1455.59 L950.57,1455.00 L949.80,1454.60 L946.69,1453.80 L945.98,1453.33 L945.55,1452.63 L945.28,1451.77 L945.17,1450.83 L945.26,1449.93 L945.57,1449.17 L946.20,1448.57 L949.29,1447.19 L950.15,1446.67 L951.40,1445.51 L951.90,1444.89 L952.65,1443.33 L952.99,1440.97 L953.09,1437.21 L953.13,1421.92 L952.53,1418.65 L951.82,1416.67 L951.28,1415.99 L950.61,1415.45 L945.96,1412.81 L945.38,1412.22 L945.57,1411.00 L945.57,1407.75 L945.46,1406.66 Z  M988.55,1406.23 L1023.18,1406.23 L1025.29,1407.31 L1025.99,1407.80 L1026.50,1408.33 L1026.81,1408.94 L1027.00,1409.64 L1027.04,1411.06 L1026.92,1411.67 L1026.34,1412.63 L1024.83,1413.75 L1021.70,1414.68 L1021.08,1415.00 L1020.34,1415.96 L1019.82,1417.45 L1020.24,1473.37 L1021.31,1476.41 L1022.33,1478.33 L1022.93,1478.89 L1023.62,1479.26 L1027.39,1480.75 L1027.84,1480.99 L1028.33,1481.46 L1028.17,1482.75 L1028.17,1488.92 L1028.27,1490.15 L1028.04,1490.51 L1018.79,1489.98 L1008.79,1488.26 L1000.67,1484.17 L994.83,1477.50 L992.72,1468.97 L992.34,1458.53 L993.18,1416.63 L992.66,1415.67 L991.92,1415.00 L988.82,1413.72 L988.17,1413.33 L987.25,1412.41 L986.67,1411.37 L986.43,1410.26 L986.72,1408.43 L986.92,1407.92 L987.50,1407.08 Z  M1038.17,1406.25 L1059.79,1406.20 L1061.04,1406.87 L1062.33,1407.80 L1062.75,1408.33 L1062.98,1408.93 L1063.10,1410.33 L1062.75,1411.67 L1061.85,1412.75 L1059.83,1414.17 L1056.39,1415.73 L1055.67,1416.25 L1055.10,1416.87 L1054.62,1417.57 L1053.89,1419.14 L1053.32,1420.98 L1053.12,1422.08 L1052.74,1425.00 L1053.17,1463.37 L1051.84,1472.72 L1048.17,1480.00 L1042.52,1485.69 L1036.10,1489.02 L1032.74,1490.09 L1031.08,1490.42 L1030.79,1490.37 L1030.75,1490.26 L1031.01,1489.59 L1031.08,1488.92 L1031.08,1482.33 L1030.79,1481.04 L1031.70,1480.59 L1034.65,1479.94 L1035.67,1479.58 L1038.95,1477.79 L1041.09,1476.33 L1041.50,1475.42 L1044.00,1471.67 L1045.25,1465.04 L1045.67,1424.96 L1044.41,1420.61 L1044.35,1419.84 L1044.00,1419.17 L1041.38,1416.10 L1039.97,1414.90 L1037.87,1413.75 L1037.33,1413.33 L1036.92,1412.87 L1036.36,1411.88 L1036.04,1410.26 L1036.31,1408.43 L1036.50,1407.92 L1037.08,1407.08 Z  M903.80,1478.00 L903.74,1479.24 L903.56,1480.48 L903.25,1481.69 L902.83,1482.86 L902.30,1483.99 L901.66,1485.06 L900.92,1486.06 L900.08,1486.98 L899.16,1487.82 L898.16,1488.56 L897.09,1489.20 L895.96,1489.73 L894.79,1490.15 L893.58,1490.46 L892.34,1490.64 L891.10,1490.70 L889.86,1490.64 L888.62,1490.46 L887.41,1490.15 L886.24,1489.73 L885.11,1489.20 L884.04,1488.56 L883.04,1487.82 L882.12,1486.98 L881.28,1486.06 L880.54,1485.06 L879.90,1483.99 L879.37,1482.86 L878.95,1481.69 L878.64,1480.48 L878.46,1479.24 L878.40,1478.00 L878.46,1476.76 L878.64,1475.52 L878.95,1474.31 L879.37,1473.14 L879.90,1472.01 L880.54,1470.94 L881.28,1469.94 L882.12,1469.02 L883.04,1468.18 L884.04,1467.44 L885.11,1466.80 L886.24,1466.27 L887.41,1465.85 L888.62,1465.54 L889.86,1465.36 L891.10,1465.30 L892.34,1465.36 L893.58,1465.54 L894.79,1465.85 L895.96,1466.27 L897.09,1466.80 L898.16,1467.44 L899.16,1468.18 L900.08,1469.02 L900.92,1469.94 L901.66,1470.94 L902.30,1472.01 L902.83,1473.14 L903.25,1474.31 L903.56,1475.52 L903.74,1476.76 Z " fill="#65a9cc" fill-rule="nonzero"/>
<path d="M198.93,1407.14 L198.93,1410.85 L197.34,1411.42 L195.66,1412.24 L194.42,1413.13 L192.33,1415.37 L191.44,1416.88 L190.96,1418.13 L190.50,1420.62 L190.45,1421.87 L190.58,1423.77 L191.08,1426.06 L191.98,1428.21 L193.59,1430.29 L196.27,1432.63 L216.01,1442.45 L222.13,1446.55 L226.27,1450.71 L229.24,1455.41 L230.80,1461.79 L230.48,1467.62 L228.75,1473.49 L224.82,1479.39 L220.10,1483.49 L214.12,1486.50 L207.67,1488.15 L203.87,1488.35 L203.87,1482.65 L205.90,1482.18 L207.15,1481.71 L209.32,1480.33 L210.29,1479.43 L211.40,1478.03 L212.42,1475.75 L212.87,1473.31 L212.81,1471.52 L212.46,1470.13 L211.57,1468.06 L210.32,1465.83 L210.00,1465.41 L208.84,1464.58 L204.79,1461.24 L196.78,1457.27 L188.62,1453.52 L182.15,1449.02 L178.51,1444.77 L175.87,1439.55 L174.72,1432.88 L174.73,1426.90 L176.00,1421.02 L179.16,1415.27 L183.26,1411.50 L188.74,1408.76 L194.97,1407.39 Z  M206.87,1407.68 L210.70,1408.45 L217.13,1411.02 L218.98,1411.88 L220.11,1412.21 L220.86,1412.26 L222.04,1412.08 L223.17,1411.45 L226.16,1408.30 L227.06,1407.61 L227.57,1408.49 L227.92,1409.56 L228.14,1416.91 L228.07,1429.71 L227.86,1431.40 L227.52,1432.15 L227.14,1432.57 L226.67,1432.82 L225.83,1432.96 L225.40,1432.85 L225.18,1432.62 L224.44,1431.13 L223.73,1428.35 L222.74,1425.22 L221.37,1421.84 L219.13,1418.29 L216.51,1415.44 L213.36,1413.00 L211.03,1411.76 L206.87,1410.47 Z  M174.72,1460.22 L175.43,1459.43 L176.31,1459.46 L177.13,1459.70 L177.81,1460.29 L178.77,1461.77 L182.55,1470.76 L184.66,1473.93 L186.26,1476.01 L188.75,1478.57 L190.65,1480.07 L192.93,1481.28 L196.80,1482.63 L196.80,1487.34 L194.56,1487.10 L188.79,1485.92 L183.56,1484.37 L182.10,1483.75 L181.51,1483.73 L180.02,1484.20 L176.98,1486.04 L175.33,1486.74 L174.74,1485.76 L174.32,1479.74 L174.33,1466.92 Z  M237.27,1408.52 L266.84,1408.52 L266.81,1486.54 L237.69,1486.50 L237.22,1485.70 L237.09,1484.71 L237.22,1483.88 L237.61,1483.46 L238.49,1482.92 L239.50,1482.40 L241.31,1481.74 L242.36,1481.06 L242.69,1480.74 L243.19,1479.88 L243.54,1478.33 L243.52,1416.99 L243.34,1415.63 L243.10,1414.89 L242.32,1413.54 L241.08,1412.64 L238.58,1411.49 L237.42,1410.40 L237.14,1409.94 L237.09,1409.48 Z  M274.53,1411.69 L274.51,1408.51 L295.83,1408.51 L295.83,1429.75 L295.50,1429.94 L295.15,1429.95 L294.83,1429.78 L294.31,1429.04 L293.13,1426.69 L290.68,1421.12 L290.35,1420.58 L286.71,1416.28 L285.91,1415.53 L279.64,1412.36 L278.90,1412.15 Z  M274.87,1449.05 L274.86,1444.06 L277.11,1442.79 L278.62,1441.74 L280.20,1440.25 L282.37,1436.81 L283.64,1434.23 L284.23,1432.65 L284.70,1432.52 L285.17,1432.64 L285.32,1433.17 L285.44,1435.36 L285.48,1459.68 L285.01,1461.41 L284.36,1461.47 L283.89,1461.32 L283.40,1460.98 L282.83,1460.18 L280.60,1454.75 L278.96,1451.85 L278.16,1451.03 L277.04,1450.19 Z  M274.53,1482.21 L279.01,1481.51 L279.72,1481.26 L285.91,1477.81 L286.61,1477.15 L290.15,1472.47 L292.70,1467.38 L293.67,1465.80 L294.48,1464.77 L295.02,1464.33 L295.82,1464.26 L296.49,1465.49 L296.50,1486.49 L274.51,1486.49 Z  M301.53,1486.86 L301.47,1480.87 L305.75,1476.64 L308.44,1470.04 L320.61,1428.55 L311.71,1469.50 L312.03,1477.22 L312.41,1478.58 L313.38,1479.64 L317.62,1482.64 L319.15,1485.08 L319.14,1485.91 L318.80,1486.54 L315.73,1486.83 Z  M320.59,1466.84 L321.88,1462.13 L333.22,1462.19 L333.75,1461.99 L334.56,1461.22 L334.89,1460.15 L324.70,1413.16 L325.01,1409.54 L325.31,1408.41 L348.17,1408.42 L348.49,1409.04 L364.69,1479.30 L365.18,1480.26 L368.56,1482.76 L369.79,1484.31 L370.05,1484.99 L369.83,1485.78 L369.44,1486.29 L367.04,1486.81 L336.53,1486.82 L334.46,1485.75 L334.29,1485.33 L334.36,1484.89 L335.59,1483.26 L338.41,1480.16 L339.06,1479.07 L339.29,1477.95 L338.81,1476.29 L337.24,1468.52 L336.50,1467.35 L336.05,1467.01 L334.96,1466.73 Z  M369.25,1408.53 L381.86,1408.48 L381.84,1412.94 L380.10,1414.20 L378.94,1415.31 L377.36,1417.32 L375.37,1420.35 L375.02,1421.04 L374.74,1422.33 L373.23,1427.37 L372.28,1431.73 L371.80,1432.67 L370.91,1433.52 L370.36,1433.84 L369.78,1431.98 L369.53,1426.58 Z  M382.13,1485.95 L381.93,1485.52 L381.84,1484.47 L382.08,1483.79 L382.66,1483.13 L383.46,1482.72 L386.67,1481.54 L388.36,1480.69 L388.85,1480.34 L389.23,1479.88 L389.47,1479.33 L389.55,1478.73 L389.50,1408.51 L412.47,1408.46 L412.45,1478.73 L412.70,1479.76 L413.40,1480.55 L417.06,1482.00 L419.34,1483.30 L420.31,1484.11 L420.53,1484.92 L420.49,1485.55 L419.90,1486.24 L418.89,1486.43 L383.67,1486.48 Z  M420.87,1408.53 L433.49,1408.51 L433.50,1432.12 L432.37,1433.86 L431.63,1433.94 L431.20,1433.57 L430.26,1432.16 L429.16,1426.24 L426.73,1419.17 L424.81,1416.34 L423.35,1414.59 L422.42,1413.77 L420.84,1412.82 Z  M437.82,1408.41 L467.34,1408.43 L467.27,1479.23 L467.56,1480.32 L468.34,1481.12 L472.82,1482.49 L473.79,1483.02 L474.55,1483.80 L474.83,1484.33 L474.85,1484.84 L474.64,1485.45 L474.50,1485.54 L471.72,1486.32 L439.12,1486.32 L437.24,1485.45 L437.12,1485.09 L437.15,1484.35 L437.55,1483.79 L438.91,1482.78 L443.28,1481.03 L443.97,1480.25 L444.23,1479.24 L444.62,1417.46 L444.05,1415.15 L443.01,1413.38 L442.73,1413.03 L441.70,1412.29 L438.45,1410.81 L438.17,1410.48 L438.01,1410.03 Z  M474.62,1408.45 L483.26,1408.43 L491.23,1410.01 L497.25,1413.40 L501.81,1418.72 L504.39,1425.41 L504.41,1431.17 L502.56,1436.39 L498.97,1440.75 L492.72,1444.55 L492.15,1445.05 L491.68,1445.73 L491.47,1446.77 L491.77,1447.78 L492.34,1448.45 L492.88,1448.86 L497.79,1451.45 L500.55,1454.07 L501.94,1455.61 L503.63,1460.71 L504.37,1468.31 L505.02,1473.23 L505.01,1474.53 L505.09,1475.13 L505.33,1475.69 L505.71,1476.16 L506.22,1476.51 L507.53,1476.78 L508.04,1476.69 L508.93,1476.25 L510.82,1474.70 L511.36,1474.70 L512.16,1474.97 L512.66,1475.61 L513.04,1476.53 L513.12,1477.22 L512.97,1477.93 L512.16,1479.79 L510.76,1482.12 L509.17,1484.14 L508.03,1485.24 L507.52,1485.61 L505.76,1486.49 L502.88,1487.50 L496.58,1487.80 L489.64,1486.33 L484.55,1482.70 L482.08,1477.81 L481.27,1470.52 L480.96,1458.62 L480.36,1455.81 L479.60,1454.20 L478.80,1453.29 L477.19,1452.47 L474.45,1451.76 L474.24,1450.82 L474.28,1450.43 L477.28,1449.07 L478.49,1448.28 L479.74,1447.13 L480.73,1445.84 L481.68,1443.64 L482.04,1441.03 L482.14,1437.26 L482.14,1421.52 L481.45,1417.91 L480.74,1415.93 L480.38,1415.29 L479.84,1414.62 L478.86,1413.75 L474.59,1411.29 Z  M515.73,1486.86 L515.67,1480.87 L519.95,1476.64 L522.64,1470.04 L534.81,1428.55 L525.91,1469.50 L526.23,1477.22 L526.61,1478.58 L527.58,1479.64 L531.82,1482.64 L533.35,1485.08 L533.34,1485.91 L533.00,1486.54 L529.93,1486.83 Z  M534.79,1466.84 L536.08,1462.13 L547.42,1462.19 L547.95,1461.99 L548.76,1461.22 L549.09,1460.15 L538.90,1413.16 L539.21,1409.54 L539.51,1408.41 L562.37,1408.42 L562.69,1409.04 L578.89,1479.30 L579.38,1480.26 L582.76,1482.76 L583.99,1484.31 L584.25,1484.99 L584.03,1485.78 L583.64,1486.29 L581.24,1486.81 L550.73,1486.82 L548.66,1485.75 L548.49,1485.33 L548.56,1484.89 L549.79,1483.26 L552.61,1480.16 L553.26,1479.07 L553.49,1477.95 L553.01,1476.29 L551.44,1468.52 L550.70,1467.35 L550.25,1467.01 L549.16,1466.73 Z  M607.98,1471.99 L608.65,1476.48 L609.30,1478.24 L610.46,1480.10 L612.01,1481.62 L612.55,1481.98 L613.80,1482.52 L615.47,1482.91 L615.47,1487.97 L606.46,1487.00 L598.05,1483.14 L591.08,1476.95 L586.32,1468.17 L583.66,1458.29 L583.38,1445.73 L584.86,1433.71 L588.68,1424.57 L594.11,1416.72 L602.27,1411.00 L609.87,1407.99 L615.47,1407.36 L615.47,1411.52 L613.60,1411.82 L612.28,1412.34 L611.08,1413.14 L609.71,1414.58 L609.37,1415.10 L608.54,1417.08 L607.99,1420.44 Z  M623.20,1407.66 L627.21,1408.43 L633.52,1411.30 L634.94,1412.21 L635.56,1412.33 L636.18,1412.27 L637.64,1411.53 L640.75,1408.77 L642.94,1407.23 L643.28,1407.16 L644.08,1407.29 L644.51,1407.52 L645.07,1409.47 L645.08,1434.50 L644.25,1436.34 L643.78,1437.01 L642.83,1437.12 L642.40,1436.96 L641.89,1436.52 L641.26,1435.59 L639.51,1430.32 L636.46,1423.48 L631.72,1416.88 L631.28,1416.34 L628.45,1413.84 L626.45,1412.38 L624.98,1411.64 L623.20,1411.03 Z  M623.20,1488.47 L623.20,1483.08 L628.07,1482.16 L628.76,1481.91 L634.59,1478.58 L635.19,1478.08 L638.31,1474.33 L639.30,1473.31 L641.34,1467.60 L642.45,1465.75 L642.95,1465.29 L643.39,1465.16 L643.97,1465.22 L644.28,1465.62 L645.08,1467.33 L644.68,1472.76 L640.90,1479.49 L635.57,1484.82 L628.75,1487.85 Z  M651.62,1485.34 L651.49,1484.60 L651.57,1483.87 L652.01,1483.26 L653.14,1482.47 L656.91,1481.06 L657.62,1480.28 L657.89,1479.26 L658.71,1416.64 L658.62,1415.98 L658.15,1414.59 L657.33,1413.57 L656.44,1412.94 L653.35,1411.78 L652.11,1410.94 L651.81,1410.60 L651.69,1410.18 L651.78,1409.46 L652.47,1408.42 L685.93,1408.43 L687.04,1409.07 L687.49,1409.52 L687.54,1410.16 L687.42,1410.62 L685.63,1411.72 L682.97,1412.59 L681.60,1413.45 L680.82,1414.68 L680.57,1416.22 L680.94,1479.24 L681.21,1480.28 L681.94,1481.07 L685.65,1482.40 L686.28,1482.86 L686.95,1483.78 L687.18,1484.42 L687.11,1485.00 L686.62,1485.88 L684.63,1486.31 L653.62,1486.32 Z  M687.88,1450.59 L688.03,1448.82 L688.25,1447.70 L703.24,1426.39 L705.08,1423.14 L706.04,1420.83 L706.27,1419.46 L706.25,1418.82 L705.77,1416.83 L705.09,1415.61 L704.03,1414.33 L701.22,1412.04 L699.22,1410.82 L699.07,1410.39 L699.02,1409.51 L699.35,1408.94 L699.89,1408.41 L723.98,1408.41 L725.14,1409.67 L725.11,1410.43 L724.77,1411.07 L724.05,1411.65 L721.92,1412.75 L716.61,1414.59 L715.93,1414.97 L710.78,1419.31 L705.60,1426.10 L704.14,1428.77 L703.54,1430.39 L703.42,1431.39 L703.54,1431.89 L704.35,1433.26 L707.80,1440.84 L723.62,1479.19 L724.15,1479.95 L727.52,1483.11 L728.22,1484.18 L728.61,1485.64 L726.93,1486.32 L693.72,1486.32 L692.72,1485.74 L692.73,1485.10 L692.96,1484.51 L696.40,1481.18 L696.78,1480.70 L697.02,1480.13 L697.09,1479.51 L696.99,1478.90 Z  M733.66,1408.52 L764.27,1408.52 L764.23,1486.54 L734.10,1486.50 L733.60,1485.68 L733.47,1484.72 L733.60,1483.90 L734.01,1483.48 L734.92,1482.93 L735.97,1482.41 L737.85,1481.75 L738.90,1481.08 L739.24,1480.76 L739.75,1479.91 L740.11,1478.33 L740.09,1416.98 L739.91,1415.63 L739.66,1414.87 L738.85,1413.52 L737.53,1412.60 L735.09,1411.55 L733.80,1410.38 L733.51,1409.92 L733.47,1409.48 Z  M772.06,1411.68 L772.04,1408.51 L794.15,1408.51 L794.15,1429.73 L793.77,1429.94 L793.33,1429.94 L792.98,1429.76 L792.44,1429.02 L791.22,1426.66 L788.70,1421.09 L788.35,1420.56 L784.60,1416.24 L783.79,1415.52 L777.34,1412.35 L776.61,1412.14 Z  M772.40,1449.03 L772.40,1444.07 L774.73,1442.81 L776.27,1441.76 L777.89,1440.27 L780.13,1436.84 L781.44,1434.25 L782.05,1432.68 L782.62,1432.52 L783.14,1432.65 L783.32,1433.18 L783.43,1435.36 L783.48,1459.67 L783.00,1461.39 L782.23,1461.47 L781.72,1461.31 L781.19,1460.95 L780.61,1460.15 L778.31,1454.73 L776.62,1451.83 L775.80,1451.01 L774.65,1450.17 Z  M772.06,1482.22 L776.72,1481.51 L777.42,1481.28 L783.89,1477.74 L784.64,1477.00 L788.15,1472.49 L790.78,1467.40 L791.78,1465.82 L792.62,1464.79 L793.19,1464.34 L793.66,1464.22 L794.13,1464.26 L794.83,1465.50 L794.84,1486.49 L772.04,1486.49 Z  M799.06,1408.41 L829.27,1408.43 L829.20,1479.23 L829.49,1480.32 L830.28,1481.12 L834.84,1482.49 L835.84,1483.03 L836.63,1483.81 L836.90,1484.34 L836.93,1484.83 L836.72,1485.43 L836.56,1485.53 L833.71,1486.32 L800.41,1486.32 L798.48,1485.43 L798.35,1485.08 L798.39,1484.36 L798.78,1483.81 L800.18,1482.79 L804.64,1481.04 L805.34,1480.26 L805.60,1479.24 L806.01,1417.46 L805.42,1415.14 L804.35,1413.36 L804.07,1413.02 L803.02,1412.28 L799.71,1410.80 L799.42,1410.46 L799.26,1410.02 Z  M836.60,1408.45 L845.48,1408.43 L853.62,1410.01 L859.78,1413.41 L864.43,1418.74 L867.05,1425.42 L867.08,1431.16 L865.20,1436.38 L861.52,1440.74 L855.14,1444.55 L854.56,1445.05 L854.09,1445.72 L853.88,1446.77 L854.18,1447.79 L854.75,1448.46 L855.30,1448.86 L860.33,1451.47 L863.14,1454.09 L864.56,1455.62 L866.28,1460.72 L867.03,1468.31 L867.70,1473.24 L867.69,1474.53 L867.77,1475.13 L868.01,1475.69 L868.40,1476.16 L868.90,1476.51 L870.21,1476.78 L870.72,1476.69 L871.60,1476.26 L873.54,1474.70 L874.14,1474.70 L874.98,1474.99 L875.49,1475.63 L875.88,1476.54 L875.97,1477.22 L875.81,1477.91 L874.98,1479.77 L873.56,1482.11 L871.94,1484.12 L870.78,1485.22 L870.25,1485.60 L868.44,1486.48 L865.49,1487.50 L859.03,1487.80 L851.93,1486.33 L846.73,1482.68 L844.21,1477.79 L843.38,1470.52 L843.07,1458.62 L842.46,1455.80 L841.68,1454.18 L840.87,1453.28 L839.25,1452.47 L836.44,1451.76 L836.21,1450.82 L836.26,1450.44 L839.08,1449.21 L840.20,1448.55 L841.83,1447.14 L842.83,1445.86 L843.80,1443.65 L844.17,1441.03 L844.27,1437.26 L844.27,1421.52 L843.57,1417.90 L842.84,1415.91 L842.48,1415.27 L841.93,1414.60 L840.93,1413.74 L836.58,1411.28 Z  M910.97,1408.41 L940.49,1408.43 L940.42,1479.23 L940.71,1480.32 L941.49,1481.12 L945.97,1482.49 L946.94,1483.02 L947.70,1483.80 L947.98,1484.33 L948.00,1484.84 L947.79,1485.45 L947.65,1485.54 L944.87,1486.32 L912.27,1486.32 L910.39,1485.45 L910.27,1485.09 L910.30,1484.35 L910.70,1483.79 L912.06,1482.78 L916.43,1481.03 L917.12,1480.25 L917.38,1479.24 L917.77,1417.46 L917.20,1415.15 L916.16,1413.38 L915.88,1413.03 L914.85,1412.29 L911.60,1410.81 L911.32,1410.48 L911.16,1410.03 Z  M947.77,1408.45 L956.41,1408.43 L964.38,1410.01 L970.40,1413.40 L974.96,1418.72 L977.54,1425.41 L977.56,1431.17 L975.71,1436.39 L972.12,1440.75 L965.87,1444.55 L965.30,1445.05 L964.83,1445.73 L964.62,1446.77 L964.92,1447.78 L965.49,1448.45 L966.03,1448.86 L970.94,1451.45 L973.70,1454.07 L975.09,1455.61 L976.78,1460.71 L977.52,1468.31 L978.17,1473.23 L978.16,1474.53 L978.24,1475.13 L978.48,1475.69 L978.86,1476.16 L979.37,1476.51 L980.68,1476.78 L981.19,1476.69 L982.08,1476.25 L983.97,1474.70 L984.51,1474.70 L985.31,1474.97 L985.81,1475.61 L986.19,1476.53 L986.27,1477.22 L986.12,1477.93 L985.31,1479.79 L983.91,1482.12 L982.32,1484.14 L981.18,1485.24 L980.67,1485.61 L978.91,1486.49 L976.03,1487.50 L969.73,1487.80 L962.79,1486.33 L957.70,1482.70 L955.23,1477.81 L954.42,1470.52 L954.11,1458.62 L953.51,1455.81 L952.75,1454.20 L951.95,1453.29 L950.34,1452.47 L947.60,1451.76 L947.39,1450.82 L947.43,1450.43 L950.43,1449.07 L951.64,1448.28 L952.89,1447.13 L953.88,1445.84 L954.83,1443.64 L955.19,1441.03 L955.29,1437.26 L955.29,1421.52 L954.60,1417.91 L953.89,1415.93 L953.53,1415.29 L952.99,1414.62 L952.01,1413.75 L947.74,1411.29 Z  M989.33,1408.43 L1022.65,1408.43 L1024.15,1409.20 L1024.75,1409.73 L1024.83,1410.87 L1024.68,1411.13 L1023.83,1411.75 L1020.70,1412.73 L1019.68,1413.31 L1019.34,1413.65 L1018.26,1415.24 L1017.75,1416.73 L1017.62,1417.47 L1018.04,1473.38 L1018.16,1474.10 L1019.24,1477.14 L1020.39,1479.36 L1020.84,1479.95 L1021.44,1480.50 L1022.56,1481.19 L1025.98,1482.56 L1025.97,1488.18 L1019.04,1487.79 L1009.49,1486.15 L1002.04,1482.40 L996.84,1476.45 L994.91,1468.66 L994.54,1458.51 L995.38,1416.67 L995.32,1416.10 L994.59,1414.62 L993.40,1413.37 L992.76,1412.97 L989.81,1411.75 L989.02,1411.07 L988.67,1410.20 L988.86,1409.00 Z  M1033.28,1487.61 L1033.28,1482.49 L1035.37,1482.01 L1036.72,1481.51 L1040.00,1479.72 L1042.33,1478.15 L1042.77,1477.74 L1043.43,1476.49 L1045.83,1472.89 L1046.16,1472.08 L1047.45,1465.06 L1047.87,1424.98 L1047.78,1424.35 L1046.59,1420.22 L1046.47,1419.23 L1045.95,1418.14 L1042.80,1414.42 L1041.39,1413.22 L1039.08,1411.91 L1038.72,1411.58 L1038.45,1411.10 L1038.27,1410.20 L1038.45,1408.98 L1038.92,1408.45 L1059.24,1408.40 L1060.82,1409.44 L1060.88,1410.14 L1060.75,1410.64 L1060.35,1411.12 L1058.74,1412.25 L1055.10,1413.95 L1054.38,1414.46 L1053.47,1415.39 L1052.63,1416.64 L1051.89,1418.21 L1051.22,1420.33 L1050.94,1421.80 L1050.54,1425.02 L1050.97,1463.23 L1049.71,1472.05 L1046.36,1478.70 L1041.20,1483.89 L1035.25,1486.98 Z  M901.60,1478.00 L901.40,1480.05 L900.80,1482.02 L899.83,1483.83 L898.52,1485.42 L896.93,1486.73 L895.12,1487.70 L893.15,1488.30 L891.10,1488.50 L889.05,1488.30 L887.08,1487.70 L885.27,1486.73 L883.68,1485.42 L882.37,1483.83 L881.40,1482.02 L880.80,1480.05 L880.60,1478.00 L880.80,1475.95 L881.40,1473.98 L882.37,1472.17 L883.68,1470.58 L885.27,1469.27 L887.08,1468.30 L889.05,1467.70 L891.10,1467.50 L893.15,1467.70 L895.12,1468.30 L896.93,1469.27 L898.52,1470.58 L899.83,1472.17 L900.80,1473.98 L901.40,1475.95 Z " fill="#fff" fill-rule="nonzero" clip-path="url(#wmtop)"/>
<line x1="113.3" y1="1433.3" x2="967.5" y2="1433.3" stroke="#2a7cab" stroke-width="1.1"/>
<text x="530.0" y="1453.7" font-size="17" fill="#111" font-family="Liberation Sans" textLength="20.8" lengthAdjust="spacingAndGlyphs">74</text>

</svg>
</body></html>
